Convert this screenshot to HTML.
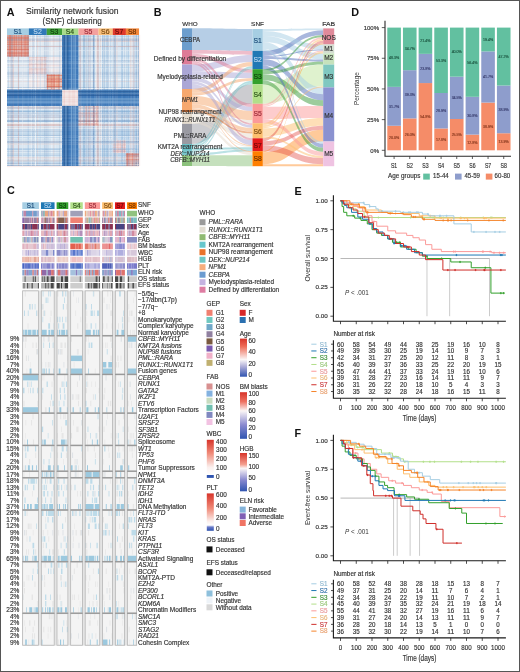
<!DOCTYPE html>
<html><head><meta charset="utf-8"><title>Figure</title>
<style>
html,body{margin:0;padding:0;background:#fff;}
body{width:520px;height:672px;overflow:hidden;font-family:"Liberation Sans", sans-serif;}
svg{display:block;will-change:transform;}
text{font-family:"Liberation Sans", sans-serif;}
</style></head><body>
<svg width="520" height="672" viewBox="0 0 520 672">
<rect x="0" y="0" width="520" height="672" fill="#fff"/>
<text x="6.80" y="15.80" font-size="10.8" fill="#111" font-weight="bold">A</text>
<text x="72.30" y="14.10" font-size="8.8" fill="#333" stroke="#333" stroke-width="0.16" text-anchor="middle" textLength="92.6" lengthAdjust="spacingAndGlyphs">Similarity network fusion</text>
<text x="72.20" y="23.50" font-size="8.8" fill="#333" stroke="#333" stroke-width="0.16" text-anchor="middle" textLength="59.2" lengthAdjust="spacingAndGlyphs">(SNF) clustering</text>
<rect x="7.00" y="28.4" width="21.93" height="6.6" fill="#a6cee3"/>
<text x="17.64" y="34.10" font-size="6.9" fill="#1a4a78" stroke="#1a4a78" stroke-width="0.16" text-anchor="middle">S1</text>
<rect x="28.88" y="28.4" width="17.92" height="6.6" fill="#2f78b8"/>
<text x="37.51" y="34.10" font-size="6.9" fill="#bcd8f0" stroke="#bcd8f0" stroke-width="0.16" text-anchor="middle">S2</text>
<rect x="46.75" y="28.4" width="15.36" height="6.6" fill="#3f9e3a"/>
<text x="54.10" y="34.10" font-size="6.9" fill="#0d3d0a" stroke="#0d3d0a" stroke-width="0.16" text-anchor="middle">S3</text>
<rect x="62.06" y="28.4" width="16.46" height="6.6" fill="#a9db8c"/>
<text x="69.97" y="34.10" font-size="6.9" fill="#2a5018" stroke="#2a5018" stroke-width="0.16" text-anchor="middle">S4</text>
<rect x="78.47" y="28.4" width="20.11" height="6.6" fill="#f4a09e"/>
<text x="88.20" y="34.10" font-size="6.9" fill="#9a2a38" stroke="#9a2a38" stroke-width="0.16" text-anchor="middle">S5</text>
<rect x="98.52" y="28.4" width="14.27" height="6.6" fill="#f8c07c"/>
<text x="105.34" y="34.10" font-size="6.9" fill="#7a4a12" stroke="#7a4a12" stroke-width="0.16" text-anchor="middle">S6</text>
<rect x="112.75" y="28.4" width="13.18" height="6.6" fill="#df3a2c"/>
<text x="119.01" y="34.10" font-size="6.9" fill="#6a0808" stroke="#6a0808" stroke-width="0.16" text-anchor="middle">S7</text>
<rect x="125.87" y="28.4" width="13.18" height="6.6" fill="#f3873a"/>
<text x="132.14" y="34.10" font-size="6.9" fill="#6b3000" stroke="#6b3000" stroke-width="0.16" text-anchor="middle">S8</text>
<rect x="7.00" y="35.00" width="21.93" height="21.76" fill="#e6a898"/>
<rect x="28.88" y="35.00" width="17.92" height="21.76" fill="#e1e9f1"/>
<rect x="46.75" y="35.00" width="15.36" height="21.76" fill="#e1e9f1"/>
<rect x="62.06" y="35.00" width="16.46" height="21.76" fill="#3f79b9"/>
<rect x="78.47" y="35.00" width="20.11" height="21.76" fill="#dae7f2"/>
<rect x="98.52" y="35.00" width="14.27" height="21.76" fill="#dae7f2"/>
<rect x="112.75" y="35.00" width="13.18" height="21.76" fill="#dae7f2"/>
<rect x="125.87" y="35.00" width="13.18" height="21.76" fill="#dae7f2"/>
<rect x="7.00" y="56.71" width="21.93" height="17.78" fill="#e1e9f1"/>
<rect x="28.88" y="56.71" width="17.92" height="17.78" fill="#efe2e4"/>
<rect x="46.75" y="56.71" width="15.36" height="17.78" fill="#ebe6ea"/>
<rect x="62.06" y="56.71" width="16.46" height="17.78" fill="#3f79b9"/>
<rect x="78.47" y="56.71" width="20.11" height="17.78" fill="#dae7f2"/>
<rect x="98.52" y="56.71" width="14.27" height="17.78" fill="#dae7f2"/>
<rect x="112.75" y="56.71" width="13.18" height="17.78" fill="#dae7f2"/>
<rect x="125.87" y="56.71" width="13.18" height="17.78" fill="#dae7f2"/>
<rect x="7.00" y="74.44" width="21.93" height="15.25" fill="#e1e9f1"/>
<rect x="28.88" y="74.44" width="17.92" height="15.25" fill="#ebe6ea"/>
<rect x="46.75" y="74.44" width="15.36" height="15.25" fill="#e9a890"/>
<rect x="62.06" y="74.44" width="16.46" height="15.25" fill="#3f79b9"/>
<rect x="78.47" y="74.44" width="20.11" height="15.25" fill="#dae7f2"/>
<rect x="98.52" y="74.44" width="14.27" height="15.25" fill="#dae7f2"/>
<rect x="112.75" y="74.44" width="13.18" height="15.25" fill="#dae7f2"/>
<rect x="125.87" y="74.44" width="13.18" height="15.25" fill="#dae7f2"/>
<rect x="7.00" y="89.64" width="21.93" height="16.33" fill="#3f79b9"/>
<rect x="28.88" y="89.64" width="17.92" height="16.33" fill="#3f79b9"/>
<rect x="46.75" y="89.64" width="15.36" height="16.33" fill="#3f79b9"/>
<rect x="62.06" y="89.64" width="16.46" height="16.33" fill="#f3e8e8"/>
<rect x="78.47" y="89.64" width="20.11" height="16.33" fill="#3f79b9"/>
<rect x="98.52" y="89.64" width="14.27" height="16.33" fill="#3f79b9"/>
<rect x="112.75" y="89.64" width="13.18" height="16.33" fill="#3f79b9"/>
<rect x="125.87" y="89.64" width="13.18" height="16.33" fill="#3f79b9"/>
<rect x="7.00" y="105.93" width="21.93" height="19.95" fill="#dae7f2"/>
<rect x="28.88" y="105.93" width="17.92" height="19.95" fill="#dae7f2"/>
<rect x="46.75" y="105.93" width="15.36" height="19.95" fill="#dae7f2"/>
<rect x="62.06" y="105.93" width="16.46" height="19.95" fill="#3f79b9"/>
<rect x="78.47" y="105.93" width="20.11" height="19.95" fill="#f1dddd"/>
<rect x="98.52" y="105.93" width="14.27" height="19.95" fill="#cddff0"/>
<rect x="112.75" y="105.93" width="13.18" height="19.95" fill="#cddff0"/>
<rect x="125.87" y="105.93" width="13.18" height="19.95" fill="#cddff0"/>
<rect x="7.00" y="125.83" width="21.93" height="14.16" fill="#dae7f2"/>
<rect x="28.88" y="125.83" width="17.92" height="14.16" fill="#dae7f2"/>
<rect x="46.75" y="125.83" width="15.36" height="14.16" fill="#dae7f2"/>
<rect x="62.06" y="125.83" width="16.46" height="14.16" fill="#3f79b9"/>
<rect x="78.47" y="125.83" width="20.11" height="14.16" fill="#cddff0"/>
<rect x="98.52" y="125.83" width="14.27" height="14.16" fill="#e2e8f0"/>
<rect x="112.75" y="125.83" width="13.18" height="14.16" fill="#cddff0"/>
<rect x="125.87" y="125.83" width="13.18" height="14.16" fill="#cddff0"/>
<rect x="7.00" y="139.94" width="21.93" height="13.08" fill="#dae7f2"/>
<rect x="28.88" y="139.94" width="17.92" height="13.08" fill="#dae7f2"/>
<rect x="46.75" y="139.94" width="15.36" height="13.08" fill="#dae7f2"/>
<rect x="62.06" y="139.94" width="16.46" height="13.08" fill="#3f79b9"/>
<rect x="78.47" y="139.94" width="20.11" height="13.08" fill="#cddff0"/>
<rect x="98.52" y="139.94" width="14.27" height="13.08" fill="#cddff0"/>
<rect x="112.75" y="139.94" width="13.18" height="13.08" fill="#f0e0e2"/>
<rect x="125.87" y="139.94" width="13.18" height="13.08" fill="#cddff0"/>
<rect x="7.00" y="152.97" width="21.93" height="13.08" fill="#dae7f2"/>
<rect x="28.88" y="152.97" width="17.92" height="13.08" fill="#dae7f2"/>
<rect x="46.75" y="152.97" width="15.36" height="13.08" fill="#dae7f2"/>
<rect x="62.06" y="152.97" width="16.46" height="13.08" fill="#3f79b9"/>
<rect x="78.47" y="152.97" width="20.11" height="13.08" fill="#cddff0"/>
<rect x="98.52" y="152.97" width="14.27" height="13.08" fill="#cddff0"/>
<rect x="112.75" y="152.97" width="13.18" height="13.08" fill="#cddff0"/>
<rect x="125.87" y="152.97" width="13.18" height="13.08" fill="#e9b6ac"/>
<g><rect x="112.35" y="35.0" width="1.1" height="131.0" fill="#8fb8dc" opacity="0.56"/><rect x="7.0" y="139.55" width="132.0" height="1.1" fill="#8fb8dc" opacity="0.56"/><rect x="51.26" y="35.0" width="1.1" height="131.0" fill="#ffffff" opacity="0.54"/><rect x="7.0" y="78.93" width="132.0" height="1.1" fill="#ffffff" opacity="0.54"/><rect x="23.71" y="35.0" width="0.5" height="131.0" fill="#ffffff" opacity="0.57"/><rect x="7.0" y="51.58" width="132.0" height="0.5" fill="#ffffff" opacity="0.57"/><rect x="114.51" y="35.0" width="1.1" height="131.0" fill="#ec9a88" opacity="0.28"/><rect x="7.0" y="141.70" width="132.0" height="1.1" fill="#ec9a88" opacity="0.28"/><rect x="88.00" y="35.0" width="0.5" height="131.0" fill="#ec9a88" opacity="0.16"/><rect x="7.0" y="115.39" width="132.0" height="0.5" fill="#ec9a88" opacity="0.16"/><rect x="55.43" y="35.0" width="0.5" height="131.0" fill="#ffffff" opacity="0.40"/><rect x="7.0" y="83.06" width="132.0" height="0.5" fill="#ffffff" opacity="0.40"/><rect x="90.29" y="35.0" width="0.7" height="131.0" fill="#ffffff" opacity="0.45"/><rect x="7.0" y="117.66" width="132.0" height="0.7" fill="#ffffff" opacity="0.45"/><rect x="106.15" y="35.0" width="0.9" height="131.0" fill="#8fb8dc" opacity="0.47"/><rect x="7.0" y="133.40" width="132.0" height="0.9" fill="#8fb8dc" opacity="0.47"/><rect x="83.51" y="35.0" width="0.9" height="131.0" fill="#8fb8dc" opacity="0.37"/><rect x="7.0" y="110.93" width="132.0" height="0.9" fill="#8fb8dc" opacity="0.37"/><rect x="10.87" y="35.0" width="0.5" height="131.0" fill="#8fb8dc" opacity="0.55"/><rect x="7.0" y="38.84" width="132.0" height="0.5" fill="#8fb8dc" opacity="0.55"/><rect x="136.46" y="35.0" width="0.5" height="131.0" fill="#2a5f9e" opacity="0.29"/><rect x="7.0" y="163.48" width="132.0" height="0.5" fill="#2a5f9e" opacity="0.29"/><rect x="27.67" y="35.0" width="1.1" height="131.0" fill="#8fb8dc" opacity="0.47"/><rect x="7.0" y="55.52" width="132.0" height="1.1" fill="#8fb8dc" opacity="0.47"/><rect x="44.16" y="35.0" width="0.9" height="131.0" fill="#2a5f9e" opacity="0.17"/><rect x="7.0" y="71.88" width="132.0" height="0.9" fill="#2a5f9e" opacity="0.17"/><rect x="124.35" y="35.0" width="0.5" height="131.0" fill="#2a5f9e" opacity="0.24"/><rect x="7.0" y="151.47" width="132.0" height="0.5" fill="#2a5f9e" opacity="0.24"/><rect x="32.60" y="35.0" width="1.1" height="131.0" fill="#2a5f9e" opacity="0.21"/><rect x="7.0" y="60.41" width="132.0" height="1.1" fill="#2a5f9e" opacity="0.21"/><rect x="90.01" y="35.0" width="0.7" height="131.0" fill="#8fb8dc" opacity="0.42"/><rect x="7.0" y="117.38" width="132.0" height="0.7" fill="#8fb8dc" opacity="0.42"/><rect x="138.40" y="35.0" width="0.5" height="131.0" fill="#2a5f9e" opacity="0.29"/><rect x="7.0" y="165.40" width="132.0" height="0.5" fill="#2a5f9e" opacity="0.29"/><rect x="96.88" y="35.0" width="0.5" height="131.0" fill="#2a5f9e" opacity="0.18"/><rect x="7.0" y="124.20" width="132.0" height="0.5" fill="#2a5f9e" opacity="0.18"/><rect x="117.32" y="35.0" width="0.5" height="131.0" fill="#2a5f9e" opacity="0.13"/><rect x="7.0" y="144.48" width="132.0" height="0.5" fill="#2a5f9e" opacity="0.13"/><rect x="79.05" y="35.0" width="0.9" height="131.0" fill="#ec9a88" opacity="0.23"/><rect x="7.0" y="106.50" width="132.0" height="0.9" fill="#ec9a88" opacity="0.23"/><rect x="18.49" y="35.0" width="0.7" height="131.0" fill="#2a5f9e" opacity="0.17"/><rect x="7.0" y="46.41" width="132.0" height="0.7" fill="#2a5f9e" opacity="0.17"/><rect x="86.17" y="35.0" width="1.1" height="131.0" fill="#ec9a88" opacity="0.18"/><rect x="7.0" y="113.57" width="132.0" height="1.1" fill="#ec9a88" opacity="0.18"/><rect x="116.44" y="35.0" width="0.9" height="131.0" fill="#ec9a88" opacity="0.31"/><rect x="7.0" y="143.61" width="132.0" height="0.9" fill="#ec9a88" opacity="0.31"/><rect x="17.45" y="35.0" width="0.7" height="131.0" fill="#ffffff" opacity="0.42"/><rect x="7.0" y="45.37" width="132.0" height="0.7" fill="#ffffff" opacity="0.42"/><rect x="83.22" y="35.0" width="0.5" height="131.0" fill="#2a5f9e" opacity="0.11"/><rect x="7.0" y="110.64" width="132.0" height="0.5" fill="#2a5f9e" opacity="0.11"/><rect x="92.90" y="35.0" width="1.1" height="131.0" fill="#2a5f9e" opacity="0.26"/><rect x="7.0" y="120.25" width="132.0" height="1.1" fill="#2a5f9e" opacity="0.26"/><rect x="96.23" y="35.0" width="0.7" height="131.0" fill="#ec9a88" opacity="0.35"/><rect x="7.0" y="123.56" width="132.0" height="0.7" fill="#ec9a88" opacity="0.35"/><rect x="33.39" y="35.0" width="0.5" height="131.0" fill="#2a5f9e" opacity="0.28"/><rect x="7.0" y="61.19" width="132.0" height="0.5" fill="#2a5f9e" opacity="0.28"/><rect x="7.91" y="35.0" width="0.9" height="131.0" fill="#8fb8dc" opacity="0.37"/><rect x="7.0" y="35.91" width="132.0" height="0.9" fill="#8fb8dc" opacity="0.37"/><rect x="22.53" y="35.0" width="0.7" height="131.0" fill="#2a5f9e" opacity="0.13"/><rect x="7.0" y="50.41" width="132.0" height="0.7" fill="#2a5f9e" opacity="0.13"/><rect x="98.50" y="35.0" width="0.7" height="131.0" fill="#ffffff" opacity="0.58"/><rect x="7.0" y="125.81" width="132.0" height="0.7" fill="#ffffff" opacity="0.58"/><rect x="100.11" y="35.0" width="0.9" height="131.0" fill="#ec9a88" opacity="0.15"/><rect x="7.0" y="127.40" width="132.0" height="0.9" fill="#ec9a88" opacity="0.15"/><rect x="107.66" y="35.0" width="0.9" height="131.0" fill="#8fb8dc" opacity="0.60"/><rect x="7.0" y="134.90" width="132.0" height="0.9" fill="#8fb8dc" opacity="0.60"/><rect x="37.07" y="35.0" width="0.5" height="131.0" fill="#ec9a88" opacity="0.30"/><rect x="7.0" y="64.84" width="132.0" height="0.5" fill="#ec9a88" opacity="0.30"/><rect x="126.49" y="35.0" width="0.9" height="131.0" fill="#8fb8dc" opacity="0.51"/><rect x="7.0" y="153.58" width="132.0" height="0.9" fill="#8fb8dc" opacity="0.51"/><rect x="131.20" y="35.0" width="1.1" height="131.0" fill="#ec9a88" opacity="0.16"/><rect x="7.0" y="158.26" width="132.0" height="1.1" fill="#ec9a88" opacity="0.16"/><rect x="79.35" y="35.0" width="1.1" height="131.0" fill="#8fb8dc" opacity="0.30"/><rect x="7.0" y="106.80" width="132.0" height="1.1" fill="#8fb8dc" opacity="0.30"/><rect x="11.99" y="35.0" width="0.5" height="131.0" fill="#ec9a88" opacity="0.33"/><rect x="7.0" y="39.95" width="132.0" height="0.5" fill="#ec9a88" opacity="0.33"/><rect x="101.98" y="35.0" width="1.1" height="131.0" fill="#8fb8dc" opacity="0.55"/><rect x="7.0" y="129.26" width="132.0" height="1.1" fill="#8fb8dc" opacity="0.55"/><rect x="48.31" y="35.0" width="0.5" height="131.0" fill="#8fb8dc" opacity="0.33"/><rect x="7.0" y="75.99" width="132.0" height="0.5" fill="#8fb8dc" opacity="0.33"/><rect x="59.71" y="35.0" width="0.5" height="131.0" fill="#8fb8dc" opacity="0.48"/><rect x="7.0" y="87.32" width="132.0" height="0.5" fill="#8fb8dc" opacity="0.48"/><rect x="93.96" y="35.0" width="0.5" height="131.0" fill="#8fb8dc" opacity="0.34"/><rect x="7.0" y="121.30" width="132.0" height="0.5" fill="#8fb8dc" opacity="0.34"/><rect x="109.85" y="35.0" width="0.9" height="131.0" fill="#ffffff" opacity="0.43"/><rect x="7.0" y="137.07" width="132.0" height="0.9" fill="#ffffff" opacity="0.43"/><rect x="98.26" y="35.0" width="0.9" height="131.0" fill="#2a5f9e" opacity="0.19"/><rect x="7.0" y="125.57" width="132.0" height="0.9" fill="#2a5f9e" opacity="0.19"/><rect x="133.81" y="35.0" width="0.7" height="131.0" fill="#8fb8dc" opacity="0.47"/><rect x="7.0" y="160.85" width="132.0" height="0.7" fill="#8fb8dc" opacity="0.47"/><rect x="86.71" y="35.0" width="1.1" height="131.0" fill="#8fb8dc" opacity="0.57"/><rect x="7.0" y="114.11" width="132.0" height="1.1" fill="#8fb8dc" opacity="0.57"/><rect x="10.53" y="35.0" width="0.9" height="131.0" fill="#ec9a88" opacity="0.17"/><rect x="7.0" y="38.50" width="132.0" height="0.9" fill="#ec9a88" opacity="0.17"/><rect x="134.50" y="35.0" width="1.1" height="131.0" fill="#8fb8dc" opacity="0.46"/><rect x="7.0" y="161.54" width="132.0" height="1.1" fill="#8fb8dc" opacity="0.46"/><rect x="121.83" y="35.0" width="1.1" height="131.0" fill="#8fb8dc" opacity="0.55"/><rect x="7.0" y="148.96" width="132.0" height="1.1" fill="#8fb8dc" opacity="0.55"/><rect x="40.45" y="35.0" width="0.9" height="131.0" fill="#ffffff" opacity="0.39"/><rect x="7.0" y="68.20" width="132.0" height="0.9" fill="#ffffff" opacity="0.39"/><rect x="79.63" y="35.0" width="0.7" height="131.0" fill="#8fb8dc" opacity="0.36"/><rect x="7.0" y="107.08" width="132.0" height="0.7" fill="#8fb8dc" opacity="0.36"/><rect x="94.60" y="35.0" width="0.7" height="131.0" fill="#ffffff" opacity="0.60"/><rect x="7.0" y="121.93" width="132.0" height="0.7" fill="#ffffff" opacity="0.60"/><rect x="13.00" y="35.0" width="0.9" height="131.0" fill="#ec9a88" opacity="0.29"/><rect x="7.0" y="40.96" width="132.0" height="0.9" fill="#ec9a88" opacity="0.29"/><rect x="33.16" y="35.0" width="0.7" height="131.0" fill="#ffffff" opacity="0.53"/><rect x="7.0" y="60.96" width="132.0" height="0.7" fill="#ffffff" opacity="0.53"/><rect x="80.66" y="35.0" width="0.7" height="131.0" fill="#2a5f9e" opacity="0.17"/><rect x="7.0" y="108.10" width="132.0" height="0.7" fill="#2a5f9e" opacity="0.17"/><rect x="109.97" y="35.0" width="0.7" height="131.0" fill="#8fb8dc" opacity="0.54"/><rect x="7.0" y="137.19" width="132.0" height="0.7" fill="#8fb8dc" opacity="0.54"/><rect x="83.75" y="35.0" width="1.1" height="131.0" fill="#2a5f9e" opacity="0.19"/><rect x="7.0" y="111.17" width="132.0" height="1.1" fill="#2a5f9e" opacity="0.19"/><rect x="133.55" y="35.0" width="1.1" height="131.0" fill="#ffffff" opacity="0.50"/><rect x="7.0" y="160.59" width="132.0" height="1.1" fill="#ffffff" opacity="0.50"/><rect x="128.07" y="35.0" width="0.9" height="131.0" fill="#8fb8dc" opacity="0.50"/><rect x="7.0" y="155.15" width="132.0" height="0.9" fill="#8fb8dc" opacity="0.50"/><rect x="46.75" y="35.0" width="0.5" height="131.0" fill="#2a5f9e" opacity="0.28"/><rect x="7.0" y="74.45" width="132.0" height="0.5" fill="#2a5f9e" opacity="0.28"/><rect x="137.63" y="35.0" width="0.9" height="131.0" fill="#2a5f9e" opacity="0.24"/><rect x="7.0" y="164.64" width="132.0" height="0.9" fill="#2a5f9e" opacity="0.24"/><rect x="34.79" y="35.0" width="0.5" height="131.0" fill="#8fb8dc" opacity="0.47"/><rect x="7.0" y="62.58" width="132.0" height="0.5" fill="#8fb8dc" opacity="0.47"/><rect x="107.97" y="35.0" width="0.5" height="131.0" fill="#2a5f9e" opacity="0.27"/><rect x="7.0" y="135.21" width="132.0" height="0.5" fill="#2a5f9e" opacity="0.27"/><rect x="80.59" y="35.0" width="0.9" height="131.0" fill="#ffffff" opacity="0.57"/><rect x="7.0" y="108.04" width="132.0" height="0.9" fill="#ffffff" opacity="0.57"/><rect x="138.99" y="35.0" width="1.1" height="131.0" fill="#ec9a88" opacity="0.25"/><rect x="7.0" y="165.99" width="132.0" height="1.1" fill="#ec9a88" opacity="0.25"/><rect x="83.68" y="35.0" width="0.7" height="131.0" fill="#8fb8dc" opacity="0.47"/><rect x="7.0" y="111.10" width="132.0" height="0.7" fill="#8fb8dc" opacity="0.47"/><rect x="112.46" y="35.0" width="0.7" height="131.0" fill="#ffffff" opacity="0.55"/><rect x="7.0" y="139.66" width="132.0" height="0.7" fill="#ffffff" opacity="0.55"/><rect x="97.34" y="35.0" width="1.1" height="131.0" fill="#ec9a88" opacity="0.32"/><rect x="7.0" y="124.65" width="132.0" height="1.1" fill="#ec9a88" opacity="0.32"/><rect x="96.90" y="35.0" width="0.7" height="131.0" fill="#ec9a88" opacity="0.25"/><rect x="7.0" y="124.22" width="132.0" height="0.7" fill="#ec9a88" opacity="0.25"/><rect x="90.63" y="35.0" width="0.5" height="131.0" fill="#ffffff" opacity="0.48"/><rect x="7.0" y="118.00" width="132.0" height="0.5" fill="#ffffff" opacity="0.48"/><rect x="60.38" y="35.0" width="1.1" height="131.0" fill="#ffffff" opacity="0.60"/><rect x="7.0" y="87.97" width="132.0" height="1.1" fill="#ffffff" opacity="0.60"/><rect x="12.13" y="35.0" width="0.7" height="131.0" fill="#2a5f9e" opacity="0.21"/><rect x="7.0" y="40.09" width="132.0" height="0.7" fill="#2a5f9e" opacity="0.21"/><rect x="136.39" y="35.0" width="1.1" height="131.0" fill="#2a5f9e" opacity="0.19"/><rect x="7.0" y="163.41" width="132.0" height="1.1" fill="#2a5f9e" opacity="0.19"/><rect x="30.88" y="35.0" width="1.1" height="131.0" fill="#ffffff" opacity="0.33"/><rect x="7.0" y="58.70" width="132.0" height="1.1" fill="#ffffff" opacity="0.33"/><rect x="80.25" y="35.0" width="0.9" height="131.0" fill="#2a5f9e" opacity="0.26"/><rect x="7.0" y="107.70" width="132.0" height="0.9" fill="#2a5f9e" opacity="0.26"/><rect x="17.69" y="35.0" width="0.7" height="131.0" fill="#2a5f9e" opacity="0.16"/><rect x="7.0" y="45.61" width="132.0" height="0.7" fill="#2a5f9e" opacity="0.16"/><rect x="93.27" y="35.0" width="1.1" height="131.0" fill="#2a5f9e" opacity="0.25"/><rect x="7.0" y="120.61" width="132.0" height="1.1" fill="#2a5f9e" opacity="0.25"/><rect x="35.11" y="35.0" width="0.9" height="131.0" fill="#ffffff" opacity="0.51"/><rect x="7.0" y="62.89" width="132.0" height="0.9" fill="#ffffff" opacity="0.51"/><rect x="79.88" y="35.0" width="1.1" height="131.0" fill="#ec9a88" opacity="0.27"/><rect x="7.0" y="107.32" width="132.0" height="1.1" fill="#ec9a88" opacity="0.27"/><rect x="130.76" y="35.0" width="0.7" height="131.0" fill="#ffffff" opacity="0.56"/><rect x="7.0" y="157.82" width="132.0" height="0.7" fill="#ffffff" opacity="0.56"/><rect x="130.33" y="35.0" width="0.7" height="131.0" fill="#ec9a88" opacity="0.28"/><rect x="7.0" y="157.40" width="132.0" height="0.7" fill="#ec9a88" opacity="0.28"/><rect x="89.43" y="35.0" width="0.9" height="131.0" fill="#ec9a88" opacity="0.19"/><rect x="7.0" y="116.81" width="132.0" height="0.9" fill="#ec9a88" opacity="0.19"/><rect x="90.25" y="35.0" width="0.5" height="131.0" fill="#2a5f9e" opacity="0.15"/><rect x="7.0" y="117.61" width="132.0" height="0.5" fill="#2a5f9e" opacity="0.15"/><rect x="94.18" y="35.0" width="0.5" height="131.0" fill="#8fb8dc" opacity="0.58"/><rect x="7.0" y="121.52" width="132.0" height="0.5" fill="#8fb8dc" opacity="0.58"/><rect x="121.13" y="35.0" width="0.7" height="131.0" fill="#8fb8dc" opacity="0.51"/><rect x="7.0" y="148.27" width="132.0" height="0.7" fill="#8fb8dc" opacity="0.51"/><rect x="18.06" y="35.0" width="0.9" height="131.0" fill="#ec9a88" opacity="0.34"/><rect x="7.0" y="45.98" width="132.0" height="0.9" fill="#ec9a88" opacity="0.34"/><rect x="34.84" y="35.0" width="0.9" height="131.0" fill="#ffffff" opacity="0.51"/><rect x="7.0" y="62.63" width="132.0" height="0.9" fill="#ffffff" opacity="0.51"/><rect x="10.88" y="35.0" width="0.5" height="131.0" fill="#2a5f9e" opacity="0.25"/><rect x="7.0" y="38.86" width="132.0" height="0.5" fill="#2a5f9e" opacity="0.25"/><rect x="133.26" y="35.0" width="1.1" height="131.0" fill="#2a5f9e" opacity="0.14"/><rect x="7.0" y="160.30" width="132.0" height="1.1" fill="#2a5f9e" opacity="0.14"/><rect x="53.26" y="35.0" width="0.9" height="131.0" fill="#ec9a88" opacity="0.17"/><rect x="7.0" y="80.91" width="132.0" height="0.9" fill="#ec9a88" opacity="0.17"/><rect x="59.39" y="35.0" width="1.1" height="131.0" fill="#2a5f9e" opacity="0.12"/><rect x="7.0" y="86.99" width="132.0" height="1.1" fill="#2a5f9e" opacity="0.12"/><rect x="104.28" y="35.0" width="0.9" height="131.0" fill="#8fb8dc" opacity="0.48"/><rect x="7.0" y="131.55" width="132.0" height="0.9" fill="#8fb8dc" opacity="0.48"/><rect x="45.60" y="35.0" width="0.7" height="131.0" fill="#2a5f9e" opacity="0.19"/><rect x="7.0" y="73.31" width="132.0" height="0.7" fill="#2a5f9e" opacity="0.19"/><rect x="103.00" y="35.0" width="0.7" height="131.0" fill="#ffffff" opacity="0.33"/><rect x="7.0" y="130.28" width="132.0" height="0.7" fill="#ffffff" opacity="0.33"/><rect x="98.06" y="35.0" width="0.5" height="131.0" fill="#ec9a88" opacity="0.29"/><rect x="7.0" y="125.37" width="132.0" height="0.5" fill="#ec9a88" opacity="0.29"/><rect x="116.57" y="35.0" width="1.1" height="131.0" fill="#ffffff" opacity="0.36"/><rect x="7.0" y="143.74" width="132.0" height="1.1" fill="#ffffff" opacity="0.36"/><rect x="99.11" y="35.0" width="0.9" height="131.0" fill="#2a5f9e" opacity="0.12"/><rect x="7.0" y="126.41" width="132.0" height="0.9" fill="#2a5f9e" opacity="0.12"/><rect x="88.16" y="35.0" width="1.1" height="131.0" fill="#2a5f9e" opacity="0.17"/><rect x="7.0" y="115.54" width="132.0" height="1.1" fill="#2a5f9e" opacity="0.17"/><rect x="100.86" y="35.0" width="1.1" height="131.0" fill="#ffffff" opacity="0.42"/><rect x="7.0" y="128.15" width="132.0" height="1.1" fill="#ffffff" opacity="0.42"/><rect x="82.74" y="35.0" width="0.9" height="131.0" fill="#8fb8dc" opacity="0.33"/><rect x="7.0" y="110.17" width="132.0" height="0.9" fill="#8fb8dc" opacity="0.33"/><rect x="138.43" y="35.0" width="0.5" height="131.0" fill="#2a5f9e" opacity="0.29"/><rect x="7.0" y="165.43" width="132.0" height="0.5" fill="#2a5f9e" opacity="0.29"/><rect x="98.92" y="35.0" width="1.1" height="131.0" fill="#ffffff" opacity="0.46"/><rect x="7.0" y="126.22" width="132.0" height="1.1" fill="#ffffff" opacity="0.46"/><rect x="138.99" y="35.0" width="0.7" height="131.0" fill="#ffffff" opacity="0.53"/><rect x="7.0" y="165.99" width="132.0" height="0.7" fill="#ffffff" opacity="0.53"/><rect x="79.85" y="35.0" width="0.5" height="131.0" fill="#ffffff" opacity="0.38"/><rect x="7.0" y="107.30" width="132.0" height="0.5" fill="#ffffff" opacity="0.38"/><rect x="81.52" y="35.0" width="0.7" height="131.0" fill="#ffffff" opacity="0.30"/><rect x="7.0" y="108.96" width="132.0" height="0.7" fill="#ffffff" opacity="0.30"/><rect x="22.18" y="35.0" width="0.9" height="131.0" fill="#ffffff" opacity="0.45"/><rect x="7.0" y="50.06" width="132.0" height="0.9" fill="#ffffff" opacity="0.45"/><rect x="112.85" y="35.0" width="0.5" height="131.0" fill="#ffffff" opacity="0.54"/><rect x="7.0" y="140.05" width="132.0" height="0.5" fill="#ffffff" opacity="0.54"/><rect x="39.90" y="35.0" width="0.5" height="131.0" fill="#8fb8dc" opacity="0.58"/><rect x="7.0" y="67.65" width="132.0" height="0.5" fill="#8fb8dc" opacity="0.58"/><rect x="137.19" y="35.0" width="1.1" height="131.0" fill="#ffffff" opacity="0.48"/><rect x="7.0" y="164.20" width="132.0" height="1.1" fill="#ffffff" opacity="0.48"/><rect x="108.40" y="35.0" width="0.9" height="131.0" fill="#ffffff" opacity="0.48"/><rect x="7.0" y="135.64" width="132.0" height="0.9" fill="#ffffff" opacity="0.48"/><rect x="95.77" y="35.0" width="0.9" height="131.0" fill="#ffffff" opacity="0.39"/><rect x="7.0" y="123.09" width="132.0" height="0.9" fill="#ffffff" opacity="0.39"/><rect x="96.39" y="35.0" width="0.5" height="131.0" fill="#ffffff" opacity="0.48"/><rect x="7.0" y="123.71" width="132.0" height="0.5" fill="#ffffff" opacity="0.48"/><rect x="103.21" y="35.0" width="1.1" height="131.0" fill="#2a5f9e" opacity="0.16"/><rect x="7.0" y="130.49" width="132.0" height="1.1" fill="#2a5f9e" opacity="0.16"/><rect x="113.68" y="35.0" width="0.9" height="131.0" fill="#2a5f9e" opacity="0.28"/><rect x="7.0" y="140.87" width="132.0" height="0.9" fill="#2a5f9e" opacity="0.28"/><rect x="107.38" y="35.0" width="0.7" height="131.0" fill="#2a5f9e" opacity="0.12"/><rect x="7.0" y="134.62" width="132.0" height="0.7" fill="#2a5f9e" opacity="0.12"/><rect x="133.52" y="35.0" width="0.7" height="131.0" fill="#ec9a88" opacity="0.31"/><rect x="7.0" y="160.56" width="132.0" height="0.7" fill="#ec9a88" opacity="0.31"/><rect x="85.44" y="35.0" width="1.1" height="131.0" fill="#8fb8dc" opacity="0.36"/><rect x="7.0" y="112.84" width="132.0" height="1.1" fill="#8fb8dc" opacity="0.36"/><rect x="36.08" y="35.0" width="0.5" height="131.0" fill="#8fb8dc" opacity="0.34"/><rect x="7.0" y="63.86" width="132.0" height="0.5" fill="#8fb8dc" opacity="0.34"/><rect x="114.85" y="35.0" width="1.1" height="131.0" fill="#8fb8dc" opacity="0.52"/><rect x="7.0" y="142.03" width="132.0" height="1.1" fill="#8fb8dc" opacity="0.52"/><rect x="86.76" y="35.0" width="0.9" height="131.0" fill="#ffffff" opacity="0.37"/><rect x="7.0" y="114.16" width="132.0" height="0.9" fill="#ffffff" opacity="0.37"/></g>
<rect x="62.06" y="35.0" width="16.41" height="54.64" fill="#3f79b9" opacity="0.7"/><rect x="62.06" y="105.93" width="16.41" height="60.07" fill="#3f79b9" opacity="0.7"/><rect x="7.0" y="89.64" width="55.06" height="16.28" fill="#3f79b9" opacity="0.7"/><rect x="78.47" y="89.64" width="60.53" height="16.28" fill="#3f79b9" opacity="0.7"/>
<g><rect x="63.82" y="35.0" width="0.9" height="54.64" fill="#1d4f8c" opacity="0.49"/><rect x="63.82" y="105.93" width="0.9" height="60.07" fill="#1d4f8c" opacity="0.49"/><rect x="7.0" y="91.38" width="55.06" height="0.9" fill="#1d4f8c" opacity="0.49"/><rect x="78.47" y="91.38" width="60.53" height="0.9" fill="#1d4f8c" opacity="0.49"/><rect x="67.60" y="35.0" width="0.9" height="54.64" fill="#1d4f8c" opacity="0.51"/><rect x="67.60" y="105.93" width="0.9" height="60.07" fill="#1d4f8c" opacity="0.51"/><rect x="7.0" y="95.14" width="55.06" height="0.9" fill="#1d4f8c" opacity="0.51"/><rect x="78.47" y="95.14" width="60.53" height="0.9" fill="#1d4f8c" opacity="0.51"/><rect x="70.77" y="35.0" width="1.2" height="54.64" fill="#8db6de" opacity="0.49"/><rect x="70.77" y="105.93" width="1.2" height="60.07" fill="#8db6de" opacity="0.49"/><rect x="7.0" y="98.28" width="55.06" height="1.2" fill="#8db6de" opacity="0.49"/><rect x="78.47" y="98.28" width="60.53" height="1.2" fill="#8db6de" opacity="0.49"/><rect x="73.67" y="35.0" width="0.6" height="54.64" fill="#8db6de" opacity="0.45"/><rect x="73.67" y="105.93" width="0.6" height="60.07" fill="#8db6de" opacity="0.45"/><rect x="7.0" y="101.16" width="55.06" height="0.6" fill="#8db6de" opacity="0.45"/><rect x="78.47" y="101.16" width="60.53" height="0.6" fill="#8db6de" opacity="0.45"/><rect x="72.12" y="35.0" width="0.6" height="54.64" fill="#1d4f8c" opacity="0.31"/><rect x="72.12" y="105.93" width="0.6" height="60.07" fill="#1d4f8c" opacity="0.31"/><rect x="7.0" y="99.63" width="55.06" height="0.6" fill="#1d4f8c" opacity="0.31"/><rect x="78.47" y="99.63" width="60.53" height="0.6" fill="#1d4f8c" opacity="0.31"/><rect x="63.00" y="35.0" width="0.9" height="54.64" fill="#8db6de" opacity="0.43"/><rect x="63.00" y="105.93" width="0.9" height="60.07" fill="#8db6de" opacity="0.43"/><rect x="7.0" y="90.57" width="55.06" height="0.9" fill="#8db6de" opacity="0.43"/><rect x="78.47" y="90.57" width="60.53" height="0.9" fill="#8db6de" opacity="0.43"/><rect x="71.67" y="35.0" width="0.6" height="54.64" fill="#8db6de" opacity="0.46"/><rect x="71.67" y="105.93" width="0.6" height="60.07" fill="#8db6de" opacity="0.46"/><rect x="7.0" y="99.18" width="55.06" height="0.6" fill="#8db6de" opacity="0.46"/><rect x="78.47" y="99.18" width="60.53" height="0.6" fill="#8db6de" opacity="0.46"/><rect x="63.18" y="35.0" width="0.6" height="54.64" fill="#1d4f8c" opacity="0.35"/><rect x="63.18" y="105.93" width="0.6" height="60.07" fill="#1d4f8c" opacity="0.35"/><rect x="7.0" y="90.75" width="55.06" height="0.6" fill="#1d4f8c" opacity="0.35"/><rect x="78.47" y="90.75" width="60.53" height="0.6" fill="#1d4f8c" opacity="0.35"/><rect x="65.68" y="35.0" width="0.9" height="54.64" fill="#8db6de" opacity="0.44"/><rect x="65.68" y="105.93" width="0.9" height="60.07" fill="#8db6de" opacity="0.44"/><rect x="7.0" y="93.23" width="55.06" height="0.9" fill="#8db6de" opacity="0.44"/><rect x="78.47" y="93.23" width="60.53" height="0.9" fill="#8db6de" opacity="0.44"/><rect x="65.31" y="35.0" width="0.9" height="54.64" fill="#8db6de" opacity="0.52"/><rect x="65.31" y="105.93" width="0.9" height="60.07" fill="#8db6de" opacity="0.52"/><rect x="7.0" y="92.86" width="55.06" height="0.9" fill="#8db6de" opacity="0.52"/><rect x="78.47" y="92.86" width="60.53" height="0.9" fill="#8db6de" opacity="0.52"/><rect x="74.98" y="35.0" width="0.6" height="54.64" fill="#8db6de" opacity="0.43"/><rect x="74.98" y="105.93" width="0.6" height="60.07" fill="#8db6de" opacity="0.43"/><rect x="7.0" y="102.47" width="55.06" height="0.6" fill="#8db6de" opacity="0.43"/><rect x="78.47" y="102.47" width="60.53" height="0.6" fill="#8db6de" opacity="0.43"/><rect x="74.73" y="35.0" width="0.6" height="54.64" fill="#8db6de" opacity="0.43"/><rect x="74.73" y="105.93" width="0.6" height="60.07" fill="#8db6de" opacity="0.43"/><rect x="7.0" y="102.21" width="55.06" height="0.6" fill="#8db6de" opacity="0.43"/><rect x="78.47" y="102.21" width="60.53" height="0.6" fill="#8db6de" opacity="0.43"/><rect x="66.04" y="35.0" width="0.6" height="54.64" fill="#8db6de" opacity="0.35"/><rect x="66.04" y="105.93" width="0.6" height="60.07" fill="#8db6de" opacity="0.35"/><rect x="7.0" y="93.59" width="55.06" height="0.6" fill="#8db6de" opacity="0.35"/><rect x="78.47" y="93.59" width="60.53" height="0.6" fill="#8db6de" opacity="0.35"/><rect x="74.95" y="35.0" width="1.2" height="54.64" fill="#8db6de" opacity="0.39"/><rect x="74.95" y="105.93" width="1.2" height="60.07" fill="#8db6de" opacity="0.39"/><rect x="7.0" y="102.43" width="55.06" height="1.2" fill="#8db6de" opacity="0.39"/><rect x="78.47" y="102.43" width="60.53" height="1.2" fill="#8db6de" opacity="0.39"/><rect x="73.76" y="35.0" width="0.6" height="54.64" fill="#8db6de" opacity="0.50"/><rect x="73.76" y="105.93" width="0.6" height="60.07" fill="#8db6de" opacity="0.50"/><rect x="7.0" y="101.25" width="55.06" height="0.6" fill="#8db6de" opacity="0.50"/><rect x="78.47" y="101.25" width="60.53" height="0.6" fill="#8db6de" opacity="0.50"/><rect x="71.01" y="35.0" width="0.9" height="54.64" fill="#8db6de" opacity="0.32"/><rect x="71.01" y="105.93" width="0.9" height="60.07" fill="#8db6de" opacity="0.32"/><rect x="7.0" y="98.52" width="55.06" height="0.9" fill="#8db6de" opacity="0.32"/><rect x="78.47" y="98.52" width="60.53" height="0.9" fill="#8db6de" opacity="0.32"/><rect x="63.34" y="35.0" width="1.2" height="54.64" fill="#1d4f8c" opacity="0.45"/><rect x="63.34" y="105.93" width="1.2" height="60.07" fill="#1d4f8c" opacity="0.45"/><rect x="7.0" y="90.91" width="55.06" height="1.2" fill="#1d4f8c" opacity="0.45"/><rect x="78.47" y="90.91" width="60.53" height="1.2" fill="#1d4f8c" opacity="0.45"/><rect x="72.62" y="35.0" width="0.9" height="54.64" fill="#8db6de" opacity="0.32"/><rect x="72.62" y="105.93" width="0.9" height="60.07" fill="#8db6de" opacity="0.32"/><rect x="7.0" y="100.12" width="55.06" height="0.9" fill="#8db6de" opacity="0.32"/><rect x="78.47" y="100.12" width="60.53" height="0.9" fill="#8db6de" opacity="0.32"/><rect x="65.35" y="35.0" width="1.2" height="54.64" fill="#1d4f8c" opacity="0.32"/><rect x="65.35" y="105.93" width="1.2" height="60.07" fill="#1d4f8c" opacity="0.32"/><rect x="7.0" y="92.90" width="55.06" height="1.2" fill="#1d4f8c" opacity="0.32"/><rect x="78.47" y="92.90" width="60.53" height="1.2" fill="#1d4f8c" opacity="0.32"/><rect x="66.74" y="35.0" width="1.2" height="54.64" fill="#1d4f8c" opacity="0.40"/><rect x="66.74" y="105.93" width="1.2" height="60.07" fill="#1d4f8c" opacity="0.40"/><rect x="7.0" y="94.29" width="55.06" height="1.2" fill="#1d4f8c" opacity="0.40"/><rect x="78.47" y="94.29" width="60.53" height="1.2" fill="#1d4f8c" opacity="0.40"/></g>
<g><rect x="25.59" y="35.00" width="0.8" height="21.71" fill="#d45646" opacity="0.24"/><rect x="7.00" y="53.44" width="21.88" height="0.8" fill="#d45646" opacity="0.33"/><rect x="13.89" y="35.00" width="0.8" height="21.71" fill="#d45646" opacity="0.38"/><rect x="7.00" y="41.84" width="21.88" height="0.8" fill="#d45646" opacity="0.26"/><rect x="16.30" y="35.00" width="0.8" height="21.71" fill="#d45646" opacity="0.32"/><rect x="7.00" y="44.22" width="21.88" height="0.8" fill="#d45646" opacity="0.38"/><rect x="21.48" y="35.00" width="0.8" height="21.71" fill="#d45646" opacity="0.26"/><rect x="7.00" y="49.37" width="21.88" height="0.8" fill="#d45646" opacity="0.31"/><rect x="27.92" y="35.00" width="0.8" height="21.71" fill="#d45646" opacity="0.29"/><rect x="7.00" y="55.76" width="21.88" height="0.8" fill="#d45646" opacity="0.24"/><rect x="27.40" y="35.00" width="0.8" height="21.71" fill="#d45646" opacity="0.35"/><rect x="7.00" y="55.24" width="21.88" height="0.8" fill="#d45646" opacity="0.30"/><rect x="8.78" y="35.00" width="0.8" height="21.71" fill="#d45646" opacity="0.37"/><rect x="7.00" y="36.76" width="21.88" height="0.8" fill="#d45646" opacity="0.20"/><rect x="21.27" y="35.00" width="0.8" height="21.71" fill="#d45646" opacity="0.32"/><rect x="7.00" y="49.16" width="21.88" height="0.8" fill="#d45646" opacity="0.36"/><rect x="22.57" y="35.00" width="0.8" height="21.71" fill="#d45646" opacity="0.27"/><rect x="7.00" y="50.46" width="21.88" height="0.8" fill="#d45646" opacity="0.28"/><rect x="10.26" y="35.00" width="0.8" height="21.71" fill="#d45646" opacity="0.32"/><rect x="7.00" y="38.24" width="21.88" height="0.8" fill="#d45646" opacity="0.24"/><rect x="8.89" y="35.00" width="0.8" height="21.71" fill="#d45646" opacity="0.29"/><rect x="7.00" y="36.88" width="21.88" height="0.8" fill="#d45646" opacity="0.37"/><rect x="24.11" y="35.00" width="0.8" height="21.71" fill="#d45646" opacity="0.24"/><rect x="7.00" y="51.98" width="21.88" height="0.8" fill="#d45646" opacity="0.21"/><rect x="10.34" y="35.00" width="0.8" height="21.71" fill="#d45646" opacity="0.26"/><rect x="7.00" y="38.32" width="21.88" height="0.8" fill="#d45646" opacity="0.20"/><rect x="24.74" y="35.00" width="0.8" height="21.71" fill="#d45646" opacity="0.28"/><rect x="7.00" y="52.61" width="21.88" height="0.8" fill="#d45646" opacity="0.32"/></g>
<g><rect x="51.18" y="74.44" width="0.8" height="15.20" fill="#d45646" opacity="0.31"/><rect x="46.75" y="78.85" width="15.31" height="0.8" fill="#d45646" opacity="0.27"/><rect x="50.72" y="74.44" width="0.8" height="15.20" fill="#d45646" opacity="0.22"/><rect x="46.75" y="78.39" width="15.31" height="0.8" fill="#d45646" opacity="0.26"/><rect x="47.12" y="74.44" width="0.8" height="15.20" fill="#d45646" opacity="0.33"/><rect x="46.75" y="74.82" width="15.31" height="0.8" fill="#d45646" opacity="0.22"/><rect x="58.59" y="74.44" width="0.8" height="15.20" fill="#d45646" opacity="0.28"/><rect x="46.75" y="86.20" width="15.31" height="0.8" fill="#d45646" opacity="0.34"/><rect x="53.84" y="74.44" width="0.8" height="15.20" fill="#d45646" opacity="0.38"/><rect x="46.75" y="81.49" width="15.31" height="0.8" fill="#d45646" opacity="0.27"/><rect x="53.41" y="74.44" width="0.8" height="15.20" fill="#d45646" opacity="0.27"/><rect x="46.75" y="81.06" width="15.31" height="0.8" fill="#d45646" opacity="0.36"/><rect x="51.58" y="74.44" width="0.8" height="15.20" fill="#d45646" opacity="0.23"/><rect x="46.75" y="79.24" width="15.31" height="0.8" fill="#d45646" opacity="0.30"/><rect x="58.43" y="74.44" width="0.8" height="15.20" fill="#d45646" opacity="0.21"/><rect x="46.75" y="86.04" width="15.31" height="0.8" fill="#d45646" opacity="0.32"/><rect x="47.42" y="74.44" width="0.8" height="15.20" fill="#d45646" opacity="0.35"/><rect x="46.75" y="75.11" width="15.31" height="0.8" fill="#d45646" opacity="0.40"/><rect x="51.81" y="74.44" width="0.8" height="15.20" fill="#d45646" opacity="0.20"/><rect x="46.75" y="79.47" width="15.31" height="0.8" fill="#d45646" opacity="0.28"/></g>
<g><rect x="126.97" y="152.97" width="0.8" height="13.03" fill="#d45646" opacity="0.22"/><rect x="125.87" y="154.06" width="13.13" height="0.8" fill="#d45646" opacity="0.23"/><rect x="126.17" y="152.97" width="0.8" height="13.03" fill="#d45646" opacity="0.20"/><rect x="125.87" y="153.27" width="13.13" height="0.8" fill="#d45646" opacity="0.15"/><rect x="127.23" y="152.97" width="0.8" height="13.03" fill="#d45646" opacity="0.29"/><rect x="125.87" y="154.32" width="13.13" height="0.8" fill="#d45646" opacity="0.29"/><rect x="128.90" y="152.97" width="0.8" height="13.03" fill="#d45646" opacity="0.17"/><rect x="125.87" y="155.98" width="13.13" height="0.8" fill="#d45646" opacity="0.25"/><rect x="134.31" y="152.97" width="0.8" height="13.03" fill="#d45646" opacity="0.20"/><rect x="125.87" y="161.34" width="13.13" height="0.8" fill="#d45646" opacity="0.21"/><rect x="132.39" y="152.97" width="0.8" height="13.03" fill="#d45646" opacity="0.19"/><rect x="125.87" y="159.44" width="13.13" height="0.8" fill="#d45646" opacity="0.28"/><rect x="131.68" y="152.97" width="0.8" height="13.03" fill="#d45646" opacity="0.26"/><rect x="125.87" y="158.74" width="13.13" height="0.8" fill="#d45646" opacity="0.20"/><rect x="127.79" y="152.97" width="0.8" height="13.03" fill="#d45646" opacity="0.29"/><rect x="125.87" y="154.87" width="13.13" height="0.8" fill="#d45646" opacity="0.29"/></g>
<g><rect x="92.97" y="105.93" width="0.8" height="19.90" fill="#d45646" opacity="0.07"/><rect x="78.47" y="120.32" width="20.06" height="0.8" fill="#d45646" opacity="0.10"/><rect x="93.88" y="105.93" width="0.8" height="19.90" fill="#d45646" opacity="0.09"/><rect x="78.47" y="121.22" width="20.06" height="0.8" fill="#d45646" opacity="0.08"/><rect x="85.39" y="105.93" width="0.8" height="19.90" fill="#d45646" opacity="0.11"/><rect x="78.47" y="112.79" width="20.06" height="0.8" fill="#d45646" opacity="0.11"/><rect x="87.56" y="105.93" width="0.8" height="19.90" fill="#d45646" opacity="0.11"/><rect x="78.47" y="114.95" width="20.06" height="0.8" fill="#d45646" opacity="0.10"/><rect x="95.69" y="105.93" width="0.8" height="19.90" fill="#d45646" opacity="0.10"/><rect x="78.47" y="123.02" width="20.06" height="0.8" fill="#d45646" opacity="0.13"/><rect x="96.52" y="105.93" width="0.8" height="19.90" fill="#d45646" opacity="0.11"/><rect x="78.47" y="123.84" width="20.06" height="0.8" fill="#d45646" opacity="0.14"/><rect x="89.07" y="105.93" width="0.8" height="19.90" fill="#d45646" opacity="0.13"/><rect x="78.47" y="116.45" width="20.06" height="0.8" fill="#d45646" opacity="0.10"/><rect x="86.22" y="105.93" width="0.8" height="19.90" fill="#d45646" opacity="0.14"/><rect x="78.47" y="113.62" width="20.06" height="0.8" fill="#d45646" opacity="0.12"/><rect x="93.33" y="105.93" width="0.8" height="19.90" fill="#d45646" opacity="0.08"/><rect x="78.47" y="120.67" width="20.06" height="0.8" fill="#d45646" opacity="0.13"/><rect x="86.16" y="105.93" width="0.8" height="19.90" fill="#d45646" opacity="0.09"/><rect x="78.47" y="113.56" width="20.06" height="0.8" fill="#d45646" opacity="0.08"/><rect x="93.84" y="105.93" width="0.8" height="19.90" fill="#d45646" opacity="0.14"/><rect x="78.47" y="121.18" width="20.06" height="0.8" fill="#d45646" opacity="0.13"/><rect x="93.38" y="105.93" width="0.8" height="19.90" fill="#d45646" opacity="0.13"/><rect x="78.47" y="120.72" width="20.06" height="0.8" fill="#d45646" opacity="0.07"/><rect x="96.27" y="105.93" width="0.8" height="19.90" fill="#d45646" opacity="0.13"/><rect x="78.47" y="123.59" width="20.06" height="0.8" fill="#d45646" opacity="0.13"/></g>
<g><rect x="123.90" y="139.94" width="0.8" height="13.03" fill="#d45646" opacity="0.09"/><rect x="112.75" y="151.02" width="13.13" height="0.8" fill="#d45646" opacity="0.07"/><rect x="117.94" y="139.94" width="0.8" height="13.03" fill="#d45646" opacity="0.11"/><rect x="112.75" y="145.10" width="13.13" height="0.8" fill="#d45646" opacity="0.08"/><rect x="122.26" y="139.94" width="0.8" height="13.03" fill="#d45646" opacity="0.07"/><rect x="112.75" y="149.39" width="13.13" height="0.8" fill="#d45646" opacity="0.11"/><rect x="122.73" y="139.94" width="0.8" height="13.03" fill="#d45646" opacity="0.07"/><rect x="112.75" y="149.85" width="13.13" height="0.8" fill="#d45646" opacity="0.10"/><rect x="120.38" y="139.94" width="0.8" height="13.03" fill="#d45646" opacity="0.09"/><rect x="112.75" y="147.52" width="13.13" height="0.8" fill="#d45646" opacity="0.06"/><rect x="119.80" y="139.94" width="0.8" height="13.03" fill="#d45646" opacity="0.07"/><rect x="112.75" y="146.94" width="13.13" height="0.8" fill="#d45646" opacity="0.07"/><rect x="124.04" y="139.94" width="0.8" height="13.03" fill="#d45646" opacity="0.07"/><rect x="112.75" y="151.15" width="13.13" height="0.8" fill="#d45646" opacity="0.07"/><rect x="117.08" y="139.94" width="0.8" height="13.03" fill="#d45646" opacity="0.10"/><rect x="112.75" y="144.25" width="13.13" height="0.8" fill="#d45646" opacity="0.09"/></g>
<g><rect x="44.06" y="56.71" width="0.8" height="17.73" fill="#d45646" opacity="0.08"/><rect x="28.88" y="71.78" width="17.87" height="0.8" fill="#d45646" opacity="0.05"/><rect x="41.66" y="56.71" width="0.8" height="17.73" fill="#d45646" opacity="0.08"/><rect x="28.88" y="69.39" width="17.87" height="0.8" fill="#d45646" opacity="0.08"/><rect x="29.20" y="56.71" width="0.8" height="17.73" fill="#d45646" opacity="0.06"/><rect x="28.88" y="57.04" width="17.87" height="0.8" fill="#d45646" opacity="0.06"/><rect x="40.52" y="56.71" width="0.8" height="17.73" fill="#d45646" opacity="0.09"/><rect x="28.88" y="68.27" width="17.87" height="0.8" fill="#d45646" opacity="0.07"/><rect x="29.51" y="56.71" width="0.8" height="17.73" fill="#d45646" opacity="0.07"/><rect x="28.88" y="57.34" width="17.87" height="0.8" fill="#d45646" opacity="0.07"/><rect x="45.03" y="56.71" width="0.8" height="17.73" fill="#d45646" opacity="0.10"/><rect x="28.88" y="72.75" width="17.87" height="0.8" fill="#d45646" opacity="0.07"/><rect x="35.80" y="56.71" width="0.8" height="17.73" fill="#d45646" opacity="0.08"/><rect x="28.88" y="63.58" width="17.87" height="0.8" fill="#d45646" opacity="0.10"/><rect x="40.26" y="56.71" width="0.8" height="17.73" fill="#d45646" opacity="0.05"/><rect x="28.88" y="68.01" width="17.87" height="0.8" fill="#d45646" opacity="0.05"/><rect x="31.28" y="56.71" width="0.8" height="17.73" fill="#d45646" opacity="0.08"/><rect x="28.88" y="59.09" width="17.87" height="0.8" fill="#d45646" opacity="0.08"/><rect x="41.62" y="56.71" width="0.8" height="17.73" fill="#d45646" opacity="0.09"/><rect x="28.88" y="69.36" width="17.87" height="0.8" fill="#d45646" opacity="0.06"/><rect x="36.48" y="56.71" width="0.8" height="17.73" fill="#d45646" opacity="0.09"/><rect x="28.88" y="64.26" width="17.87" height="0.8" fill="#d45646" opacity="0.09"/></g>
<g><rect x="69.48" y="89.64" width="0.8" height="16.28" fill="#d45646" opacity="0.05"/><rect x="62.06" y="97.01" width="16.41" height="0.8" fill="#d45646" opacity="0.04"/><rect x="74.11" y="89.64" width="0.8" height="16.28" fill="#d45646" opacity="0.07"/><rect x="62.06" y="101.60" width="16.41" height="0.8" fill="#d45646" opacity="0.07"/><rect x="73.29" y="89.64" width="0.8" height="16.28" fill="#d45646" opacity="0.08"/><rect x="62.06" y="100.78" width="16.41" height="0.8" fill="#d45646" opacity="0.05"/><rect x="71.86" y="89.64" width="0.8" height="16.28" fill="#d45646" opacity="0.08"/><rect x="62.06" y="99.37" width="16.41" height="0.8" fill="#d45646" opacity="0.07"/><rect x="76.95" y="89.64" width="0.8" height="16.28" fill="#d45646" opacity="0.07"/><rect x="62.06" y="104.42" width="16.41" height="0.8" fill="#d45646" opacity="0.06"/><rect x="63.42" y="89.64" width="0.8" height="16.28" fill="#d45646" opacity="0.05"/><rect x="62.06" y="90.99" width="16.41" height="0.8" fill="#d45646" opacity="0.06"/><rect x="63.77" y="89.64" width="0.8" height="16.28" fill="#d45646" opacity="0.05"/><rect x="62.06" y="91.34" width="16.41" height="0.8" fill="#d45646" opacity="0.05"/><rect x="69.39" y="89.64" width="0.8" height="16.28" fill="#d45646" opacity="0.07"/><rect x="62.06" y="96.92" width="16.41" height="0.8" fill="#d45646" opacity="0.06"/><rect x="68.03" y="89.64" width="0.8" height="16.28" fill="#d45646" opacity="0.04"/><rect x="62.06" y="95.57" width="16.41" height="0.8" fill="#d45646" opacity="0.06"/><rect x="64.11" y="89.64" width="0.8" height="16.28" fill="#d45646" opacity="0.07"/><rect x="62.06" y="91.68" width="16.41" height="0.8" fill="#d45646" opacity="0.05"/></g>
<text x="153.80" y="15.90" font-size="10.8" fill="#111" font-weight="bold">B</text>
<text x="190.00" y="25.60" font-size="6.2" fill="#333" stroke="#333" stroke-width="0.16" text-anchor="middle" textLength="15.4" lengthAdjust="spacingAndGlyphs">WHO</text>
<text x="257.60" y="25.60" font-size="6.2" fill="#333" stroke="#333" stroke-width="0.16" text-anchor="middle" textLength="13" lengthAdjust="spacingAndGlyphs">SNF</text>
<text x="328.70" y="25.60" font-size="6.2" fill="#333" stroke="#333" stroke-width="0.16" text-anchor="middle" textLength="13" lengthAdjust="spacingAndGlyphs">FAB</text>
<g><path d="M192.00 28.30C222.25 28.30 222.25 29.00 252.50 29.00L252.50 50.90C222.25 50.90 222.25 50.00 192.00 50.00Z" fill="#6d9ecd" opacity="0.5"/><path d="M192.00 123.80C222.25 123.80 222.25 84.30 252.50 84.30L252.50 103.80C222.25 103.80 222.25 144.00 192.00 144.00Z" fill="#9a9aa2" opacity="0.5"/><path d="M192.00 155.30C222.25 155.30 222.25 155.20 252.50 155.20L252.50 166.20C222.25 166.20 222.25 166.00 192.00 166.00Z" fill="#8cc27c" opacity="0.5"/><path d="M192.00 95.68C222.25 95.68 222.25 110.95 252.50 110.95L252.50 120.14C222.25 120.14 222.25 104.27 192.00 104.27Z" fill="#f6a86e" opacity="0.5"/><path d="M192.00 64.50C222.25 64.50 222.25 54.97 252.50 54.97L252.50 62.08C222.25 62.08 222.25 71.36 192.00 71.36Z" fill="#aaa6d6" opacity="0.5"/><path d="M192.00 71.36C222.25 71.36 222.25 72.75 252.50 72.75L252.50 78.08C222.25 78.08 222.25 77.24 192.00 77.24Z" fill="#aaa6d6" opacity="0.5"/><path d="M192.00 114.95C222.25 114.95 222.25 133.58 252.50 133.58L252.50 138.30C222.25 138.30 222.25 119.87 192.00 119.87Z" fill="#e6dccd" opacity="0.5"/><path d="M192.00 84.10C222.25 84.10 222.25 140.28 252.50 140.28L252.50 145.25C222.25 145.25 222.25 89.00 192.00 89.00Z" fill="#aaa6d6" opacity="0.5"/><path d="M192.00 77.24C222.25 77.24 222.25 106.86 252.50 106.86L252.50 110.95C222.25 110.95 222.25 81.16 192.00 81.16Z" fill="#aaa6d6" opacity="0.5"/><path d="M192.00 50.00C222.25 50.00 222.25 50.90 252.50 50.90L252.50 54.97C222.25 54.97 222.25 53.87 192.00 53.87Z" fill="#de7b97" opacity="0.5"/><path d="M192.00 53.87C222.25 53.87 222.25 69.20 252.50 69.20L252.50 72.75C222.25 72.75 222.25 57.73 192.00 57.73Z" fill="#de7b97" opacity="0.5"/><path d="M192.00 89.00C222.25 89.00 222.25 62.08 252.50 62.08L252.50 66.15C222.25 66.15 222.25 92.82 192.00 92.82Z" fill="#f6a86e" opacity="0.5"/><path d="M192.00 104.27C222.25 104.27 222.25 127.92 252.50 127.92L252.50 131.69C222.25 131.69 222.25 108.09 192.00 108.09Z" fill="#f6a86e" opacity="0.5"/><path d="M192.00 112.00C222.25 112.00 222.25 120.14 252.50 120.14L252.50 123.20C222.25 123.20 222.25 114.95 192.00 114.95Z" fill="#e6dccd" opacity="0.5"/><path d="M192.00 120.85C222.25 120.85 222.25 152.20 252.50 152.20L252.50 155.20C222.25 155.20 222.25 123.80 192.00 123.80Z" fill="#e6dccd" opacity="0.5"/><path d="M192.00 81.16C222.25 81.16 222.25 125.09 252.50 125.09L252.50 127.92C222.25 127.92 222.25 84.10 192.00 84.10Z" fill="#aaa6d6" opacity="0.5"/><path d="M192.00 57.73C222.25 57.73 222.25 103.80 252.50 103.80L252.50 106.86C222.25 106.86 222.25 60.63 192.00 60.63Z" fill="#de7b97" opacity="0.5"/><path d="M192.00 92.82C222.25 92.82 222.25 78.08 252.50 78.08L252.50 80.75C222.25 80.75 222.25 95.68 192.00 95.68Z" fill="#f6a86e" opacity="0.5"/><path d="M192.00 151.06C222.25 151.06 222.25 82.52 252.50 82.52L252.50 84.30C222.25 84.30 222.25 153.18 192.00 153.18Z" fill="#78c6cc" opacity="0.5"/><path d="M192.00 153.18C222.25 153.18 222.25 149.22 252.50 149.22L252.50 151.20C222.25 151.20 222.25 155.30 192.00 155.30Z" fill="#78c6cc" opacity="0.5"/><path d="M192.00 110.00C222.25 110.00 222.25 131.69 252.50 131.69L252.50 133.58C222.25 133.58 222.25 112.00 192.00 112.00Z" fill="#e0702a" opacity="0.5"/><path d="M192.00 144.00C222.25 144.00 222.25 66.15 252.50 66.15L252.50 68.18C222.25 68.18 222.25 146.00 192.00 146.00Z" fill="#6cc2c8" opacity="0.5"/><path d="M192.00 146.00C222.25 146.00 222.25 80.75 252.50 80.75L252.50 82.52C222.25 82.52 222.25 148.00 192.00 148.00Z" fill="#6cc2c8" opacity="0.5"/><path d="M192.00 148.00C222.25 148.00 222.25 147.23 252.50 147.23L252.50 149.22C222.25 149.22 222.25 150.00 192.00 150.00Z" fill="#6cc2c8" opacity="0.5"/><path d="M192.00 62.57C222.25 62.57 222.25 138.30 252.50 138.30L252.50 140.28C222.25 140.28 222.25 64.50 192.00 64.50Z" fill="#de7b97" opacity="0.5"/><path d="M192.00 60.63C222.25 60.63 222.25 123.20 252.50 123.20L252.50 125.09C222.25 125.09 222.25 62.57 192.00 62.57Z" fill="#de7b97" opacity="0.5"/><path d="M192.00 150.00C222.25 150.00 222.25 68.18 252.50 68.18L252.50 69.20C222.25 69.20 222.25 151.06 192.00 151.06Z" fill="#78c6cc" opacity="0.5"/><path d="M192.00 119.87C222.25 119.87 222.25 146.24 252.50 146.24L252.50 147.23C222.25 147.23 222.25 120.85 192.00 120.85Z" fill="#e6dccd" opacity="0.5"/><path d="M192.00 108.09C222.25 108.09 222.25 145.25 252.50 145.25L252.50 146.24C222.25 146.24 222.25 109.05 192.00 109.05Z" fill="#f6a86e" opacity="0.5"/><path d="M192.00 109.05C222.25 109.05 222.25 151.20 252.50 151.20L252.50 152.20C222.25 152.20 222.25 110.00 192.00 110.00Z" fill="#f6a86e" opacity="0.5"/><path d="M262.80 84.30C293.00 84.30 293.00 64.60 323.20 64.60L323.20 86.31C293.00 86.31 293.00 103.80 262.80 103.80Z" fill="#b2df8a" opacity="0.42"/><path d="M262.80 106.86C293.00 106.86 293.00 106.09 323.20 106.09L323.20 117.89C293.00 117.89 293.00 119.12 262.80 119.12Z" fill="#fb9a99" opacity="0.5"/><path d="M262.80 152.20C293.00 152.20 293.00 129.70 323.20 129.70L323.20 141.50C293.00 141.50 293.00 164.20 262.80 164.20Z" fill="#ff8a20" opacity="0.45"/><path d="M262.80 128.23C293.00 128.23 293.00 117.89 323.20 117.89L323.20 125.76C293.00 125.76 293.00 136.29 262.80 136.29Z" fill="#fdbf6f" opacity="0.5"/><path d="M262.80 41.94C293.00 41.94 293.00 87.40 323.20 87.40L323.20 94.29C293.00 94.29 293.00 48.91 262.80 48.91Z" fill="#a6cee3" opacity="0.5"/><path d="M262.80 59.03C293.00 59.03 293.00 94.29 323.20 94.29L323.20 100.19C293.00 100.19 293.00 65.13 262.80 65.13Z" fill="#5470bc" opacity="0.5"/><path d="M262.80 74.23C293.00 74.23 293.00 100.19 323.20 100.19L323.20 106.09C293.00 106.09 293.00 80.27 262.80 80.27Z" fill="#3a9a3a" opacity="0.5"/><path d="M262.80 35.97C293.00 35.97 293.00 53.40 323.20 53.40L323.20 59.51C293.00 59.51 293.00 41.94 262.80 41.94Z" fill="#a6cee3" opacity="0.5"/><path d="M262.80 145.25C293.00 145.25 293.00 157.97 323.20 157.97L323.20 164.14C293.00 164.14 293.00 151.20 262.80 151.20Z" fill="#e0403a" opacity="0.4"/><path d="M262.80 50.90C293.00 50.90 293.00 30.29 323.20 30.29L323.20 35.03C293.00 35.03 293.00 55.98 262.80 55.98Z" fill="#5470bc" opacity="0.5"/><path d="M262.80 30.99C293.00 30.99 293.00 44.50 323.20 44.50L323.20 49.44C293.00 49.44 293.00 35.97 262.80 35.97Z" fill="#a6cee3" opacity="0.5"/><path d="M262.80 119.12C293.00 119.12 293.00 151.79 323.20 151.79L323.20 155.91C293.00 155.91 293.00 123.20 262.80 123.20Z" fill="#fb9a99" opacity="0.5"/><path d="M262.80 65.13C293.00 65.13 293.00 143.56 323.20 143.56L323.20 147.68C293.00 147.68 293.00 69.20 262.80 69.20Z" fill="#5470bc" opacity="0.5"/><path d="M262.80 80.27C293.00 80.27 293.00 147.68 323.20 147.68L323.20 151.79C293.00 151.79 293.00 84.30 262.80 84.30Z" fill="#3a9a3a" opacity="0.5"/><path d="M262.80 141.28C293.00 141.28 293.00 125.76 323.20 125.76L323.20 129.70C293.00 129.70 293.00 145.25 262.80 145.25Z" fill="#e0403a" opacity="0.4"/><path d="M262.80 71.21C293.00 71.21 293.00 61.55 323.20 61.55L323.20 64.60C293.00 64.60 293.00 74.23 262.80 74.23Z" fill="#3a9a3a" opacity="0.5"/><path d="M262.80 138.30C293.00 138.30 293.00 40.71 323.20 40.71L323.20 43.55C293.00 43.55 293.00 141.28 262.80 141.28Z" fill="#e0403a" opacity="0.4"/><path d="M262.80 103.80C293.00 103.80 293.00 36.92 323.20 36.92L323.20 38.82C293.00 38.82 293.00 105.84 262.80 105.84Z" fill="#fb9a99" opacity="0.5"/><path d="M262.80 57.00C293.00 57.00 293.00 59.51 323.20 59.51L323.20 61.55C293.00 61.55 293.00 59.03 262.80 59.03Z" fill="#5470bc" opacity="0.5"/><path d="M262.80 69.20C293.00 69.20 293.00 35.03 323.20 35.03L323.20 36.92C293.00 36.92 293.00 71.21 262.80 71.21Z" fill="#3a9a3a" opacity="0.5"/><path d="M262.80 123.20C293.00 123.20 293.00 38.82 323.20 38.82L323.20 40.71C293.00 40.71 293.00 125.21 262.80 125.21Z" fill="#fdbf6f" opacity="0.5"/><path d="M262.80 125.21C293.00 125.21 293.00 51.42 323.20 51.42L323.20 53.40C293.00 53.40 293.00 127.23 262.80 127.23Z" fill="#fdbf6f" opacity="0.5"/><path d="M262.80 136.29C293.00 136.29 293.00 155.91 323.20 155.91L323.20 157.97C293.00 157.97 293.00 138.30 262.80 138.30Z" fill="#fdbf6f" opacity="0.5"/><path d="M262.80 164.20C293.00 164.20 293.00 164.14 323.20 164.14L323.20 166.20C293.00 166.20 293.00 166.20 262.80 166.20Z" fill="#ff8a20" opacity="0.45"/><path d="M262.80 29.00C293.00 29.00 293.00 28.40 323.20 28.40L323.20 30.29C293.00 30.29 293.00 30.99 262.80 30.99Z" fill="#a6cee3" opacity="0.5"/><path d="M262.80 48.91C293.00 48.91 293.00 141.50 323.20 141.50L323.20 143.56C293.00 143.56 293.00 50.90 262.80 50.90Z" fill="#a6cee3" opacity="0.5"/><path d="M262.80 105.84C293.00 105.84 293.00 50.43 323.20 50.43L323.20 51.42C293.00 51.42 293.00 106.86 262.80 106.86Z" fill="#fb9a99" opacity="0.5"/><path d="M262.80 55.98C293.00 55.98 293.00 49.44 323.20 49.44L323.20 50.43C293.00 50.43 293.00 57.00 262.80 57.00Z" fill="#5470bc" opacity="0.5"/><path d="M262.80 127.23C293.00 127.23 293.00 86.31 323.20 86.31L323.20 87.40C293.00 87.40 293.00 128.23 262.80 128.23Z" fill="#fdbf6f" opacity="0.5"/><path d="M262.80 151.20C293.00 151.20 293.00 43.55 323.20 43.55L323.20 44.50C293.00 44.50 293.00 152.20 262.80 152.20Z" fill="#ff8a20" opacity="0.45"/></g>
<rect x="182.0" y="28.3" width="10.0" height="21.70" fill="#6d9ecd"/>
<rect x="182.0" y="50.0" width="10.0" height="14.50" fill="#de7b97"/>
<rect x="182.0" y="64.5" width="10.0" height="24.50" fill="#aaa6d6"/>
<rect x="182.0" y="89.0" width="10.0" height="21.00" fill="#f6a86e"/>
<rect x="182.0" y="110.0" width="10.0" height="2.00" fill="#e0702a"/>
<rect x="182.0" y="112.0" width="10.0" height="11.80" fill="#e6dccd"/>
<rect x="182.0" y="123.8" width="10.0" height="20.20" fill="#9a9aa2"/>
<rect x="182.0" y="144.0" width="10.0" height="6.00" fill="#6cc2c8"/>
<rect x="182.0" y="150.0" width="10.0" height="5.30" fill="#78c6cc"/>
<rect x="182.0" y="155.3" width="10.0" height="10.70" fill="#8cc27c"/>
<rect x="252.5" y="29.0" width="10.30" height="21.90" fill="#a6cee3"/>
<rect x="252.5" y="50.9" width="10.30" height="18.30" fill="#1f78b4"/>
<rect x="252.5" y="69.2" width="10.30" height="15.10" fill="#33a02c"/>
<rect x="252.5" y="84.3" width="10.30" height="19.50" fill="#b2df8a"/>
<rect x="252.5" y="103.8" width="10.30" height="19.40" fill="#fb9a99"/>
<rect x="252.5" y="123.2" width="10.30" height="15.10" fill="#fdbf6f"/>
<rect x="252.5" y="138.3" width="10.30" height="12.90" fill="#e31a1c"/>
<rect x="252.5" y="151.2" width="10.30" height="15.00" fill="#ff7f00"/>
<rect x="323.2" y="28.4" width="11.00" height="16.10" fill="#e08a9a"/>
<rect x="323.2" y="44.5" width="11.00" height="8.90" fill="#d3ddd0"/>
<rect x="323.2" y="53.4" width="11.00" height="11.20" fill="#c6e2bc"/>
<rect x="323.2" y="64.6" width="11.00" height="22.80" fill="#80c8c0"/>
<rect x="323.2" y="87.4" width="11.00" height="54.10" fill="#8b92d0"/>
<rect x="323.2" y="141.5" width="11.00" height="24.70" fill="#efc3e2"/>
<text x="190.00" y="41.90" font-size="6.4" fill="#333" stroke="#333" stroke-width="0.16" text-anchor="middle" textLength="20" lengthAdjust="spacingAndGlyphs">CEBPA</text>
<text x="190.00" y="61.30" font-size="6.4" fill="#333" stroke="#333" stroke-width="0.16" text-anchor="middle" textLength="72.5" lengthAdjust="spacingAndGlyphs">Defined by differentiation</text>
<text x="190.00" y="79.30" font-size="6.4" fill="#333" stroke="#333" stroke-width="0.16" text-anchor="middle" textLength="65.4" lengthAdjust="spacingAndGlyphs">Myelodysplasia-related</text>
<text x="190.00" y="101.50" font-size="6.4" fill="#333" stroke="#333" stroke-width="0.16" text-anchor="middle" font-style="italic" textLength="16.3" lengthAdjust="spacingAndGlyphs">NPM1</text>
<text x="190.00" y="114.20" font-size="6.4" fill="#333" stroke="#333" stroke-width="0.16" text-anchor="middle" textLength="63" lengthAdjust="spacingAndGlyphs">NUP98 rearrangement</text>
<text x="190.00" y="121.60" font-size="6.4" fill="#333" stroke="#333" stroke-width="0.16" text-anchor="middle" font-style="italic" textLength="50.8" lengthAdjust="spacingAndGlyphs">RUNX1::RUNX1T1</text>
<text x="190.00" y="138.00" font-size="6.4" fill="#333" stroke="#333" stroke-width="0.16" text-anchor="middle" textLength="32.8" lengthAdjust="spacingAndGlyphs">PML::RARA</text>
<text x="190.00" y="148.50" font-size="6.4" fill="#333" stroke="#333" stroke-width="0.16" text-anchor="middle" textLength="64.6" lengthAdjust="spacingAndGlyphs">KMT2A rearrangement</text>
<text x="190.00" y="155.80" font-size="6.4" fill="#333" stroke="#333" stroke-width="0.16" text-anchor="middle" font-style="italic" textLength="38.9" lengthAdjust="spacingAndGlyphs">DEK::NUP214</text>
<text x="190.00" y="161.90" font-size="6.4" fill="#333" stroke="#333" stroke-width="0.16" text-anchor="middle" font-style="italic" textLength="39.7" lengthAdjust="spacingAndGlyphs">CBFB::MYH11</text>
<text x="257.65" y="42.50" font-size="6.8" fill="#1a4a78" stroke="#1a4a78" stroke-width="0.16" text-anchor="middle">S1</text>
<text x="257.65" y="62.40" font-size="6.8" fill="#bcd8f0" stroke="#bcd8f0" stroke-width="0.16" text-anchor="middle">S2</text>
<text x="257.65" y="79.40" font-size="6.8" fill="#0d3d0a" stroke="#0d3d0a" stroke-width="0.16" text-anchor="middle">S3</text>
<text x="257.65" y="96.90" font-size="6.8" fill="#2a5018" stroke="#2a5018" stroke-width="0.16" text-anchor="middle">S4</text>
<text x="257.65" y="115.90" font-size="6.8" fill="#9a2a38" stroke="#9a2a38" stroke-width="0.16" text-anchor="middle">S5</text>
<text x="257.65" y="134.20" font-size="6.8" fill="#7a4a12" stroke="#7a4a12" stroke-width="0.16" text-anchor="middle">S6</text>
<text x="257.65" y="148.20" font-size="6.8" fill="#6a0808" stroke="#6a0808" stroke-width="0.16" text-anchor="middle">S7</text>
<text x="257.65" y="161.20" font-size="6.8" fill="#6b3000" stroke="#6b3000" stroke-width="0.16" text-anchor="middle">S8</text>
<text x="328.70" y="40.10" font-size="6.5" fill="#333" stroke="#333" stroke-width="0.16" text-anchor="middle">NOS</text>
<text x="328.70" y="50.70" font-size="6.5" fill="#333" stroke="#333" stroke-width="0.16" text-anchor="middle">M1</text>
<text x="328.70" y="60.20" font-size="6.5" fill="#333" stroke="#333" stroke-width="0.16" text-anchor="middle">M2</text>
<text x="328.70" y="79.20" font-size="6.5" fill="#333" stroke="#333" stroke-width="0.16" text-anchor="middle">M3</text>
<text x="328.70" y="117.90" font-size="6.5" fill="#333" stroke="#333" stroke-width="0.16" text-anchor="middle">M4</text>
<text x="328.70" y="156.30" font-size="6.5" fill="#333" stroke="#333" stroke-width="0.16" text-anchor="middle">M5</text>
<text x="351.30" y="15.90" font-size="10.8" fill="#111" font-weight="bold">D</text>
<rect x="387.30" y="125.76" width="13.6" height="24.54" fill="#f58c68"/>
<rect x="387.30" y="86.86" width="13.6" height="38.90" fill="#8e9dcc"/>
<rect x="387.30" y="27.60" width="13.6" height="59.26" fill="#62c0a0"/>
<text x="394.10" y="139.33" font-size="3.6" fill="#8a3a20" stroke="#8a3a20" stroke-width="0.16" text-anchor="middle">20.0%</text>
<text x="394.10" y="107.61" font-size="3.6" fill="#3a3f70" stroke="#3a3f70" stroke-width="0.16" text-anchor="middle">31.7%</text>
<text x="394.10" y="58.53" font-size="3.6" fill="#1f5a45" stroke="#1f5a45" stroke-width="0.16" text-anchor="middle">48.3%</text>
<rect x="402.96" y="118.40" width="13.6" height="31.90" fill="#f58c68"/>
<rect x="402.96" y="70.18" width="13.6" height="48.22" fill="#8e9dcc"/>
<rect x="402.96" y="27.60" width="13.6" height="42.58" fill="#62c0a0"/>
<text x="409.76" y="135.65" font-size="3.6" fill="#8a3a20" stroke="#8a3a20" stroke-width="0.16" text-anchor="middle">26.0%</text>
<text x="409.76" y="95.59" font-size="3.6" fill="#3a3f70" stroke="#3a3f70" stroke-width="0.16" text-anchor="middle">39.3%</text>
<text x="409.76" y="50.19" font-size="3.6" fill="#1f5a45" stroke="#1f5a45" stroke-width="0.16" text-anchor="middle">34.7%</text>
<rect x="418.62" y="83.06" width="13.6" height="67.24" fill="#f58c68"/>
<rect x="418.62" y="53.86" width="13.6" height="29.20" fill="#8e9dcc"/>
<rect x="418.62" y="27.60" width="13.6" height="26.26" fill="#62c0a0"/>
<text x="425.42" y="117.98" font-size="3.6" fill="#8a3a20" stroke="#8a3a20" stroke-width="0.16" text-anchor="middle">54.8%</text>
<text x="425.42" y="69.76" font-size="3.6" fill="#3a3f70" stroke="#3a3f70" stroke-width="0.16" text-anchor="middle">23.8%</text>
<text x="425.42" y="42.03" font-size="3.6" fill="#1f5a45" stroke="#1f5a45" stroke-width="0.16" text-anchor="middle">21.4%</text>
<rect x="434.28" y="128.46" width="13.6" height="21.84" fill="#f58c68"/>
<rect x="434.28" y="93.00" width="13.6" height="35.46" fill="#8e9dcc"/>
<rect x="434.28" y="27.60" width="13.6" height="65.40" fill="#62c0a0"/>
<text x="441.08" y="140.68" font-size="3.6" fill="#8a3a20" stroke="#8a3a20" stroke-width="0.16" text-anchor="middle">17.8%</text>
<text x="441.08" y="112.03" font-size="3.6" fill="#3a3f70" stroke="#3a3f70" stroke-width="0.16" text-anchor="middle">28.9%</text>
<text x="441.08" y="61.60" font-size="3.6" fill="#1f5a45" stroke="#1f5a45" stroke-width="0.16" text-anchor="middle">53.3%</text>
<rect x="449.94" y="119.01" width="13.6" height="31.29" fill="#f58c68"/>
<rect x="449.94" y="76.68" width="13.6" height="42.33" fill="#8e9dcc"/>
<rect x="449.94" y="27.60" width="13.6" height="49.08" fill="#62c0a0"/>
<text x="456.74" y="135.96" font-size="3.6" fill="#8a3a20" stroke="#8a3a20" stroke-width="0.16" text-anchor="middle">25.5%</text>
<text x="456.74" y="99.15" font-size="3.6" fill="#3a3f70" stroke="#3a3f70" stroke-width="0.16" text-anchor="middle">34.5%</text>
<text x="456.74" y="53.44" font-size="3.6" fill="#1f5a45" stroke="#1f5a45" stroke-width="0.16" text-anchor="middle">40.0%</text>
<rect x="465.60" y="134.59" width="13.6" height="15.71" fill="#f58c68"/>
<rect x="465.60" y="96.80" width="13.6" height="37.79" fill="#8e9dcc"/>
<rect x="465.60" y="27.60" width="13.6" height="69.20" fill="#62c0a0"/>
<text x="472.40" y="143.75" font-size="3.6" fill="#8a3a20" stroke="#8a3a20" stroke-width="0.16" text-anchor="middle">12.8%</text>
<text x="472.40" y="117.00" font-size="3.6" fill="#3a3f70" stroke="#3a3f70" stroke-width="0.16" text-anchor="middle">30.8%</text>
<text x="472.40" y="63.50" font-size="3.6" fill="#1f5a45" stroke="#1f5a45" stroke-width="0.16" text-anchor="middle">56.4%</text>
<rect x="481.26" y="102.57" width="13.6" height="47.73" fill="#f58c68"/>
<rect x="481.26" y="51.40" width="13.6" height="51.17" fill="#8e9dcc"/>
<rect x="481.26" y="27.60" width="13.6" height="23.80" fill="#62c0a0"/>
<text x="488.06" y="127.73" font-size="3.6" fill="#8a3a20" stroke="#8a3a20" stroke-width="0.16" text-anchor="middle">38.9%</text>
<text x="488.06" y="78.29" font-size="3.6" fill="#3a3f70" stroke="#3a3f70" stroke-width="0.16" text-anchor="middle">41.7%</text>
<text x="488.06" y="40.80" font-size="3.6" fill="#1f5a45" stroke="#1f5a45" stroke-width="0.16" text-anchor="middle">19.4%</text>
<rect x="496.92" y="133.24" width="13.6" height="17.06" fill="#f58c68"/>
<rect x="496.92" y="85.51" width="13.6" height="47.73" fill="#8e9dcc"/>
<rect x="496.92" y="27.60" width="13.6" height="57.91" fill="#62c0a0"/>
<text x="503.72" y="143.07" font-size="3.6" fill="#8a3a20" stroke="#8a3a20" stroke-width="0.16" text-anchor="middle">13.9%</text>
<text x="503.72" y="110.68" font-size="3.6" fill="#3a3f70" stroke="#3a3f70" stroke-width="0.16" text-anchor="middle">38.9%</text>
<text x="503.72" y="57.86" font-size="3.6" fill="#1f5a45" stroke="#1f5a45" stroke-width="0.16" text-anchor="middle">47.2%</text>
<path d="M385.0 20.8V156.2H511.0" fill="none" stroke="#2a2a2a" stroke-width="1.1"/>
<path d="M381.8 150.30H385.0" stroke="#333" stroke-width="0.8"/>
<text x="379.00" y="152.50" font-size="6.0" fill="#333" stroke="#333" stroke-width="0.16" text-anchor="end">0%</text>
<path d="M381.8 119.62H385.0" stroke="#333" stroke-width="0.8"/>
<text x="379.00" y="121.83" font-size="6.0" fill="#333" stroke="#333" stroke-width="0.16" text-anchor="end">25%</text>
<path d="M381.8 88.95H385.0" stroke="#333" stroke-width="0.8"/>
<text x="379.00" y="91.15" font-size="6.0" fill="#333" stroke="#333" stroke-width="0.16" text-anchor="end">50%</text>
<path d="M381.8 58.28H385.0" stroke="#333" stroke-width="0.8"/>
<text x="379.00" y="60.48" font-size="6.0" fill="#333" stroke="#333" stroke-width="0.16" text-anchor="end">75%</text>
<path d="M381.8 27.60H385.0" stroke="#333" stroke-width="0.8"/>
<text x="379.00" y="29.80" font-size="6.0" fill="#333" stroke="#333" stroke-width="0.16" text-anchor="end">100%</text>
<path d="M394.10 156.2V159" stroke="#333" stroke-width="0.8"/>
<text x="394.10" y="167.90" font-size="6.4" fill="#333" stroke="#333" stroke-width="0.16" text-anchor="middle" textLength="6.3" lengthAdjust="spacingAndGlyphs">S1</text>
<path d="M409.76 156.2V159" stroke="#333" stroke-width="0.8"/>
<text x="409.76" y="167.90" font-size="6.4" fill="#333" stroke="#333" stroke-width="0.16" text-anchor="middle" textLength="6.3" lengthAdjust="spacingAndGlyphs">S2</text>
<path d="M425.42 156.2V159" stroke="#333" stroke-width="0.8"/>
<text x="425.42" y="167.90" font-size="6.4" fill="#333" stroke="#333" stroke-width="0.16" text-anchor="middle" textLength="6.3" lengthAdjust="spacingAndGlyphs">S3</text>
<path d="M441.08 156.2V159" stroke="#333" stroke-width="0.8"/>
<text x="441.08" y="167.90" font-size="6.4" fill="#333" stroke="#333" stroke-width="0.16" text-anchor="middle" textLength="6.3" lengthAdjust="spacingAndGlyphs">S4</text>
<path d="M456.74 156.2V159" stroke="#333" stroke-width="0.8"/>
<text x="456.74" y="167.90" font-size="6.4" fill="#333" stroke="#333" stroke-width="0.16" text-anchor="middle" textLength="6.3" lengthAdjust="spacingAndGlyphs">S5</text>
<path d="M472.40 156.2V159" stroke="#333" stroke-width="0.8"/>
<text x="472.40" y="167.90" font-size="6.4" fill="#333" stroke="#333" stroke-width="0.16" text-anchor="middle" textLength="6.3" lengthAdjust="spacingAndGlyphs">S6</text>
<path d="M488.06 156.2V159" stroke="#333" stroke-width="0.8"/>
<text x="488.06" y="167.90" font-size="6.4" fill="#333" stroke="#333" stroke-width="0.16" text-anchor="middle" textLength="6.3" lengthAdjust="spacingAndGlyphs">S7</text>
<path d="M503.72 156.2V159" stroke="#333" stroke-width="0.8"/>
<text x="503.72" y="167.90" font-size="6.4" fill="#333" stroke="#333" stroke-width="0.16" text-anchor="middle" textLength="6.3" lengthAdjust="spacingAndGlyphs">S8</text>
<text x="0" y="0" font-size="6.8" fill="#333" text-anchor="middle" textLength="32.8" lengthAdjust="spacingAndGlyphs" transform="translate(358.6 88.6) rotate(-90)">Percentage</text>
<text x="388.00" y="177.80" font-size="6.5" fill="#333" stroke="#333" stroke-width="0.16" textLength="32.4" lengthAdjust="spacingAndGlyphs">Age groups</text>
<rect x="423.2" y="173.6" width="6.6" height="6.0" fill="#62c0a0"/>
<text x="433.10" y="177.80" font-size="6.5" fill="#333" stroke="#333" stroke-width="0.16" textLength="15.6" lengthAdjust="spacingAndGlyphs">15-44</text>
<rect x="455.0" y="173.6" width="6.6" height="6.0" fill="#8e9dcc"/>
<text x="464.40" y="177.80" font-size="6.5" fill="#333" stroke="#333" stroke-width="0.16" textLength="15.6" lengthAdjust="spacingAndGlyphs">45-59</text>
<rect x="485.8" y="173.6" width="6.6" height="6.0" fill="#f58c68"/>
<text x="494.60" y="177.80" font-size="6.5" fill="#333" stroke="#333" stroke-width="0.16" textLength="15.6" lengthAdjust="spacingAndGlyphs">60-80</text>
<text x="6.90" y="194.40" font-size="10.8" fill="#111" font-weight="bold">C</text>
<text x="138.00" y="207.35" font-size="6.4" fill="#333" stroke="#333" stroke-width="0.16">SNF</text>
<text x="138.00" y="215.30" font-size="6.4" fill="#333" stroke="#333" stroke-width="0.16">WHO</text>
<text x="138.00" y="221.85" font-size="6.4" fill="#333" stroke="#333" stroke-width="0.16">GEP</text>
<text x="138.00" y="228.40" font-size="6.4" fill="#333" stroke="#333" stroke-width="0.16">Sex</text>
<text x="138.00" y="234.95" font-size="6.4" fill="#333" stroke="#333" stroke-width="0.16">Age</text>
<text x="138.00" y="241.50" font-size="6.4" fill="#333" stroke="#333" stroke-width="0.16">FAB</text>
<text x="138.00" y="248.05" font-size="6.4" fill="#333" stroke="#333" stroke-width="0.16">BM blasts</text>
<text x="138.00" y="254.60" font-size="6.4" fill="#333" stroke="#333" stroke-width="0.16">WBC</text>
<text x="138.00" y="261.15" font-size="6.4" fill="#333" stroke="#333" stroke-width="0.16">HGB</text>
<text x="138.00" y="267.70" font-size="6.4" fill="#333" stroke="#333" stroke-width="0.16">PLT</text>
<text x="138.00" y="274.25" font-size="6.4" fill="#333" stroke="#333" stroke-width="0.16">ELN risk</text>
<text x="138.00" y="280.80" font-size="6.4" fill="#333" stroke="#333" stroke-width="0.16">OS status</text>
<text x="138.00" y="287.35" font-size="6.4" fill="#333" stroke="#333" stroke-width="0.16">EFS status</text>
<g><rect x="22.30" y="202.3" width="16.63" height="6.70" fill="#a6cee3"/><rect x="40.98" y="202.3" width="13.58" height="6.70" fill="#1f78b4"/><rect x="56.62" y="202.3" width="11.64" height="6.70" fill="#33a02c"/><rect x="70.31" y="202.3" width="12.47" height="6.70" fill="#b2df8a"/><rect x="84.83" y="202.3" width="15.25" height="6.70" fill="#fb9a99"/><rect x="102.13" y="202.3" width="10.81" height="6.70" fill="#fdbf6f"/><rect x="114.99" y="202.3" width="9.98" height="6.70" fill="#e31a1c"/><rect x="127.02" y="202.3" width="9.98" height="6.70" fill="#ff7f00"/><path d="M22.3 210.8h1.2v5.6h-1.2zM26.0 210.8h6.2v5.6h-6.2zM33.1 210.8h3.8v5.6h-3.8zM37.5 210.8h0.8v5.6h-0.8z" fill="#749dcc"/><path d="M23.5 210.8h2.6v5.6h-2.6zM32.3 210.8h0.9v5.6h-0.9z" fill="#be86a8"/><path d="M36.9 210.8h0.6v5.6h-0.6zM38.3 210.8h0.7v5.6h-0.7z" fill="#9ca2d1"/><path d="M41.0 210.8h0.9v5.6h-0.9zM42.9 210.8h2.0v5.6h-2.0z" fill="#8db6ba"/><path d="M41.8 210.8h1.1v5.6h-1.1zM48.0 210.8h1.5v5.6h-1.5z" fill="#b6a3c3"/><path d="M44.9 210.8h3.1v5.6h-3.1zM49.5 210.8h0.9v5.6h-0.9zM52.6 210.8h2.0v5.6h-2.0z" fill="#e7a580"/><path d="M50.4 210.8h2.2v5.6h-2.2z" fill="#d7889a"/><path d="M56.6 210.8h1.9v5.6h-1.9zM60.8 210.8h0.8v5.6h-0.8zM63.9 210.8h3.1v5.6h-3.1z" fill="#e7a685"/><path d="M58.5 210.8h0.9v5.6h-0.9z" fill="#d888a0"/><path d="M59.4 210.8h0.6v5.6h-0.6zM63.0 210.8h0.9v5.6h-0.9zM67.7 210.8h0.6v5.6h-0.6z" fill="#b6a4c9"/><path d="M60.0 210.8h0.8v5.6h-0.8zM61.6 210.8h1.4v5.6h-1.4zM67.0 210.8h0.6v5.6h-0.6z" fill="#ddc7c3"/><path d="M70.3 210.8h12.5v5.6h-12.5z" fill="#a0a0b8"/><path d="M84.8 210.8h1.4v5.6h-1.4zM94.9 210.8h2.0v5.6h-2.0zM99.3 210.8h0.8v5.6h-0.8z" fill="#eeaa80"/><path d="M86.2 210.8h2.4v5.6h-2.4zM89.3 210.8h0.7v5.6h-0.7zM90.9 210.8h1.5v5.6h-1.5zM96.9 210.8h0.9v5.6h-0.9z" fill="#e4ccbd"/><path d="M88.6 210.8h0.7v5.6h-0.7zM90.0 210.8h0.9v5.6h-0.9zM92.4 210.8h1.5v5.6h-1.5z" fill="#de8d9a"/><path d="M93.9 210.8h1.0v5.6h-1.0zM97.9 210.8h1.5v5.6h-1.5z" fill="#bda9c3"/><path d="M102.1 210.8h0.7v5.6h-0.7zM108.5 210.8h0.9v5.6h-0.9z" fill="#e4d0c4"/><path d="M102.8 210.8h1.3v5.6h-1.3zM110.6 210.8h0.9v5.6h-0.9z" fill="#de91a1"/><path d="M104.1 210.8h0.9v5.6h-0.9zM106.3 210.8h2.1v5.6h-2.1z" fill="#bdadca"/><path d="M105.0 210.8h1.3v5.6h-1.3zM109.3 210.8h1.3v5.6h-1.3zM111.5 210.8h1.5v5.6h-1.5z" fill="#eeaf86"/><path d="M115.0 210.8h0.8v5.6h-0.8zM116.8 210.8h2.1v5.6h-2.1zM121.1 210.8h1.4v5.6h-1.4zM124.0 210.8h1.0v5.6h-1.0z" fill="#ce87a4"/><path d="M115.8 210.8h1.0v5.6h-1.0zM118.9 210.8h2.2v5.6h-2.2z" fill="#84b5c4"/><path d="M122.5 210.8h1.5v5.6h-1.5z" fill="#8cb8c7"/><path d="M127.0 210.8h10.0v5.6h-10.0z" fill="#91c27f"/><path d="M22.3 217.4h1.8v5.6h-1.8zM29.6 217.4h1.2v5.6h-1.2z" fill="#8a68ad"/><path d="M24.1 217.4h5.5v5.6h-5.5zM31.6 217.4h1.5v5.6h-1.5zM33.7 217.4h3.2v5.6h-3.2zM38.0 217.4h0.9v5.6h-0.9z" fill="#9981a2"/><path d="M30.8 217.4h0.8v5.6h-0.8zM36.9 217.4h1.1v5.6h-1.1z" fill="#d78183"/><path d="M33.0 217.4h0.7v5.6h-0.7z" fill="#d7a0bc"/><path d="M41.0 217.4h1.3v5.6h-1.3zM43.2 217.4h1.1v5.6h-1.1zM48.4 217.4h0.7v5.6h-0.7zM51.4 217.4h0.9v5.6h-0.9z" fill="#dea3b7"/><path d="M42.3 217.4h0.9v5.6h-0.9zM45.8 217.4h2.6v5.6h-2.6zM49.1 217.4h1.2v5.6h-1.2zM52.4 217.4h2.2v5.6h-2.2z" fill="#a0849d"/><path d="M44.4 217.4h1.5v5.6h-1.5z" fill="#926b5f"/><path d="M50.2 217.4h1.2v5.6h-1.2z" fill="#de847e"/><path d="M56.6 217.4h1.5v5.6h-1.5zM65.7 217.4h1.3v5.6h-1.3zM67.6 217.4h0.6v5.6h-0.6z" fill="#d1796d"/><path d="M58.1 217.4h5.9v5.6h-5.9zM64.7 217.4h1.0v5.6h-1.0z" fill="#85614d"/><path d="M64.0 217.4h0.7v5.6h-0.7zM67.0 217.4h0.6v5.6h-0.6z" fill="#93798c"/><path d="M70.3 217.4h12.5v5.6h-12.5z" fill="#f08273"/><path d="M84.8 217.4h0.6v5.6h-0.6zM92.7 217.4h1.4v5.6h-1.4zM97.7 217.4h1.4v5.6h-1.4z" fill="#e3acba"/><path d="M85.5 217.4h1.0v5.6h-1.0zM90.7 217.4h1.0v5.6h-1.0z" fill="#a48da0"/><path d="M86.5 217.4h1.4v5.6h-1.4zM91.7 217.4h0.9v5.6h-0.9zM95.6 217.4h1.2v5.6h-1.2zM99.1 217.4h1.0v5.6h-1.0z" fill="#c3ac81"/><path d="M87.9 217.4h0.6v5.6h-0.6zM94.1 217.4h1.5v5.6h-1.5zM96.8 217.4h0.9v5.6h-0.9z" fill="#e38d81"/><path d="M88.5 217.4h2.2v5.6h-2.2z" fill="#8fbcb5"/><path d="M102.1 217.4h1.0v5.6h-1.0zM103.9 217.4h1.3v5.6h-1.3zM109.5 217.4h2.6v5.6h-2.6z" fill="#9b88a5"/><path d="M103.2 217.4h0.7v5.6h-0.7zM106.1 217.4h1.3v5.6h-1.3z" fill="#daa7bf"/><path d="M105.2 217.4h0.8v5.6h-0.8zM107.4 217.4h0.6v5.6h-0.6z" fill="#86a2bf"/><path d="M108.0 217.4h1.5v5.6h-1.5zM112.1 217.4h0.9v5.6h-0.9z" fill="#da8886"/><path d="M115.0 217.4h1.2v5.6h-1.2zM117.8 217.4h2.1v5.6h-2.1zM120.7 217.4h0.7v5.6h-0.7zM122.4 217.4h1.4v5.6h-1.4z" fill="#9a8a9a"/><path d="M116.2 217.4h0.9v5.6h-0.9z" fill="#d88a7b"/><path d="M117.1 217.4h0.7v5.6h-0.7zM121.3 217.4h1.1v5.6h-1.1z" fill="#85b9af"/><path d="M120.0 217.4h0.7v5.6h-0.7zM123.8 217.4h1.1v5.6h-1.1z" fill="#b9a97b"/><path d="M127.0 217.4h1.4v5.6h-1.4zM133.7 217.4h3.1v5.6h-3.1z" fill="#79c0bb"/><path d="M128.5 217.4h1.4v5.6h-1.4zM130.9 217.4h2.8v5.6h-2.8zM136.8 217.4h0.2v5.6h-0.2z" fill="#79abc0"/><path d="M129.9 217.4h1.1v5.6h-1.1z" fill="#cc9187"/><path d="M22.3 223.9h0.7v5.6h-0.7zM24.8 223.9h2.9v5.6h-2.9zM28.3 223.9h1.5v5.6h-1.5zM30.6 223.9h1.5v5.6h-1.5zM37.5 223.9h1.3v5.6h-1.3z" fill="#484482"/><path d="M23.0 223.9h1.8v5.6h-1.8zM27.7 223.9h0.6v5.6h-0.6zM29.8 223.9h0.8v5.6h-0.8zM32.1 223.9h5.4v5.6h-5.4zM38.8 223.9h0.1v5.6h-0.1z" fill="#8b3252"/><path d="M41.0 223.9h2.5v5.6h-2.5zM46.2 223.9h1.4v5.6h-1.4zM48.9 223.9h1.0v5.6h-1.0z" fill="#484482"/><path d="M43.5 223.9h2.7v5.6h-2.7zM47.6 223.9h1.3v5.6h-1.3zM49.9 223.9h4.6v5.6h-4.6z" fill="#8b3252"/><path d="M56.6 223.9h1.6v5.6h-1.6zM64.4 223.9h2.8v5.6h-2.8zM68.2 223.9h0.1v5.6h-0.1z" fill="#8b3252"/><path d="M58.2 223.9h6.2v5.6h-6.2zM67.2 223.9h1.0v5.6h-1.0z" fill="#484482"/><path d="M70.3 223.9h1.0v5.6h-1.0zM72.6 223.9h0.7v5.6h-0.7zM74.5 223.9h2.7v5.6h-2.7zM77.9 223.9h1.0v5.6h-1.0zM79.9 223.9h1.8v5.6h-1.8z" fill="#8b3252"/><path d="M71.3 223.9h1.3v5.6h-1.3zM73.3 223.9h1.2v5.6h-1.2zM77.2 223.9h0.7v5.6h-0.7zM78.8 223.9h1.1v5.6h-1.1zM81.7 223.9h1.1v5.6h-1.1z" fill="#484482"/><path d="M84.8 223.9h4.9v5.6h-4.9zM92.1 223.9h0.7v5.6h-0.7zM94.9 223.9h1.4v5.6h-1.4z" fill="#8b3252"/><path d="M89.8 223.9h2.4v5.6h-2.4zM92.8 223.9h2.1v5.6h-2.1zM96.3 223.9h3.8v5.6h-3.8z" fill="#484482"/><path d="M102.1 223.9h2.9v5.6h-2.9zM105.7 223.9h2.9v5.6h-2.9zM109.6 223.9h3.3v5.6h-3.3z" fill="#8b3252"/><path d="M105.1 223.9h0.7v5.6h-0.7zM108.6 223.9h1.0v5.6h-1.0z" fill="#484482"/><path d="M115.0 223.9h1.0v5.6h-1.0zM124.2 223.9h0.7v5.6h-0.7z" fill="#8b3252"/><path d="M116.0 223.9h8.3v5.6h-8.3z" fill="#484482"/><path d="M127.0 223.9h0.7v5.6h-0.7zM128.5 223.9h0.9v5.6h-0.9zM130.7 223.9h1.3v5.6h-1.3zM133.4 223.9h3.0v5.6h-3.0z" fill="#8b3252"/><path d="M127.7 223.9h0.8v5.6h-0.8zM129.4 223.9h1.3v5.6h-1.3zM132.0 223.9h1.4v5.6h-1.4zM136.4 223.9h0.6v5.6h-0.6z" fill="#484482"/><path d="M22.3 230.5h2.3v5.6h-2.3zM32.8 230.5h1.1v5.6h-1.1zM37.6 230.5h1.3v5.6h-1.3z" fill="#e0a2ae"/><path d="M24.6 230.5h1.2v5.6h-1.2zM28.0 230.5h2.4v5.6h-2.4zM33.9 230.5h1.3v5.6h-1.3zM35.9 230.5h0.6v5.6h-0.6z" fill="#cbb1ce"/><path d="M25.9 230.5h1.4v5.6h-1.4z" fill="#c1acce"/><path d="M27.3 230.5h0.7v5.6h-0.7z" fill="#e5bcc3"/><path d="M30.4 230.5h2.4v5.6h-2.4zM35.3 230.5h0.6v5.6h-0.6z" fill="#d1889f"/><path d="M36.6 230.5h1.0v5.6h-1.0z" fill="#b48eb9"/><path d="M41.0 230.5h3.3v5.6h-3.3zM52.2 230.5h1.3v5.6h-1.3z" fill="#e6bbc2"/><path d="M44.3 230.5h1.5v5.6h-1.5zM53.5 230.5h1.1v5.6h-1.1z" fill="#b48db8"/><path d="M45.8 230.5h1.4v5.6h-1.4z" fill="#d6919e"/><path d="M47.1 230.5h1.0v5.6h-1.0zM49.4 230.5h0.6v5.6h-0.6zM50.8 230.5h1.4v5.6h-1.4z" fill="#e0a1ad"/><path d="M48.1 230.5h1.3v5.6h-1.3z" fill="#ccb0cd"/><path d="M50.1 230.5h0.7v5.6h-0.7z" fill="#c1abcd"/><path d="M56.6 230.5h1.2v5.6h-1.2z" fill="#b78bb1"/><path d="M57.8 230.5h0.9v5.6h-0.9zM60.5 230.5h0.9v5.6h-0.9z" fill="#e3948d"/><path d="M58.7 230.5h1.1v5.6h-1.1zM65.6 230.5h1.2v5.6h-1.2zM67.9 230.5h0.3v5.6h-0.3z" fill="#d9a4b6"/><path d="M59.8 230.5h0.8v5.6h-0.8zM61.4 230.5h0.9v5.6h-0.9z" fill="#e8a9a2"/><path d="M62.3 230.5h1.0v5.6h-1.0zM66.9 230.5h1.1v5.6h-1.1z" fill="#ceaec6"/><path d="M63.3 230.5h2.3v5.6h-2.3z" fill="#d38597"/><path d="M70.3 230.5h1.2v5.6h-1.2zM82.1 230.5h0.7v5.6h-0.7z" fill="#cbb3d0"/><path d="M71.5 230.5h0.9v5.6h-0.9zM76.9 230.5h1.2v5.6h-1.2z" fill="#e0a3b1"/><path d="M72.4 230.5h0.7v5.6h-0.7zM74.2 230.5h2.7v5.6h-2.7z" fill="#e5bdc6"/><path d="M73.1 230.5h1.1v5.6h-1.1zM78.1 230.5h1.3v5.6h-1.3z" fill="#c0aed0"/><path d="M79.4 230.5h2.7v5.6h-2.7z" fill="#b390bb"/><path d="M84.8 230.5h0.8v5.6h-0.8zM87.0 230.5h1.5v5.6h-1.5zM91.6 230.5h1.4v5.6h-1.4zM94.0 230.5h1.2v5.6h-1.2zM99.9 230.5h0.2v5.6h-0.2z" fill="#cdb0cb"/><path d="M85.6 230.5h1.4v5.6h-1.4zM88.5 230.5h1.9v5.6h-1.9zM93.0 230.5h0.9v5.6h-0.9zM96.4 230.5h1.4v5.6h-1.4z" fill="#e2a0ac"/><path d="M90.4 230.5h1.2v5.6h-1.2zM98.7 230.5h1.2v5.6h-1.2z" fill="#b68db6"/><path d="M95.2 230.5h1.2v5.6h-1.2zM97.8 230.5h0.9v5.6h-0.9z" fill="#e7b5bb"/><path d="M102.1 230.5h1.3v5.6h-1.3zM107.7 230.5h1.4v5.6h-1.4z" fill="#e5bdc6"/><path d="M103.4 230.5h0.7v5.6h-0.7zM105.4 230.5h2.2v5.6h-2.2z" fill="#cbb3d0"/><path d="M104.1 230.5h1.3v5.6h-1.3z" fill="#b390bb"/><path d="M109.1 230.5h0.9v5.6h-0.9zM112.0 230.5h0.9v5.6h-0.9z" fill="#c0aed0"/><path d="M109.9 230.5h2.1v5.6h-2.1z" fill="#dfa3b1"/><path d="M115.0 230.5h0.8v5.6h-0.8zM124.3 230.5h0.6v5.6h-0.6z" fill="#e3949a"/><path d="M115.8 230.5h1.1v5.6h-1.1zM118.1 230.5h0.7v5.6h-0.7z" fill="#d8a4ba"/><path d="M116.9 230.5h1.2v5.6h-1.2zM122.2 230.5h0.8v5.6h-0.8z" fill="#ceaec9"/><path d="M118.8 230.5h1.4v5.6h-1.4zM121.0 230.5h1.2v5.6h-1.2z" fill="#d3859a"/><path d="M120.1 230.5h0.9v5.6h-0.9z" fill="#b68bb4"/><path d="M123.0 230.5h1.4v5.6h-1.4z" fill="#e8a9af"/><path d="M127.0 230.5h0.7v5.6h-0.7zM134.4 230.5h1.4v5.6h-1.4z" fill="#e1a3b0"/><path d="M127.8 230.5h0.7v5.6h-0.7z" fill="#ccb3cf"/><path d="M128.5 230.5h0.7v5.6h-0.7zM130.5 230.5h1.3v5.6h-1.3zM136.7 230.5h0.3v5.6h-0.3z" fill="#c2aecf"/><path d="M129.2 230.5h1.3v5.6h-1.3z" fill="#b590ba"/><path d="M131.8 230.5h2.6v5.6h-2.6z" fill="#d189a0"/><path d="M135.7 230.5h0.9v5.6h-0.9z" fill="#e6bdc5"/><path d="M22.3 237.0h1.8v5.6h-1.8zM30.4 237.0h1.0v5.6h-1.0zM36.0 237.0h0.9v5.6h-0.9zM38.2 237.0h0.6v5.6h-0.6z" fill="#bac9c0"/><path d="M24.1 237.0h1.6v5.6h-1.6zM28.2 237.0h1.3v5.6h-1.3zM33.6 237.0h2.4v5.6h-2.4zM36.8 237.0h1.4v5.6h-1.4zM38.8 237.0h0.1v5.6h-0.1z" fill="#8b93c0"/><path d="M25.7 237.0h1.0v5.6h-1.0zM31.4 237.0h1.3v5.6h-1.3z" fill="#c498a1"/><path d="M26.8 237.0h1.5v5.6h-1.5zM29.5 237.0h0.9v5.6h-0.9zM32.6 237.0h0.9v5.6h-0.9z" fill="#8badd5"/><path d="M41.0 237.0h2.8v5.6h-2.8zM44.8 237.0h0.7v5.6h-0.7zM46.8 237.0h2.9v5.6h-2.9zM51.6 237.0h1.7v5.6h-1.7z" fill="#9290c0"/><path d="M43.8 237.0h0.9v5.6h-0.9zM50.8 237.0h0.8v5.6h-0.8z" fill="#92aad5"/><path d="M45.5 237.0h1.3v5.6h-1.3zM49.7 237.0h1.1v5.6h-1.1z" fill="#cb95a1"/><path d="M53.2 237.0h1.3v5.6h-1.3z" fill="#dab4d5"/><path d="M56.6 237.0h1.1v5.6h-1.1zM61.0 237.0h1.2v5.6h-1.2z" fill="#c3cbc2"/><path d="M57.7 237.0h1.0v5.6h-1.0zM59.6 237.0h1.4v5.6h-1.4zM62.2 237.0h1.6v5.6h-1.6zM66.1 237.0h2.0v5.6h-2.0z" fill="#ddb8d6"/><path d="M58.6 237.0h1.0v5.6h-1.0z" fill="#9494c2"/><path d="M63.8 237.0h2.3v5.6h-2.3zM68.1 237.0h0.2v5.6h-0.2z" fill="#cd99a2"/><path d="M70.3 237.0h12.5v5.6h-12.5z" fill="#70c0b0"/><path d="M84.8 237.0h0.8v5.6h-0.8zM87.4 237.0h0.7v5.6h-0.7zM89.6 237.0h2.8v5.6h-2.8zM93.5 237.0h2.9v5.6h-2.9zM98.1 237.0h1.0v5.6h-1.0z" fill="#8b8ec2"/><path d="M85.6 237.0h1.8v5.6h-1.8zM88.1 237.0h1.5v5.6h-1.5zM96.4 237.0h1.6v5.6h-1.6zM99.0 237.0h1.0v5.6h-1.0z" fill="#d4b2d6"/><path d="M92.4 237.0h1.1v5.6h-1.1z" fill="#8ba8d6"/><path d="M102.1 237.0h1.3v5.6h-1.3zM104.3 237.0h0.9v5.6h-0.9zM106.4 237.0h0.9v5.6h-0.9z" fill="#b8cec2"/><path d="M103.4 237.0h0.9v5.6h-0.9zM110.0 237.0h2.3v5.6h-2.3z" fill="#8997c2"/><path d="M105.2 237.0h1.2v5.6h-1.2zM107.3 237.0h2.7v5.6h-2.7z" fill="#d2bcd6"/><path d="M112.3 237.0h0.6v5.6h-0.6z" fill="#7fbcb7"/><path d="M115.0 237.0h2.5v5.6h-2.5zM118.6 237.0h0.7v5.6h-0.7zM121.2 237.0h3.0v5.6h-3.0z" fill="#e0b5d5"/><path d="M117.5 237.0h1.1v5.6h-1.1zM124.2 237.0h0.8v5.6h-0.8z" fill="#d196a1"/><path d="M119.3 237.0h1.8v5.6h-1.8z" fill="#9791c0"/><path d="M127.0 237.0h10.0v5.6h-10.0z" fill="#888cc2"/><path d="M22.3 243.6h2.5v5.6h-2.5zM26.1 243.6h2.6v5.6h-2.6zM29.3 243.6h0.7v5.6h-0.7zM33.1 243.6h3.5v5.6h-3.5z" fill="#e1b3c0"/><path d="M24.8 243.6h1.2v5.6h-1.2zM28.7 243.6h0.7v5.6h-0.7zM30.0 243.6h3.1v5.6h-3.1z" fill="#e6c8d0"/><path d="M36.6 243.6h2.3v5.6h-2.3z" fill="#ccbeda"/><path d="M41.0 243.6h0.7v5.6h-0.7zM42.6 243.6h1.7v5.6h-1.7zM45.2 243.6h1.2v5.6h-1.2zM49.5 243.6h0.7v5.6h-0.7z" fill="#e2b3bf"/><path d="M41.7 243.6h0.8v5.6h-0.8zM48.4 243.6h1.1v5.6h-1.1zM53.9 243.6h0.7v5.6h-0.7z" fill="#bdaed4"/><path d="M44.3 243.6h1.0v5.6h-1.0z" fill="#e7c8cf"/><path d="M46.4 243.6h1.9v5.6h-1.9zM50.2 243.6h3.7v5.6h-3.7z" fill="#cdbdd9"/><path d="M56.6 243.6h0.9v5.6h-0.9zM58.3 243.6h1.4v5.6h-1.4zM60.9 243.6h2.8v5.6h-2.8zM67.3 243.6h1.0v5.6h-1.0z" fill="#cabddc"/><path d="M57.5 243.6h0.8v5.6h-0.8zM59.7 243.6h1.2v5.6h-1.2zM63.6 243.6h2.1v5.6h-2.1zM66.3 243.6h0.9v5.6h-0.9z" fill="#baaed6"/><path d="M65.7 243.6h0.6v5.6h-0.6z" fill="#e4c8d1"/><path d="M70.3 243.6h5.2v5.6h-5.2zM78.3 243.6h2.6v5.6h-2.6z" fill="#e2604e"/><path d="M75.5 243.6h2.9v5.6h-2.9zM80.9 243.6h0.7v5.6h-0.7z" fill="#e76e5e"/><path d="M81.6 243.6h1.2v5.6h-1.2z" fill="#ec8373"/><path d="M84.8 243.6h3.4v5.6h-3.4zM89.7 243.6h1.0v5.6h-1.0zM91.8 243.6h1.0v5.6h-1.0zM94.8 243.6h1.4v5.6h-1.4zM97.6 243.6h0.7v5.6h-0.7z" fill="#e0796c"/><path d="M88.2 243.6h1.5v5.6h-1.5zM93.9 243.6h0.9v5.6h-0.9zM96.2 243.6h1.3v5.6h-1.3zM98.3 243.6h1.4v5.6h-1.4z" fill="#e58e81"/><path d="M90.7 243.6h1.1v5.6h-1.1zM92.8 243.6h1.1v5.6h-1.1zM99.7 243.6h0.4v5.6h-0.4z" fill="#db9dab"/><path d="M102.1 243.6h4.1v5.6h-4.1zM106.9 243.6h1.2v5.6h-1.2zM111.4 243.6h1.4v5.6h-1.4z" fill="#ec9292"/><path d="M106.2 243.6h0.7v5.6h-0.7zM108.9 243.6h1.4v5.6h-1.4zM112.9 243.6h0.1v5.6h-0.1z" fill="#e26868"/><path d="M108.2 243.6h0.7v5.6h-0.7zM110.3 243.6h1.2v5.6h-1.2z" fill="#e27373"/><path d="M115.0 243.6h0.6v5.6h-0.6zM116.3 243.6h2.1v5.6h-2.1zM122.1 243.6h1.0v5.6h-1.0z" fill="#9898d5"/><path d="M115.6 243.6h0.7v5.6h-0.7zM118.4 243.6h1.4v5.6h-1.4zM124.5 243.6h0.5v5.6h-0.5z" fill="#7979c5"/><path d="M119.8 243.6h2.2v5.6h-2.2zM123.0 243.6h1.5v5.6h-1.5z" fill="#8989d0"/><path d="M127.0 243.6h2.7v5.6h-2.7zM132.1 243.6h1.2v5.6h-1.2zM135.8 243.6h1.2v5.6h-1.2z" fill="#edced1"/><path d="M129.7 243.6h1.4v5.6h-1.4zM133.3 243.6h2.5v5.6h-2.5z" fill="#e7c4cc"/><path d="M131.1 243.6h1.0v5.6h-1.0z" fill="#ddcedb"/><path d="M22.3 250.1h1.0v5.6h-1.0zM24.7 250.1h1.4v5.6h-1.4zM27.1 250.1h0.7v5.6h-0.7zM31.3 250.1h2.0v5.6h-2.0zM35.8 250.1h1.0v5.6h-1.0z" fill="#d4cce5"/><path d="M23.3 250.1h1.3v5.6h-1.3zM29.3 250.1h0.8v5.6h-0.8zM38.0 250.1h0.9v5.6h-0.9z" fill="#e4d6e5"/><path d="M26.0 250.1h1.1v5.6h-1.1zM30.1 250.1h1.2v5.6h-1.2zM33.3 250.1h2.5v5.6h-2.5zM36.8 250.1h1.3v5.6h-1.3z" fill="#c5bcdb"/><path d="M27.8 250.1h1.5v5.6h-1.5z" fill="#b0a7d5"/><path d="M41.0 250.1h1.0v5.6h-1.0zM49.3 250.1h3.6v5.6h-3.6zM54.3 250.1h0.2v5.6h-0.2z" fill="#d1cde4"/><path d="M42.0 250.1h4.0v5.6h-4.0zM48.3 250.1h1.1v5.6h-1.1z" fill="#c2c2e4"/><path d="M45.9 250.1h2.3v5.6h-2.3zM53.0 250.1h1.4v5.6h-1.4z" fill="#7e89ca"/><path d="M56.6 250.1h3.5v5.6h-3.5zM61.6 250.1h0.9v5.6h-0.9zM64.0 250.1h1.2v5.6h-1.2zM66.2 250.1h1.0v5.6h-1.0z" fill="#8a8ac6"/><path d="M60.1 250.1h1.5v5.6h-1.5zM65.2 250.1h1.0v5.6h-1.0z" fill="#9e9ed5"/><path d="M62.6 250.1h1.5v5.6h-1.5zM67.2 250.1h1.1v5.6h-1.1z" fill="#b3b3db"/><path d="M70.3 250.1h2.6v5.6h-2.6zM75.4 250.1h1.4v5.6h-1.4zM78.7 250.1h1.2v5.6h-1.2z" fill="#8396db"/><path d="M72.9 250.1h2.5v5.6h-2.5zM79.9 250.1h0.8v5.6h-0.8zM82.0 250.1h0.7v5.6h-0.7z" fill="#5977cc"/><path d="M76.8 250.1h1.9v5.6h-1.9zM80.7 250.1h1.4v5.6h-1.4zM82.7 250.1h0.1v5.6h-0.1z" fill="#6382d1"/><path d="M84.8 250.1h0.9v5.6h-0.9zM86.4 250.1h0.7v5.6h-0.7zM88.2 250.1h3.5v5.6h-3.5zM96.4 250.1h1.1v5.6h-1.1zM98.5 250.1h1.3v5.6h-1.3z" fill="#ccc5e0"/><path d="M85.7 250.1h0.7v5.6h-0.7zM91.7 250.1h4.7v5.6h-4.7zM97.5 250.1h1.0v5.6h-1.0z" fill="#dbd4e7"/><path d="M87.1 250.1h1.1v5.6h-1.1zM99.8 250.1h0.3v5.6h-0.3z" fill="#a2a0d5"/><path d="M102.1 250.1h1.5v5.6h-1.5zM104.7 250.1h1.3v5.6h-1.3zM112.8 250.1h0.1v5.6h-0.1z" fill="#e0d8e9"/><path d="M103.6 250.1h1.1v5.6h-1.1zM106.9 250.1h3.6v5.6h-3.6zM111.6 250.1h1.2v5.6h-1.2z" fill="#d0c8e1"/><path d="M106.0 250.1h0.9v5.6h-0.9zM110.4 250.1h1.2v5.6h-1.2z" fill="#bbb3dc"/><path d="M115.0 250.1h1.0v5.6h-1.0zM117.5 250.1h6.0v5.6h-6.0z" fill="#afaedf"/><path d="M116.0 250.1h1.5v5.6h-1.5zM123.5 250.1h1.2v5.6h-1.2z" fill="#bfb9e4"/><path d="M124.7 250.1h0.3v5.6h-0.3z" fill="#9a9ad5"/><path d="M127.0 250.1h0.9v5.6h-0.9zM130.4 250.1h5.8v5.6h-5.8z" fill="#d7c8da"/><path d="M127.9 250.1h1.0v5.6h-1.0z" fill="#cdc3df"/><path d="M128.9 250.1h1.5v5.6h-1.5zM136.2 250.1h0.8v5.6h-0.8z" fill="#ddcddf"/><path d="M22.3 256.7h1.0v5.6h-1.0zM27.3 256.7h0.7v5.6h-0.7zM33.6 256.7h2.5v5.6h-2.5zM37.7 256.7h1.2v5.6h-1.2z" fill="#e3a696"/><path d="M23.3 256.7h0.9v5.6h-0.9zM26.1 256.7h1.3v5.6h-1.3zM28.0 256.7h1.4v5.6h-1.4zM31.6 256.7h0.7v5.6h-0.7z" fill="#e8b0a0"/><path d="M24.2 256.7h1.9v5.6h-1.9zM29.4 256.7h2.2v5.6h-2.2zM32.4 256.7h1.2v5.6h-1.2zM36.1 256.7h1.6v5.6h-1.6z" fill="#edbaaa"/><path d="M41.0 256.7h2.4v5.6h-2.4zM44.9 256.7h1.3v5.6h-1.3zM52.2 256.7h0.6v5.6h-0.6z" fill="#dbbbc8"/><path d="M43.4 256.7h1.5v5.6h-1.5zM46.2 256.7h1.0v5.6h-1.0zM51.2 256.7h1.0v5.6h-1.0zM52.8 256.7h1.2v5.6h-1.2z" fill="#e5c5c8"/><path d="M47.2 256.7h4.0v5.6h-4.0zM54.0 256.7h0.5v5.6h-0.5z" fill="#e0c0c8"/><path d="M56.6 256.7h1.1v5.6h-1.1zM59.0 256.7h1.7v5.6h-1.7zM61.3 256.7h0.8v5.6h-0.8zM62.7 256.7h1.5v5.6h-1.5zM65.7 256.7h0.8v5.6h-0.8zM68.0 256.7h0.3v5.6h-0.3z" fill="#efcfc7"/><path d="M57.7 256.7h1.3v5.6h-1.3zM60.6 256.7h0.6v5.6h-0.6zM62.1 256.7h0.6v5.6h-0.6zM64.2 256.7h1.4v5.6h-1.4zM66.4 256.7h1.5v5.6h-1.5z" fill="#e9c9c1"/><path d="M70.3 256.7h1.4v5.6h-1.4zM76.3 256.7h5.0v5.6h-5.0z" fill="#f0c7c7"/><path d="M71.7 256.7h4.6v5.6h-4.6zM81.3 256.7h1.5v5.6h-1.5z" fill="#f0c1c1"/><path d="M84.8 256.7h3.0v5.6h-3.0zM89.2 256.7h2.1v5.6h-2.1zM92.4 256.7h4.6v5.6h-4.6z" fill="#e1c1c9"/><path d="M87.8 256.7h1.4v5.6h-1.4zM91.3 256.7h1.2v5.6h-1.2zM97.0 256.7h3.1v5.6h-3.1z" fill="#e7c7cf"/><path d="M102.1 256.7h2.3v5.6h-2.3zM107.3 256.7h0.7v5.6h-0.7zM108.9 256.7h1.1v5.6h-1.1z" fill="#e0bec4"/><path d="M104.4 256.7h1.2v5.6h-1.2zM106.2 256.7h1.0v5.6h-1.0zM107.9 256.7h0.9v5.6h-0.9zM109.9 256.7h2.0v5.6h-2.0zM112.8 256.7h0.1v5.6h-0.1z" fill="#bbb9d3"/><path d="M105.6 256.7h0.7v5.6h-0.7zM111.9 256.7h0.9v5.6h-0.9z" fill="#d5b9c9"/><path d="M115.0 256.7h1.2v5.6h-1.2zM117.2 256.7h6.1v5.6h-6.1zM124.1 256.7h0.8v5.6h-0.8z" fill="#d5c0d1"/><path d="M116.2 256.7h1.0v5.6h-1.0zM123.2 256.7h0.9v5.6h-0.9z" fill="#cbc0d7"/><path d="M127.0 256.7h4.1v5.6h-4.1zM134.6 256.7h1.2v5.6h-1.2z" fill="#d9b9c1"/><path d="M131.1 256.7h3.5v5.6h-3.5zM135.8 256.7h1.2v5.6h-1.2z" fill="#dfbfc7"/><path d="M22.3 263.2h2.1v5.6h-2.1zM27.1 263.2h0.8v5.6h-0.8zM30.3 263.2h1.0v5.6h-1.0zM33.6 263.2h1.0v5.6h-1.0zM38.0 263.2h0.9v5.6h-0.9z" fill="#4866c3"/><path d="M24.4 263.2h2.7v5.6h-2.7zM31.3 263.2h2.3v5.6h-2.3zM36.1 263.2h1.9v5.6h-1.9z" fill="#687acd"/><path d="M27.9 263.2h2.4v5.6h-2.4zM34.6 263.2h1.5v5.6h-1.5z" fill="#5870c8"/><path d="M41.0 263.2h1.3v5.6h-1.3zM44.2 263.2h1.5v5.6h-1.5zM47.0 263.2h3.3v5.6h-3.3zM51.4 263.2h2.4v5.6h-2.4z" fill="#8080cb"/><path d="M42.3 263.2h1.9v5.6h-1.9zM50.3 263.2h1.1v5.6h-1.1zM53.8 263.2h0.7v5.6h-0.7z" fill="#9a9ad5"/><path d="M45.6 263.2h1.3v5.6h-1.3z" fill="#8f8fd0"/><path d="M56.6 263.2h1.8v5.6h-1.8zM61.4 263.2h2.8v5.6h-2.8zM67.4 263.2h0.9v5.6h-0.9z" fill="#8383c9"/><path d="M58.5 263.2h3.0v5.6h-3.0zM64.2 263.2h3.2v5.6h-3.2z" fill="#8d8dcf"/><path d="M70.3 263.2h0.9v5.6h-0.9zM72.1 263.2h2.1v5.6h-2.1zM74.9 263.2h0.7v5.6h-0.7zM76.9 263.2h4.8v5.6h-4.8z" fill="#4f6fc7"/><path d="M71.2 263.2h0.9v5.6h-0.9zM74.2 263.2h0.7v5.6h-0.7zM75.6 263.2h1.3v5.6h-1.3zM81.8 263.2h1.0v5.6h-1.0z" fill="#4969c1"/><path d="M84.8 263.2h1.3v5.6h-1.3zM86.7 263.2h1.0v5.6h-1.0zM94.9 263.2h0.9v5.6h-0.9z" fill="#9090d3"/><path d="M86.1 263.2h0.6v5.6h-0.6zM87.7 263.2h1.4v5.6h-1.4zM90.6 263.2h0.9v5.6h-0.9zM92.5 263.2h1.0v5.6h-1.0zM96.6 263.2h0.7v5.6h-0.7z" fill="#9f9fd8"/><path d="M89.1 263.2h1.5v5.6h-1.5zM91.5 263.2h1.0v5.6h-1.0zM93.5 263.2h1.5v5.6h-1.5zM95.8 263.2h0.8v5.6h-0.8zM97.3 263.2h2.7v5.6h-2.7z" fill="#aaaadd"/><path d="M102.1 263.2h5.6v5.6h-5.6zM109.1 263.2h0.7v5.6h-0.7z" fill="#5363b9"/><path d="M107.7 263.2h1.4v5.6h-1.4zM109.7 263.2h1.4v5.6h-1.4zM112.6 263.2h0.3v5.6h-0.3z" fill="#4d5db4"/><path d="M111.1 263.2h1.5v5.6h-1.5z" fill="#6777c3"/><path d="M115.0 263.2h0.6v5.6h-0.6zM117.0 263.2h0.8v5.6h-0.8zM118.4 263.2h0.8v5.6h-0.8zM122.4 263.2h2.6v5.6h-2.6z" fill="#8b8bc9"/><path d="M115.6 263.2h1.4v5.6h-1.4zM117.8 263.2h0.7v5.6h-0.7zM119.2 263.2h3.2v5.6h-3.2z" fill="#9595cf"/><path d="M127.0 263.2h1.5v5.6h-1.5zM131.4 263.2h0.7v5.6h-0.7zM133.2 263.2h3.8v5.6h-3.8z" fill="#7979c9"/><path d="M128.5 263.2h2.9v5.6h-2.9zM132.0 263.2h1.2v5.6h-1.2z" fill="#7f7fcf"/><path d="M22.3 269.8h2.3v5.6h-2.3zM26.5 269.8h0.7v5.6h-0.7zM28.4 269.8h3.9v5.6h-3.9zM33.8 269.8h0.9v5.6h-0.9zM35.5 269.8h1.0v5.6h-1.0zM38.0 269.8h0.6v5.6h-0.6z" fill="#84a5d0"/><path d="M24.6 269.8h1.3v5.6h-1.3zM32.3 269.8h1.5v5.6h-1.5zM36.6 269.8h1.4v5.6h-1.4z" fill="#cd7c82"/><path d="M25.9 269.8h0.6v5.6h-0.6zM27.2 269.8h1.3v5.6h-1.3zM34.7 269.8h0.9v5.6h-0.9zM38.6 269.8h0.3v5.6h-0.3z" fill="#8471b6"/><path d="M41.0 269.8h0.9v5.6h-0.9zM51.1 269.8h2.8v5.6h-2.8z" fill="#d87274"/><path d="M41.9 269.8h4.6v5.6h-4.6zM47.8 269.8h3.2v5.6h-3.2zM53.8 269.8h0.7v5.6h-0.7z" fill="#9068a8"/><path d="M46.5 269.8h1.3v5.6h-1.3z" fill="#909cc2"/><path d="M56.6 269.8h1.2v5.6h-1.2zM61.7 269.8h0.9v5.6h-0.9zM63.7 269.8h0.7v5.6h-0.7z" fill="#949cbf"/><path d="M57.8 269.8h2.7v5.6h-2.7zM65.3 269.8h2.1v5.6h-2.1z" fill="#dc7371"/><path d="M60.5 269.8h1.1v5.6h-1.1zM62.5 269.8h1.1v5.6h-1.1zM64.4 269.8h0.9v5.6h-0.9zM67.4 269.8h0.9v5.6h-0.9z" fill="#9468a5"/><path d="M70.3 269.8h5.5v5.6h-5.5zM77.2 269.8h3.4v5.6h-3.4zM81.2 269.8h1.6v5.6h-1.6z" fill="#a5c1dd"/><path d="M75.8 269.8h1.4v5.6h-1.4zM80.5 269.8h0.7v5.6h-0.7z" fill="#8b7dbd"/><path d="M84.8 269.8h1.1v5.6h-1.1zM86.7 269.8h0.9v5.6h-0.9zM88.9 269.8h1.3v5.6h-1.3zM91.7 269.8h1.2v5.6h-1.2zM94.9 269.8h3.9v5.6h-3.9z" fill="#dc7672"/><path d="M86.0 269.8h0.7v5.6h-0.7zM87.6 269.8h1.3v5.6h-1.3zM90.2 269.8h1.5v5.6h-1.5zM92.9 269.8h1.9v5.6h-1.9zM98.7 269.8h0.8v5.6h-0.8z" fill="#949fc0"/><path d="M99.5 269.8h0.5v5.6h-0.5z" fill="#946ba6"/><path d="M102.1 269.8h2.3v5.6h-2.3zM105.4 269.8h1.2v5.6h-1.2zM107.3 269.8h2.1v5.6h-2.1zM110.7 269.8h2.1v5.6h-2.1z" fill="#88a2cb"/><path d="M104.5 269.8h1.0v5.6h-1.0zM106.6 269.8h0.6v5.6h-0.6zM109.4 269.8h1.3v5.6h-1.3zM112.8 269.8h0.1v5.6h-0.1z" fill="#886eb1"/><path d="M115.0 269.8h1.1v5.6h-1.1zM120.2 269.8h1.2v5.6h-1.2z" fill="#9866a1"/><path d="M116.1 269.8h4.2v5.6h-4.2zM121.4 269.8h3.5v5.6h-3.5z" fill="#e0716d"/><path d="M127.0 269.8h1.4v5.6h-1.4zM129.2 269.8h2.0v5.6h-2.0zM132.8 269.8h4.2v5.6h-4.2z" fill="#80aad5"/><path d="M128.4 269.8h0.8v5.6h-0.8zM131.1 269.8h1.7v5.6h-1.7z" fill="#8076bb"/><path d="M22.3 276.3h2.2v5.6h-2.2zM25.7 276.3h6.9v5.6h-6.9zM33.9 276.3h0.7v5.6h-0.7zM36.0 276.3h2.8v5.6h-2.8z" fill="#cdcdcd"/><path d="M24.5 276.3h1.2v5.6h-1.2zM32.6 276.3h1.3v5.6h-1.3zM34.6 276.3h1.4v5.6h-1.4zM38.7 276.3h0.2v5.6h-0.2z" fill="#5d5d5d"/><path d="M41.0 276.3h1.3v5.6h-1.3zM43.3 276.3h0.9v5.6h-0.9zM45.2 276.3h1.5v5.6h-1.5zM48.7 276.3h1.9v5.6h-1.9z" fill="#bbbbbb"/><path d="M42.3 276.3h1.0v5.6h-1.0zM44.2 276.3h1.0v5.6h-1.0zM46.7 276.3h2.0v5.6h-2.0zM50.6 276.3h4.0v5.6h-4.0z" fill="#4b4b4b"/><path d="M56.6 276.3h0.9v5.6h-0.9zM60.8 276.3h2.4v5.6h-2.4zM64.4 276.3h3.8v5.6h-3.8z" fill="#484848"/><path d="M57.5 276.3h3.3v5.6h-3.3zM63.2 276.3h1.2v5.6h-1.2z" fill="#b8b8b8"/><path d="M70.3 276.3h9.4v5.6h-9.4zM80.7 276.3h2.1v5.6h-2.1z" fill="#d0d0d0"/><path d="M79.7 276.3h1.0v5.6h-1.0z" fill="#606060"/><path d="M84.8 276.3h10.6v5.6h-10.6zM97.6 276.3h1.3v5.6h-1.3z" fill="#c1c1c1"/><path d="M95.5 276.3h2.1v5.6h-2.1zM98.9 276.3h1.1v5.6h-1.1z" fill="#515151"/><path d="M102.1 276.3h0.7v5.6h-0.7zM104.8 276.3h2.7v5.6h-2.7zM108.8 276.3h2.9v5.6h-2.9zM112.9 276.3h0.1v5.6h-0.1z" fill="#c4c4c4"/><path d="M102.9 276.3h1.9v5.6h-1.9zM107.5 276.3h1.3v5.6h-1.3zM111.7 276.3h1.2v5.6h-1.2z" fill="#545454"/><path d="M115.0 276.3h3.1v5.6h-3.1zM119.6 276.3h2.9v5.6h-2.9z" fill="#484848"/><path d="M118.1 276.3h1.4v5.6h-1.4zM122.4 276.3h2.5v5.6h-2.5z" fill="#b8b8b8"/><path d="M127.0 276.3h0.9v5.6h-0.9zM129.1 276.3h7.9v5.6h-7.9z" fill="#cacaca"/><path d="M128.0 276.3h1.1v5.6h-1.1z" fill="#5a5a5a"/><path d="M22.3 282.9h1.1v5.6h-1.1zM24.6 282.9h2.4v5.6h-2.4zM28.0 282.9h0.8v5.6h-0.8zM29.4 282.9h2.0v5.6h-2.0zM32.9 282.9h4.9v5.6h-4.9z" fill="#c7c7c7"/><path d="M23.4 282.9h1.2v5.6h-1.2zM27.0 282.9h1.0v5.6h-1.0zM28.7 282.9h0.6v5.6h-0.6zM31.4 282.9h1.5v5.6h-1.5zM37.8 282.9h1.2v5.6h-1.2z" fill="#575757"/><path d="M41.0 282.9h4.3v5.6h-4.3zM46.5 282.9h1.2v5.6h-1.2zM48.7 282.9h2.0v5.6h-2.0zM53.6 282.9h0.9v5.6h-0.9z" fill="#b8b8b8"/><path d="M45.2 282.9h1.2v5.6h-1.2zM47.7 282.9h1.0v5.6h-1.0zM50.7 282.9h3.0v5.6h-3.0z" fill="#484848"/><path d="M56.6 282.9h3.3v5.6h-3.3zM61.0 282.9h1.3v5.6h-1.3zM64.4 282.9h3.6v5.6h-3.6z" fill="#454545"/><path d="M59.9 282.9h1.0v5.6h-1.0zM62.3 282.9h2.1v5.6h-2.1zM68.0 282.9h0.2v5.6h-0.2z" fill="#b5b5b5"/><path d="M70.3 282.9h12.5v5.6h-12.5z" fill="#cdcdcd"/><path d="M84.8 282.9h2.8v5.6h-2.8zM89.4 282.9h1.4v5.6h-1.4zM91.8 282.9h1.4v5.6h-1.4zM97.7 282.9h1.4v5.6h-1.4z" fill="#bebebe"/><path d="M87.7 282.9h1.8v5.6h-1.8zM90.8 282.9h1.0v5.6h-1.0zM93.2 282.9h4.5v5.6h-4.5zM99.1 282.9h1.0v5.6h-1.0z" fill="#4e4e4e"/><path d="M102.1 282.9h1.3v5.6h-1.3zM107.3 282.9h0.9v5.6h-0.9zM109.1 282.9h0.6v5.6h-0.6zM110.6 282.9h2.1v5.6h-2.1z" fill="#515151"/><path d="M103.4 282.9h3.8v5.6h-3.8zM108.2 282.9h0.9v5.6h-0.9zM109.7 282.9h0.9v5.6h-0.9zM112.7 282.9h0.3v5.6h-0.3z" fill="#c1c1c1"/><path d="M115.0 282.9h1.0v5.6h-1.0zM118.0 282.9h1.5v5.6h-1.5zM121.5 282.9h2.0v5.6h-2.0zM124.3 282.9h0.7v5.6h-0.7z" fill="#b2b2b2"/><path d="M116.0 282.9h2.0v5.6h-2.0zM119.5 282.9h2.0v5.6h-2.0zM123.5 282.9h0.8v5.6h-0.8z" fill="#424242"/><path d="M127.0 282.9h0.9v5.6h-0.9zM129.2 282.9h3.1v5.6h-3.1zM134.1 282.9h2.9v5.6h-2.9z" fill="#c4c4c4"/><path d="M127.9 282.9h1.3v5.6h-1.3zM132.3 282.9h1.8v5.6h-1.8z" fill="#545454"/></g>
<text x="30.62" y="208.00" font-size="6.3" fill="#1a4a78" stroke="#1a4a78" stroke-width="0.16" text-anchor="middle">S1</text>
<text x="47.77" y="208.00" font-size="6.3" fill="#bcd8f0" stroke="#bcd8f0" stroke-width="0.16" text-anchor="middle">S2</text>
<text x="62.44" y="208.00" font-size="6.3" fill="#0d3d0a" stroke="#0d3d0a" stroke-width="0.16" text-anchor="middle">S3</text>
<text x="76.55" y="208.00" font-size="6.3" fill="#2a5018" stroke="#2a5018" stroke-width="0.16" text-anchor="middle">S4</text>
<text x="92.46" y="208.00" font-size="6.3" fill="#9a2a38" stroke="#9a2a38" stroke-width="0.16" text-anchor="middle">S5</text>
<text x="107.54" y="208.00" font-size="6.3" fill="#7a4a12" stroke="#7a4a12" stroke-width="0.16" text-anchor="middle">S6</text>
<text x="119.98" y="208.00" font-size="6.3" fill="#6a0808" stroke="#6a0808" stroke-width="0.16" text-anchor="middle">S7</text>
<text x="132.01" y="208.00" font-size="6.3" fill="#6b3000" stroke="#6b3000" stroke-width="0.16" text-anchor="middle">S8</text>
<g><rect x="22.30" y="290.50" width="114.70" height="355.08" fill="#e4e4e4"/><rect x="22.30" y="290.50" width="16.63" height="45.19" fill="#f4f4f4"/><rect x="22.30" y="335.69" width="16.63" height="38.74" fill="#f4f4f4"/><rect x="22.30" y="374.43" width="16.63" height="38.74" fill="#f4f4f4"/><rect x="22.30" y="413.16" width="16.63" height="32.28" fill="#f4f4f4"/><rect x="22.30" y="445.44" width="16.63" height="25.82" fill="#f4f4f4"/><rect x="22.30" y="471.27" width="16.63" height="6.46" fill="#f4f4f4"/><rect x="22.30" y="477.72" width="16.63" height="32.28" fill="#f4f4f4"/><rect x="22.30" y="510.00" width="16.63" height="51.65" fill="#f4f4f4"/><rect x="22.30" y="561.65" width="16.63" height="51.65" fill="#f4f4f4"/><rect x="22.30" y="613.30" width="16.63" height="32.28" fill="#f4f4f4"/><rect x="40.98" y="290.50" width="13.58" height="45.19" fill="#f4f4f4"/><rect x="40.98" y="335.69" width="13.58" height="38.74" fill="#f4f4f4"/><rect x="40.98" y="374.43" width="13.58" height="38.74" fill="#f4f4f4"/><rect x="40.98" y="413.16" width="13.58" height="32.28" fill="#f4f4f4"/><rect x="40.98" y="445.44" width="13.58" height="25.82" fill="#f4f4f4"/><rect x="40.98" y="471.27" width="13.58" height="6.46" fill="#f4f4f4"/><rect x="40.98" y="477.72" width="13.58" height="32.28" fill="#f4f4f4"/><rect x="40.98" y="510.00" width="13.58" height="51.65" fill="#f4f4f4"/><rect x="40.98" y="561.65" width="13.58" height="51.65" fill="#f4f4f4"/><rect x="40.98" y="613.30" width="13.58" height="32.28" fill="#f4f4f4"/><rect x="56.62" y="290.50" width="11.64" height="45.19" fill="#f4f4f4"/><rect x="56.62" y="335.69" width="11.64" height="38.74" fill="#f4f4f4"/><rect x="56.62" y="374.43" width="11.64" height="38.74" fill="#f4f4f4"/><rect x="56.62" y="413.16" width="11.64" height="32.28" fill="#f4f4f4"/><rect x="56.62" y="445.44" width="11.64" height="25.82" fill="#f4f4f4"/><rect x="56.62" y="471.27" width="11.64" height="6.46" fill="#f4f4f4"/><rect x="56.62" y="477.72" width="11.64" height="32.28" fill="#f4f4f4"/><rect x="56.62" y="510.00" width="11.64" height="51.65" fill="#f4f4f4"/><rect x="56.62" y="561.65" width="11.64" height="51.65" fill="#f4f4f4"/><rect x="56.62" y="613.30" width="11.64" height="32.28" fill="#f4f4f4"/><rect x="70.31" y="290.50" width="12.47" height="45.19" fill="#f4f4f4"/><rect x="70.31" y="335.69" width="12.47" height="38.74" fill="#f4f4f4"/><rect x="70.31" y="374.43" width="12.47" height="38.74" fill="#f4f4f4"/><rect x="70.31" y="413.16" width="12.47" height="32.28" fill="#f4f4f4"/><rect x="70.31" y="445.44" width="12.47" height="25.82" fill="#f4f4f4"/><rect x="70.31" y="471.27" width="12.47" height="6.46" fill="#f4f4f4"/><rect x="70.31" y="477.72" width="12.47" height="32.28" fill="#f4f4f4"/><rect x="70.31" y="510.00" width="12.47" height="51.65" fill="#f4f4f4"/><rect x="70.31" y="561.65" width="12.47" height="51.65" fill="#f4f4f4"/><rect x="70.31" y="613.30" width="12.47" height="32.28" fill="#f4f4f4"/><rect x="84.83" y="290.50" width="15.25" height="45.19" fill="#f4f4f4"/><rect x="84.83" y="335.69" width="15.25" height="38.74" fill="#f4f4f4"/><rect x="84.83" y="374.43" width="15.25" height="38.74" fill="#f4f4f4"/><rect x="84.83" y="413.16" width="15.25" height="32.28" fill="#f4f4f4"/><rect x="84.83" y="445.44" width="15.25" height="25.82" fill="#f4f4f4"/><rect x="84.83" y="471.27" width="15.25" height="6.46" fill="#f4f4f4"/><rect x="84.83" y="477.72" width="15.25" height="32.28" fill="#f4f4f4"/><rect x="84.83" y="510.00" width="15.25" height="51.65" fill="#f4f4f4"/><rect x="84.83" y="561.65" width="15.25" height="51.65" fill="#f4f4f4"/><rect x="84.83" y="613.30" width="15.25" height="32.28" fill="#f4f4f4"/><rect x="102.13" y="290.50" width="10.81" height="45.19" fill="#f4f4f4"/><rect x="102.13" y="335.69" width="10.81" height="38.74" fill="#f4f4f4"/><rect x="102.13" y="374.43" width="10.81" height="38.74" fill="#f4f4f4"/><rect x="102.13" y="413.16" width="10.81" height="32.28" fill="#f4f4f4"/><rect x="102.13" y="445.44" width="10.81" height="25.82" fill="#f4f4f4"/><rect x="102.13" y="471.27" width="10.81" height="6.46" fill="#f4f4f4"/><rect x="102.13" y="477.72" width="10.81" height="32.28" fill="#f4f4f4"/><rect x="102.13" y="510.00" width="10.81" height="51.65" fill="#f4f4f4"/><rect x="102.13" y="561.65" width="10.81" height="51.65" fill="#f4f4f4"/><rect x="102.13" y="613.30" width="10.81" height="32.28" fill="#f4f4f4"/><rect x="114.99" y="290.50" width="9.98" height="45.19" fill="#f4f4f4"/><rect x="114.99" y="335.69" width="9.98" height="38.74" fill="#f4f4f4"/><rect x="114.99" y="374.43" width="9.98" height="38.74" fill="#f4f4f4"/><rect x="114.99" y="413.16" width="9.98" height="32.28" fill="#f4f4f4"/><rect x="114.99" y="445.44" width="9.98" height="25.82" fill="#f4f4f4"/><rect x="114.99" y="471.27" width="9.98" height="6.46" fill="#f4f4f4"/><rect x="114.99" y="477.72" width="9.98" height="32.28" fill="#f4f4f4"/><rect x="114.99" y="510.00" width="9.98" height="51.65" fill="#f4f4f4"/><rect x="114.99" y="561.65" width="9.98" height="51.65" fill="#f4f4f4"/><rect x="114.99" y="613.30" width="9.98" height="32.28" fill="#f4f4f4"/><rect x="127.02" y="290.50" width="9.98" height="45.19" fill="#f4f4f4"/><rect x="127.02" y="335.69" width="9.98" height="38.74" fill="#f4f4f4"/><rect x="127.02" y="374.43" width="9.98" height="38.74" fill="#f4f4f4"/><rect x="127.02" y="413.16" width="9.98" height="32.28" fill="#f4f4f4"/><rect x="127.02" y="445.44" width="9.98" height="25.82" fill="#f4f4f4"/><rect x="127.02" y="471.27" width="9.98" height="6.46" fill="#f4f4f4"/><rect x="127.02" y="477.72" width="9.98" height="32.28" fill="#f4f4f4"/><rect x="127.02" y="510.00" width="9.98" height="51.65" fill="#f4f4f4"/><rect x="127.02" y="561.65" width="9.98" height="51.65" fill="#f4f4f4"/><rect x="127.02" y="613.30" width="9.98" height="32.28" fill="#f4f4f4"/><path d="M24.7 291.0h1.1v5.5h-1.1z" fill="#e6e6e6"/><path d="M42.7 291.0h0.8v5.5h-0.8zM48.3 291.0h0.9v5.5h-0.9zM50.0 291.0h0.6v5.5h-0.6z" fill="#bddbe9"/><path d="M57.2 291.0h1.2v5.5h-1.2zM63.1 291.0h1.1v5.5h-1.1z" fill="#e6e6e6"/><path d="M62.1 291.0h1.0v5.5h-1.0zM65.3 291.0h1.0v5.5h-1.0z" fill="#bddbe9"/><path d="M73.1 291.0h0.6v5.5h-0.6z" fill="#dde2e6"/><path d="M82.0 291.0h0.2v5.5h-0.2z" fill="#e6e6e6"/><path d="M92.9 291.0h0.9v5.5h-0.9z" fill="#bddbe9"/><path d="M93.8 291.0h0.8v5.5h-0.8z" fill="#e6e6e6"/><path d="M107.2 291.0h1.1v5.5h-1.1zM110.4 291.0h0.7v5.5h-0.7z" fill="#e6e6e6"/><path d="M119.1 291.0h1.7v5.5h-1.7z" fill="#bddbe9"/><path d="M134.6 291.0h1.1v5.5h-1.1z" fill="#e6e6e6"/><path d="M45.6 297.5h1.1v5.5h-1.1zM47.5 297.5h0.8v5.5h-0.8z" fill="#bddbe9"/><path d="M64.1 297.5h0.8v5.5h-0.8z" fill="#bddbe9"/><path d="M76.3 297.5h0.6v5.5h-0.6z" fill="#e6e6e6"/><path d="M78.1 297.5h0.6v5.5h-0.6z" fill="#dde2e6"/><path d="M103.6 297.5h1.0v5.5h-1.0zM110.4 297.5h0.7v5.5h-0.7z" fill="#e6e6e6"/><path d="M133.1 297.5h0.6v5.5h-0.6z" fill="#e6e6e6"/><path d="M29.2 303.9h1.5v5.5h-1.5zM32.2 303.9h0.7v5.5h-0.7zM34.7 303.9h0.7v5.5h-0.7z" fill="#bddbe9"/><path d="M30.7 303.9h0.7v5.5h-0.7z" fill="#e6e6e6"/><path d="M41.6 303.9h0.9v5.5h-0.9z" fill="#bddbe9"/><path d="M42.5 303.9h1.2v5.5h-1.2z" fill="#e6e6e6"/><path d="M62.8 303.9h1.1v5.5h-1.1z" fill="#bddbe9"/><path d="M66.0 303.9h0.8v5.5h-0.8z" fill="#e6e6e6"/><path d="M85.4 303.9h1.2v5.5h-1.2zM91.0 303.9h0.9v5.5h-0.9z" fill="#bddbe9"/><path d="M106.5 303.9h0.9v5.5h-0.9z" fill="#dde2e6"/><path d="M108.8 303.9h0.6v5.5h-0.6z" fill="#e6e6e6"/><path d="M128.5 303.9h0.7v5.5h-0.7z" fill="#e6e6e6"/><path d="M24.1 310.4h0.9v5.5h-0.9zM27.8 310.4h0.8v5.5h-0.8zM36.2 310.4h1.0v5.5h-1.0z" fill="#bddbe9"/><path d="M37.2 310.4h1.1v5.5h-1.1z" fill="#e6e6e6"/><path d="M42.8 310.4h1.1v5.5h-1.1zM44.5 310.4h1.0v5.5h-1.0zM50.6 310.4h1.0v5.5h-1.0z" fill="#e6e6e6"/><path d="M43.9 310.4h0.7v5.5h-0.7z" fill="#bddbe9"/><path d="M75.3 310.4h0.8v5.5h-0.8z" fill="#e6e6e6"/><path d="M86.3 310.4h0.9v5.5h-0.9z" fill="#e6e6e6"/><path d="M90.6 310.4h2.2v5.5h-2.2zM93.8 310.4h0.8v5.5h-0.8zM97.0 310.4h2.2v5.5h-2.2z" fill="#bddbe9"/><path d="M110.3 310.4h2.0v5.5h-2.0z" fill="#e6e6e6"/><path d="M123.2 310.4h0.7v5.5h-0.7z" fill="#bddbe9"/><path d="M129.0 310.4h0.8v5.5h-0.8zM130.6 310.4h2.0v5.5h-2.0z" fill="#e6e6e6"/><path d="M42.5 316.8h0.7v5.5h-0.7z" fill="#bddbe9"/><path d="M49.9 316.8h0.7v5.5h-0.7z" fill="#e6e6e6"/><path d="M57.2 316.8h1.0v5.5h-1.0zM59.4 316.8h1.0v5.5h-1.0zM62.1 316.8h0.8v5.5h-0.8zM65.5 316.8h0.8v5.5h-0.8z" fill="#bddbe9"/><path d="M67.4 316.8h0.3v5.5h-0.3z" fill="#e6e6e6"/><path d="M80.4 316.8h0.8v5.5h-0.8z" fill="#e6e6e6"/><path d="M85.4 316.8h0.9v5.5h-0.9z" fill="#e6e6e6"/><path d="M121.9 316.8h0.8v5.5h-0.8z" fill="#bddbe9"/><path d="M123.6 316.8h0.7v5.5h-0.7z" fill="#e6e6e6"/><path d="M128.4 316.8h1.0v5.5h-1.0z" fill="#e6e6e6"/><path d="M133.7 316.8h0.9v5.5h-0.9z" fill="#dde2e6"/><path d="M27.6 323.3h0.9v5.5h-0.9z" fill="#e6e6e6"/><path d="M48.2 323.3h1.9v5.5h-1.9zM53.7 323.3h0.3v5.5h-0.3z" fill="#bddbe9"/><path d="M58.2 323.3h1.0v5.5h-1.0zM62.9 323.3h1.6v5.5h-1.6z" fill="#bddbe9"/><path d="M62.1 323.3h0.9v5.5h-0.9z" fill="#e6e6e6"/><path d="M77.2 323.3h1.1v5.5h-1.1z" fill="#e6e6e6"/><path d="M86.3 323.3h1.1v5.5h-1.1z" fill="#e6e6e6"/><path d="M90.6 323.3h1.2v5.5h-1.2zM95.5 323.3h0.7v5.5h-0.7z" fill="#bddbe9"/><path d="M102.7 323.3h0.7v5.5h-0.7zM106.5 323.3h0.8v5.5h-0.8zM111.6 323.3h0.7v5.5h-0.7z" fill="#e6e6e6"/><path d="M118.0 323.3h1.0v5.5h-1.0z" fill="#e6e6e6"/><path d="M122.3 323.3h0.9v5.5h-0.9z" fill="#bddbe9"/><path d="M22.9 329.7h0.9v5.5h-0.9zM24.5 329.7h2.7v5.5h-2.7zM27.8 329.7h3.6v5.5h-3.6zM32.3 329.7h3.6v5.5h-3.6zM36.8 329.7h1.6v5.5h-1.6z" fill="#9cc9df"/><path d="M41.6 329.7h5.1v5.5h-5.1zM48.4 329.7h1.9v5.5h-1.9zM51.1 329.7h2.9v5.5h-2.9z" fill="#9cc9df"/><path d="M57.2 329.7h0.9v5.5h-0.9zM58.8 329.7h1.5v5.5h-1.5zM61.2 329.7h4.0v5.5h-4.0zM66.2 329.7h1.5v5.5h-1.5z" fill="#9cc9df"/><path d="M58.1 329.7h0.6v5.5h-0.6z" fill="#e6e6e6"/><path d="M85.4 329.7h5.4v5.5h-5.4zM92.9 329.7h1.9v5.5h-1.9zM95.8 329.7h1.1v5.5h-1.1zM97.6 329.7h1.7v5.5h-1.7z" fill="#9cc9df"/><path d="M96.9 329.7h0.7v5.5h-0.7z" fill="#e6e6e6"/><path d="M116.7 329.7h1.7v5.5h-1.7zM121.4 329.7h3.0v5.5h-3.0z" fill="#9cc9df"/><path d="M130.0 329.7h0.9v5.5h-0.9zM132.4 329.7h1.0v5.5h-1.0zM134.3 329.7h0.7v5.5h-0.7z" fill="#e6e6e6"/><path d="M22.9 336.2h1.2v5.5h-1.2z" fill="#dde2e6"/><path d="M24.7 336.2h2.0v5.5h-2.0z" fill="#e6e6e6"/><path d="M43.4 336.2h1.0v5.5h-1.0zM47.8 336.2h1.2v5.5h-1.2z" fill="#dde2e6"/><path d="M49.0 336.2h1.1v5.5h-1.1zM51.8 336.2h0.7v5.5h-0.7z" fill="#e6e6e6"/><path d="M70.9 336.2h1.1v5.5h-1.1z" fill="#e6e6e6"/><path d="M85.4 336.2h1.7v5.5h-1.7zM88.0 336.2h0.6v5.5h-0.6z" fill="#e6e6e6"/><path d="M110.0 336.2h2.0v5.5h-2.0z" fill="#e6e6e6"/><path d="M120.7 336.2h1.2v5.5h-1.2z" fill="#dde2e6"/><path d="M127.6 336.2h8.8v5.5h-8.8z" fill="#9cc9df"/><path d="M25.3 342.6h0.6v5.5h-0.6zM32.4 342.6h1.1v5.5h-1.1zM35.7 342.6h1.2v5.5h-1.2z" fill="#e6e6e6"/><path d="M43.4 342.6h0.7v5.5h-0.7zM49.0 342.6h1.0v5.5h-1.0zM52.7 342.6h0.8v5.5h-0.8z" fill="#bddbe9"/><path d="M60.4 342.6h2.1v5.5h-2.1zM64.4 342.6h1.6v5.5h-1.6z" fill="#e6e6e6"/><path d="M67.6 342.6h0.1v5.5h-0.1z" fill="#bddbe9"/><path d="M88.7 342.6h1.0v5.5h-1.0zM90.8 342.6h1.6v5.5h-1.6z" fill="#bddbe9"/><path d="M102.7 342.6h0.6v5.5h-0.6zM105.3 342.6h0.7v5.5h-0.7zM106.7 342.6h0.9v5.5h-0.9z" fill="#e6e6e6"/><path d="M111.2 342.6h0.7v5.5h-0.7z" fill="#dde2e6"/><path d="M128.7 342.6h0.7v5.5h-0.7zM131.2 342.6h1.1v5.5h-1.1z" fill="#dde2e6"/><path d="M129.4 342.6h1.0v5.5h-1.0zM134.7 342.6h0.9v5.5h-0.9z" fill="#e6e6e6"/><path d="M36.0 349.1h1.0v5.5h-1.0z" fill="#e6e6e6"/><path d="M37.0 349.1h1.0v5.5h-1.0z" fill="#dde2e6"/><path d="M48.0 349.1h0.9v5.5h-0.9z" fill="#e6e6e6"/><path d="M57.9 349.1h1.1v5.5h-1.1zM59.7 349.1h1.1v5.5h-1.1z" fill="#dde2e6"/><path d="M60.8 349.1h1.8v5.5h-1.8z" fill="#e6e6e6"/><path d="M76.9 349.1h0.7v5.5h-0.7z" fill="#dde2e6"/><path d="M77.6 349.1h1.1v5.5h-1.1z" fill="#e6e6e6"/><path d="M87.8 349.1h0.6v5.5h-0.6z" fill="#e6e6e6"/><path d="M106.8 349.1h0.8v5.5h-0.8z" fill="#bddbe9"/><path d="M25.9 355.6h1.1v5.5h-1.1z" fill="#e6e6e6"/><path d="M28.0 355.6h0.7v5.5h-0.7z" fill="#dde2e6"/><path d="M67.4 355.6h0.3v5.5h-0.3z" fill="#dde2e6"/><path d="M70.9 355.6h11.3v5.5h-11.3z" fill="#9cc9df"/><path d="M110.5 355.6h1.2v5.5h-1.2z" fill="#e6e6e6"/><path d="M117.3 355.6h1.2v5.5h-1.2zM120.5 355.6h0.9v5.5h-0.9z" fill="#e6e6e6"/><path d="M124.1 355.6h0.2v5.5h-0.2z" fill="#dde2e6"/><path d="M29.9 362.0h0.6v5.5h-0.6z" fill="#e6e6e6"/><path d="M41.6 362.0h0.6v5.5h-0.6zM47.8 362.0h1.1v5.5h-1.1z" fill="#e6e6e6"/><path d="M45.6 362.0h0.6v5.5h-0.6zM49.6 362.0h0.7v5.5h-0.7z" fill="#dde2e6"/><path d="M63.5 362.0h0.8v5.5h-0.8z" fill="#dde2e6"/><path d="M73.7 362.0h0.7v5.5h-0.7z" fill="#e6e6e6"/><path d="M102.7 362.0h3.6v5.5h-3.6zM108.3 362.0h4.0v5.5h-4.0z" fill="#9cc9df"/><path d="M115.6 362.0h1.2v5.5h-1.2zM117.9 362.0h1.0v5.5h-1.0z" fill="#e6e6e6"/><path d="M26.6 368.5h0.6v5.5h-0.6z" fill="#e6e6e6"/><path d="M29.6 368.5h1.9v5.5h-1.9z" fill="#9cc9df"/><path d="M42.5 368.5h1.1v5.5h-1.1zM44.3 368.5h0.7v5.5h-0.7zM46.1 368.5h0.7v5.5h-0.7zM48.7 368.5h0.9v5.5h-0.9zM53.6 368.5h0.4v5.5h-0.4z" fill="#9cc9df"/><path d="M45.1 368.5h1.1v5.5h-1.1z" fill="#e6e6e6"/><path d="M58.7 368.5h1.7v5.5h-1.7zM66.7 368.5h0.7v5.5h-0.7z" fill="#9cc9df"/><path d="M67.4 368.5h0.3v5.5h-0.3z" fill="#e6e6e6"/><path d="M70.9 368.5h11.3v5.5h-11.3z" fill="#9cc9df"/><path d="M88.2 368.5h0.7v5.5h-0.7z" fill="#9cc9df"/><path d="M94.8 368.5h0.8v5.5h-0.8z" fill="#e6e6e6"/><path d="M102.7 368.5h9.6v5.5h-9.6z" fill="#9cc9df"/><path d="M127.6 368.5h8.8v5.5h-8.8z" fill="#9cc9df"/><path d="M22.9 374.9h15.4v5.5h-15.4z" fill="#9cc9df"/><path d="M41.6 374.9h0.9v5.5h-0.9zM43.6 374.9h0.7v5.5h-0.7zM53.1 374.9h0.8v5.5h-0.8z" fill="#e6e6e6"/><path d="M64.4 374.9h0.8v5.5h-0.8z" fill="#e6e6e6"/><path d="M79.1 374.9h0.9v5.5h-0.9z" fill="#dde2e6"/><path d="M86.4 374.9h1.1v5.5h-1.1z" fill="#e6e6e6"/><path d="M105.5 374.9h1.1v5.5h-1.1z" fill="#dde2e6"/><path d="M115.6 374.9h1.0v5.5h-1.0z" fill="#e6e6e6"/><path d="M27.3 381.4h1.0v5.5h-1.0zM31.3 381.4h0.6v5.5h-0.6z" fill="#bddbe9"/><path d="M29.3 381.4h1.2v5.5h-1.2z" fill="#e6e6e6"/><path d="M46.6 381.4h1.2v5.5h-1.2z" fill="#bddbe9"/><path d="M51.6 381.4h0.9v5.5h-0.9z" fill="#e6e6e6"/><path d="M61.1 381.4h1.0v5.5h-1.0z" fill="#e6e6e6"/><path d="M62.1 381.4h0.6v5.5h-0.6zM63.5 381.4h0.8v5.5h-0.8zM65.9 381.4h1.1v5.5h-1.1z" fill="#bddbe9"/><path d="M76.9 381.4h1.1v5.5h-1.1z" fill="#e6e6e6"/><path d="M86.5 381.4h0.7v5.5h-0.7z" fill="#bddbe9"/><path d="M87.2 381.4h1.0v5.5h-1.0zM91.4 381.4h0.7v5.5h-0.7zM95.1 381.4h0.7v5.5h-0.7z" fill="#e6e6e6"/><path d="M118.1 381.4h0.8v5.5h-0.8z" fill="#e6e6e6"/><path d="M119.9 381.4h0.7v5.5h-0.7z" fill="#bddbe9"/><path d="M129.6 381.4h1.1v5.5h-1.1z" fill="#dde2e6"/><path d="M22.9 387.8h1.6v5.5h-1.6zM30.1 387.8h0.7v5.5h-0.7zM32.6 387.8h1.0v5.5h-1.0zM37.3 387.8h1.1v5.5h-1.1z" fill="#bddbe9"/><path d="M28.2 387.8h0.8v5.5h-0.8z" fill="#e6e6e6"/><path d="M42.3 387.8h1.0v5.5h-1.0z" fill="#bddbe9"/><path d="M59.1 387.8h1.0v5.5h-1.0z" fill="#e6e6e6"/><path d="M60.1 387.8h0.8v5.5h-0.8zM63.9 387.8h0.9v5.5h-0.9z" fill="#bddbe9"/><path d="M85.4 387.8h1.7v5.5h-1.7zM98.6 387.8h0.9v5.5h-0.9z" fill="#e6e6e6"/><path d="M104.3 387.8h1.0v5.5h-1.0z" fill="#e6e6e6"/><path d="M122.4 387.8h0.8v5.5h-0.8z" fill="#bddbe9"/><path d="M136.1 387.8h0.3v5.5h-0.3z" fill="#e6e6e6"/><path d="M41.6 394.3h1.1v5.5h-1.1z" fill="#e6e6e6"/><path d="M51.0 394.3h0.8v5.5h-0.8z" fill="#bddbe9"/><path d="M60.1 394.3h0.9v5.5h-0.9zM64.4 394.3h1.0v5.5h-1.0z" fill="#bddbe9"/><path d="M71.9 394.3h0.9v5.5h-0.9z" fill="#dde2e6"/><path d="M72.8 394.3h0.9v5.5h-0.9zM75.8 394.3h0.7v5.5h-0.7zM77.4 394.3h1.9v5.5h-1.9z" fill="#e6e6e6"/><path d="M92.9 394.3h1.1v5.5h-1.1zM99.2 394.3h0.3v5.5h-0.3z" fill="#e6e6e6"/><path d="M94.9 394.3h0.7v5.5h-0.7z" fill="#bddbe9"/><path d="M103.5 394.3h1.2v5.5h-1.2z" fill="#e6e6e6"/><path d="M121.9 394.3h0.7v5.5h-0.7z" fill="#bddbe9"/><path d="M129.9 394.3h0.9v5.5h-0.9z" fill="#dde2e6"/><path d="M23.6 400.8h0.9v5.5h-0.9zM37.2 400.8h0.8v5.5h-0.8z" fill="#e6e6e6"/><path d="M49.9 400.8h1.1v5.5h-1.1z" fill="#e6e6e6"/><path d="M52.5 400.8h1.2v5.5h-1.2z" fill="#bddbe9"/><path d="M58.8 400.8h0.6v5.5h-0.6zM63.5 400.8h0.9v5.5h-0.9z" fill="#bddbe9"/><path d="M67.3 400.8h0.3v5.5h-0.3z" fill="#e6e6e6"/><path d="M78.0 400.8h1.0v5.5h-1.0z" fill="#e6e6e6"/><path d="M85.4 400.8h1.1v5.5h-1.1z" fill="#bddbe9"/><path d="M90.3 400.8h1.0v5.5h-1.0z" fill="#e6e6e6"/><path d="M107.8 400.8h1.2v5.5h-1.2zM110.0 400.8h1.2v5.5h-1.2z" fill="#e6e6e6"/><path d="M127.6 400.8h1.0v5.5h-1.0zM131.2 400.8h0.7v5.5h-0.7z" fill="#e6e6e6"/><path d="M22.9 407.2h15.4v5.5h-15.4z" fill="#9cc9df"/><path d="M44.9 407.2h1.8v5.5h-1.8z" fill="#e6e6e6"/><path d="M48.8 407.2h1.1v5.5h-1.1zM53.8 407.2h0.2v5.5h-0.2z" fill="#9cc9df"/><path d="M57.2 407.2h1.2v5.5h-1.2z" fill="#e6e6e6"/><path d="M59.4 407.2h1.9v5.5h-1.9zM66.9 407.2h0.7v5.5h-0.7z" fill="#9cc9df"/><path d="M72.6 407.2h1.2v5.5h-1.2zM79.8 407.2h0.7v5.5h-0.7z" fill="#9cc9df"/><path d="M86.3 407.2h2.1v5.5h-2.1zM94.8 407.2h0.9v5.5h-0.9zM97.9 407.2h1.5v5.5h-1.5z" fill="#9cc9df"/><path d="M106.5 407.2h0.7v5.5h-0.7z" fill="#9cc9df"/><path d="M120.5 407.2h0.9v5.5h-0.9zM123.1 407.2h0.6v5.5h-0.6z" fill="#9cc9df"/><path d="M131.9 407.2h1.4v5.5h-1.4z" fill="#9cc9df"/><path d="M32.5 413.7h1.1v5.5h-1.1z" fill="#e6e6e6"/><path d="M60.1 413.7h1.1v5.5h-1.1zM63.2 413.7h1.4v5.5h-1.4zM65.3 413.7h0.8v5.5h-0.8z" fill="#e6e6e6"/><path d="M97.6 413.7h0.9v5.5h-0.9z" fill="#bddbe9"/><path d="M107.3 413.7h0.7v5.5h-0.7z" fill="#e6e6e6"/><path d="M122.9 413.7h1.0v5.5h-1.0z" fill="#e6e6e6"/><path d="M134.5 413.7h0.8v5.5h-0.8z" fill="#dde2e6"/><path d="M25.5 420.1h0.7v5.5h-0.7zM31.1 420.1h1.0v5.5h-1.0z" fill="#e6e6e6"/><path d="M52.0 420.1h0.7v5.5h-0.7z" fill="#bddbe9"/><path d="M65.2 420.1h1.8v5.5h-1.8z" fill="#bddbe9"/><path d="M73.0 420.1h0.8v5.5h-0.8z" fill="#e6e6e6"/><path d="M81.0 420.1h0.8v5.5h-0.8z" fill="#dde2e6"/><path d="M106.2 420.1h0.6v5.5h-0.6z" fill="#dde2e6"/><path d="M118.5 420.1h1.0v5.5h-1.0z" fill="#e6e6e6"/><path d="M41.6 426.6h1.6v5.5h-1.6z" fill="#bddbe9"/><path d="M61.1 426.6h0.7v5.5h-0.7z" fill="#e6e6e6"/><path d="M76.3 426.6h2.3v5.5h-2.3z" fill="#e6e6e6"/><path d="M87.5 426.6h0.9v5.5h-0.9zM99.2 426.6h0.2v5.5h-0.2z" fill="#bddbe9"/><path d="M98.6 426.6h0.7v5.5h-0.7z" fill="#e6e6e6"/><path d="M103.5 426.6h1.1v5.5h-1.1z" fill="#e6e6e6"/><path d="M122.8 426.6h0.6v5.5h-0.6z" fill="#bddbe9"/><path d="M127.6 426.6h1.1v5.5h-1.1zM135.2 426.6h0.8v5.5h-0.8z" fill="#e6e6e6"/><path d="M25.3 433.0h0.6v5.5h-0.6z" fill="#e6e6e6"/><path d="M47.8 433.0h0.6v5.5h-0.6z" fill="#bddbe9"/><path d="M57.2 433.0h0.8v5.5h-0.8zM61.6 433.0h2.0v5.5h-2.0z" fill="#e6e6e6"/><path d="M70.9 433.0h1.2v5.5h-1.2z" fill="#e6e6e6"/><path d="M86.4 433.0h0.6v5.5h-0.6zM96.5 433.0h0.9v5.5h-0.9z" fill="#e6e6e6"/><path d="M90.2 433.0h0.7v5.5h-0.7zM95.7 433.0h0.8v5.5h-0.8z" fill="#bddbe9"/><path d="M110.8 433.0h0.7v5.5h-0.7z" fill="#e6e6e6"/><path d="M115.6 433.0h1.0v5.5h-1.0z" fill="#e6e6e6"/><path d="M117.8 433.0h0.9v5.5h-0.9z" fill="#bddbe9"/><path d="M129.8 433.0h0.8v5.5h-0.8zM131.4 433.0h0.9v5.5h-0.9zM133.0 433.0h0.7v5.5h-0.7z" fill="#e6e6e6"/><path d="M24.4 439.5h0.9v5.5h-0.9zM32.9 439.5h1.2v5.5h-1.2z" fill="#e6e6e6"/><path d="M27.0 439.5h0.9v5.5h-0.9z" fill="#9cc9df"/><path d="M42.4 439.5h1.0v5.5h-1.0zM44.1 439.5h1.7v5.5h-1.7zM52.3 439.5h1.0v5.5h-1.0z" fill="#9cc9df"/><path d="M57.2 439.5h1.0v5.5h-1.0z" fill="#e6e6e6"/><path d="M61.0 439.5h3.9v5.5h-3.9zM65.5 439.5h0.9v5.5h-0.9z" fill="#9cc9df"/><path d="M87.1 439.5h0.7v5.5h-0.7zM94.7 439.5h0.6v5.5h-0.6zM98.0 439.5h0.6v5.5h-0.6z" fill="#e6e6e6"/><path d="M91.9 439.5h0.8v5.5h-0.8zM96.8 439.5h1.2v5.5h-1.2z" fill="#9cc9df"/><path d="M104.5 439.5h0.7v5.5h-0.7z" fill="#e6e6e6"/><path d="M118.5 439.5h0.6v5.5h-0.6z" fill="#9cc9df"/><path d="M127.6 439.5h0.7v5.5h-0.7zM134.3 439.5h1.1v5.5h-1.1z" fill="#9cc9df"/><path d="M129.3 439.5h1.9v5.5h-1.9z" fill="#e6e6e6"/><path d="M23.8 445.9h0.7v5.5h-0.7z" fill="#e6e6e6"/><path d="M25.3 445.9h0.8v5.5h-0.8zM27.0 445.9h1.6v5.5h-1.6zM35.1 445.9h1.1v5.5h-1.1z" fill="#bddbe9"/><path d="M51.6 445.9h0.8v5.5h-0.8z" fill="#bddbe9"/><path d="M52.5 445.9h1.1v5.5h-1.1z" fill="#e6e6e6"/><path d="M61.7 445.9h2.0v5.5h-2.0zM66.3 445.9h0.9v5.5h-0.9z" fill="#bddbe9"/><path d="M81.4 445.9h0.7v5.5h-0.7z" fill="#bddbe9"/><path d="M87.3 445.9h1.1v5.5h-1.1zM93.8 445.9h1.1v5.5h-1.1z" fill="#e6e6e6"/><path d="M104.2 445.9h1.2v5.5h-1.2z" fill="#bddbe9"/><path d="M108.2 445.9h0.9v5.5h-0.9z" fill="#e6e6e6"/><path d="M118.3 445.9h1.1v5.5h-1.1zM122.7 445.9h0.9v5.5h-0.9z" fill="#e6e6e6"/><path d="M129.4 445.9h1.1v5.5h-1.1zM131.3 445.9h1.6v5.5h-1.6zM133.8 445.9h0.7v5.5h-0.7z" fill="#e6e6e6"/><path d="M25.4 452.4h0.9v5.5h-0.9z" fill="#bddbe9"/><path d="M35.2 452.4h1.0v5.5h-1.0z" fill="#e6e6e6"/><path d="M50.5 452.4h0.6v5.5h-0.6z" fill="#bddbe9"/><path d="M57.2 452.4h0.9v5.5h-0.9zM65.9 452.4h1.1v5.5h-1.1z" fill="#e6e6e6"/><path d="M60.8 452.4h1.1v5.5h-1.1z" fill="#bddbe9"/><path d="M72.1 452.4h1.0v5.5h-1.0z" fill="#dde2e6"/><path d="M81.7 452.4h0.4v5.5h-0.4z" fill="#e6e6e6"/><path d="M94.9 452.4h1.0v5.5h-1.0z" fill="#e6e6e6"/><path d="M108.7 452.4h0.9v5.5h-0.9z" fill="#e6e6e6"/><path d="M117.3 452.4h1.0v5.5h-1.0zM119.4 452.4h0.8v5.5h-0.8z" fill="#bddbe9"/><path d="M131.9 452.4h0.8v5.5h-0.8z" fill="#e6e6e6"/><path d="M29.0 458.9h1.2v5.5h-1.2z" fill="#e6e6e6"/><path d="M43.5 458.9h0.8v5.5h-0.8zM48.7 458.9h0.8v5.5h-0.8z" fill="#bddbe9"/><path d="M63.2 458.9h0.7v5.5h-0.7z" fill="#e6e6e6"/><path d="M74.6 458.9h1.0v5.5h-1.0z" fill="#e6e6e6"/><path d="M76.6 458.9h1.0v5.5h-1.0z" fill="#dde2e6"/><path d="M85.4 458.9h0.7v5.5h-0.7z" fill="#e6e6e6"/><path d="M94.9 458.9h0.8v5.5h-0.8z" fill="#bddbe9"/><path d="M103.4 458.9h0.7v5.5h-0.7z" fill="#e6e6e6"/><path d="M121.9 458.9h1.7v5.5h-1.7z" fill="#e6e6e6"/><path d="M123.6 458.9h0.8v5.5h-0.8z" fill="#bddbe9"/><path d="M23.7 465.3h0.7v5.5h-0.7z" fill="#e6e6e6"/><path d="M25.5 465.3h0.6v5.5h-0.6zM27.9 465.3h1.9v5.5h-1.9zM31.9 465.3h1.2v5.5h-1.2zM36.2 465.3h0.8v5.5h-0.8z" fill="#9cc9df"/><path d="M42.9 465.3h0.7v5.5h-0.7z" fill="#e6e6e6"/><path d="M47.9 465.3h2.8v5.5h-2.8zM53.3 465.3h0.7v5.5h-0.7z" fill="#9cc9df"/><path d="M57.2 465.3h1.5v5.5h-1.5zM64.0 465.3h0.8v5.5h-0.8z" fill="#9cc9df"/><path d="M70.9 465.3h1.7v5.5h-1.7zM75.4 465.3h1.1v5.5h-1.1z" fill="#9cc9df"/><path d="M74.3 465.3h1.1v5.5h-1.1zM78.0 465.3h0.9v5.5h-0.9z" fill="#e6e6e6"/><path d="M87.0 465.3h1.0v5.5h-1.0z" fill="#9cc9df"/><path d="M109.3 465.3h0.7v5.5h-0.7zM112.3 465.3h0.0v5.5h-0.0z" fill="#9cc9df"/><path d="M120.2 465.3h2.6v5.5h-2.6z" fill="#9cc9df"/><path d="M128.2 465.3h1.0v5.5h-1.0z" fill="#9cc9df"/><path d="M23.6 471.8h0.8v5.5h-0.8zM29.0 471.8h0.8v5.5h-0.8z" fill="#e6e6e6"/><path d="M42.3 471.8h0.8v5.5h-0.8zM44.6 471.8h0.7v5.5h-0.7zM46.2 471.8h0.8v5.5h-0.8zM47.6 471.8h0.7v5.5h-0.7zM49.8 471.8h1.7v5.5h-1.7zM52.9 471.8h0.9v5.5h-0.9z" fill="#9cc9df"/><path d="M52.2 471.8h0.7v5.5h-0.7z" fill="#e6e6e6"/><path d="M58.0 471.8h1.0v5.5h-1.0z" fill="#e6e6e6"/><path d="M74.7 471.8h2.0v5.5h-2.0z" fill="#dde2e6"/><path d="M77.6 471.8h0.8v5.5h-0.8z" fill="#e6e6e6"/><path d="M85.4 471.8h6.3v5.5h-6.3zM92.7 471.8h6.8v5.5h-6.8z" fill="#9cc9df"/><path d="M102.7 471.8h0.7v5.5h-0.7zM104.3 471.8h1.2v5.5h-1.2z" fill="#dde2e6"/><path d="M103.4 471.8h0.9v5.5h-0.9z" fill="#e6e6e6"/><path d="M115.6 471.8h1.0v5.5h-1.0zM120.1 471.8h0.8v5.5h-0.8z" fill="#9cc9df"/><path d="M120.9 471.8h1.1v5.5h-1.1z" fill="#e6e6e6"/><path d="M22.9 478.2h0.7v5.5h-0.7z" fill="#e6e6e6"/><path d="M28.1 478.2h1.2v5.5h-1.2zM30.4 478.2h4.5v5.5h-4.5zM35.8 478.2h0.8v5.5h-0.8z" fill="#bddbe9"/><path d="M41.6 478.2h0.8v5.5h-0.8zM45.3 478.2h0.8v5.5h-0.8zM49.7 478.2h1.8v5.5h-1.8z" fill="#bddbe9"/><path d="M47.1 478.2h0.8v5.5h-0.8z" fill="#e6e6e6"/><path d="M58.2 478.2h1.0v5.5h-1.0zM63.5 478.2h1.1v5.5h-1.1z" fill="#bddbe9"/><path d="M85.4 478.2h3.0v5.5h-3.0zM90.2 478.2h2.2v5.5h-2.2zM98.9 478.2h0.6v5.5h-0.6z" fill="#bddbe9"/><path d="M109.9 478.2h0.8v5.5h-0.8z" fill="#e6e6e6"/><path d="M116.3 478.2h1.2v5.5h-1.2zM122.0 478.2h1.2v5.5h-1.2z" fill="#e6e6e6"/><path d="M120.1 478.2h1.0v5.5h-1.0z" fill="#bddbe9"/><path d="M134.2 478.2h1.2v5.5h-1.2z" fill="#bddbe9"/><path d="M24.7 484.7h1.2v5.5h-1.2zM26.8 484.7h0.9v5.5h-0.9zM33.2 484.7h1.1v5.5h-1.1z" fill="#bddbe9"/><path d="M42.6 484.7h0.8v5.5h-0.8zM44.2 484.7h0.8v5.5h-0.8zM45.7 484.7h1.0v5.5h-1.0zM53.3 484.7h0.6v5.5h-0.6z" fill="#bddbe9"/><path d="M57.2 484.7h1.6v5.5h-1.6zM61.2 484.7h0.9v5.5h-0.9zM66.4 484.7h0.9v5.5h-0.9z" fill="#bddbe9"/><path d="M58.8 484.7h1.2v5.5h-1.2zM64.5 484.7h0.8v5.5h-0.8z" fill="#e6e6e6"/><path d="M70.9 484.7h1.0v5.5h-1.0z" fill="#e6e6e6"/><path d="M74.5 484.7h1.0v5.5h-1.0z" fill="#bddbe9"/><path d="M90.3 484.7h0.9v5.5h-0.9zM92.9 484.7h1.2v5.5h-1.2zM98.4 484.7h1.1v5.5h-1.1z" fill="#bddbe9"/><path d="M102.7 484.7h0.7v5.5h-0.7z" fill="#e6e6e6"/><path d="M105.2 484.7h0.9v5.5h-0.9z" fill="#bddbe9"/><path d="M116.7 484.7h1.0v5.5h-1.0zM118.6 484.7h0.6v5.5h-0.6zM122.2 484.7h1.1v5.5h-1.1z" fill="#bddbe9"/><path d="M132.3 484.7h1.0v5.5h-1.0z" fill="#bddbe9"/><path d="M135.0 484.7h0.9v5.5h-0.9z" fill="#e6e6e6"/><path d="M22.9 491.1h1.2v5.5h-1.2zM32.3 491.1h0.7v5.5h-0.7z" fill="#e6e6e6"/><path d="M41.6 491.1h0.9v5.5h-0.9z" fill="#e6e6e6"/><path d="M43.3 491.1h1.6v5.5h-1.6zM47.3 491.1h1.0v5.5h-1.0zM51.5 491.1h1.0v5.5h-1.0z" fill="#bddbe9"/><path d="M58.2 491.1h1.2v5.5h-1.2zM62.9 491.1h0.8v5.5h-0.8z" fill="#bddbe9"/><path d="M77.2 491.1h0.8v5.5h-0.8zM80.1 491.1h0.9v5.5h-0.9zM81.8 491.1h0.4v5.5h-0.4z" fill="#e6e6e6"/><path d="M87.4 491.1h1.0v5.5h-1.0zM92.5 491.1h1.2v5.5h-1.2zM94.7 491.1h0.6v5.5h-0.6zM98.0 491.1h1.4v5.5h-1.4z" fill="#bddbe9"/><path d="M93.7 491.1h1.0v5.5h-1.0z" fill="#e6e6e6"/><path d="M108.6 491.1h0.8v5.5h-0.8z" fill="#bddbe9"/><path d="M116.4 491.1h1.7v5.5h-1.7zM122.0 491.1h0.8v5.5h-0.8z" fill="#e6e6e6"/><path d="M119.1 491.1h1.1v5.5h-1.1zM120.9 491.1h1.2v5.5h-1.2z" fill="#bddbe9"/><path d="M127.6 491.1h1.1v5.5h-1.1zM135.5 491.1h0.9v5.5h-0.9z" fill="#e6e6e6"/><path d="M24.5 497.6h1.1v5.5h-1.1zM37.2 497.6h1.0v5.5h-1.0z" fill="#bddbe9"/><path d="M41.6 497.6h1.2v5.5h-1.2zM51.4 497.6h0.7v5.5h-0.7z" fill="#e6e6e6"/><path d="M45.2 497.6h0.9v5.5h-0.9zM50.5 497.6h0.9v5.5h-0.9z" fill="#bddbe9"/><path d="M65.6 497.6h0.8v5.5h-0.8z" fill="#bddbe9"/><path d="M85.4 497.6h1.1v5.5h-1.1z" fill="#e6e6e6"/><path d="M91.9 497.6h0.9v5.5h-0.9zM94.0 497.6h0.7v5.5h-0.7zM95.3 497.6h1.9v5.5h-1.9zM99.0 497.6h0.5v5.5h-0.5z" fill="#bddbe9"/><path d="M119.3 497.6h0.8v5.5h-0.8z" fill="#e6e6e6"/><path d="M128.6 497.6h0.7v5.5h-0.7z" fill="#e6e6e6"/><path d="M24.1 504.0h0.9v5.5h-0.9zM27.0 504.0h1.8v5.5h-1.8zM30.0 504.0h1.8v5.5h-1.8zM34.6 504.0h3.7v5.5h-3.7z" fill="#9cc9df"/><path d="M41.6 504.0h1.0v5.5h-1.0zM43.5 504.0h1.4v5.5h-1.4zM45.5 504.0h1.0v5.5h-1.0zM47.3 504.0h0.7v5.5h-0.7zM49.2 504.0h3.8v5.5h-3.8z" fill="#9cc9df"/><path d="M57.2 504.0h0.9v5.5h-0.9zM59.0 504.0h1.0v5.5h-1.0zM63.3 504.0h0.8v5.5h-0.8zM64.9 504.0h1.0v5.5h-1.0zM67.0 504.0h0.7v5.5h-0.7z" fill="#9cc9df"/><path d="M78.0 504.0h0.7v5.5h-0.7zM79.8 504.0h0.9v5.5h-0.9z" fill="#9cc9df"/><path d="M85.4 504.0h8.2v5.5h-8.2zM94.8 504.0h4.7v5.5h-4.7z" fill="#9cc9df"/><path d="M105.8 504.0h0.9v5.5h-0.9zM110.5 504.0h1.1v5.5h-1.1zM112.3 504.0h0.0v5.5h-0.0z" fill="#9cc9df"/><path d="M116.7 504.0h3.1v5.5h-3.1zM120.7 504.0h3.2v5.5h-3.2z" fill="#9cc9df"/><path d="M127.6 504.0h0.9v5.5h-0.9z" fill="#9cc9df"/><path d="M132.8 504.0h1.1v5.5h-1.1z" fill="#e6e6e6"/><path d="M24.6 510.5h1.1v5.5h-1.1z" fill="#bddbe9"/><path d="M26.6 510.5h1.0v5.5h-1.0z" fill="#e6e6e6"/><path d="M41.6 510.5h1.9v5.5h-1.9zM46.0 510.5h1.1v5.5h-1.1zM47.8 510.5h6.1v5.5h-6.1z" fill="#bddbe9"/><path d="M57.9 510.5h1.1v5.5h-1.1zM60.0 510.5h0.6v5.5h-0.6z" fill="#bddbe9"/><path d="M72.1 510.5h1.5v5.5h-1.5zM75.5 510.5h1.0v5.5h-1.0zM79.4 510.5h1.0v5.5h-1.0z" fill="#bddbe9"/><path d="M73.6 510.5h1.2v5.5h-1.2z" fill="#e6e6e6"/><path d="M86.5 510.5h1.1v5.5h-1.1zM88.4 510.5h1.0v5.5h-1.0zM90.3 510.5h1.9v5.5h-1.9zM92.9 510.5h4.2v5.5h-4.2zM97.9 510.5h1.4v5.5h-1.4z" fill="#bddbe9"/><path d="M99.3 510.5h0.2v5.5h-0.2z" fill="#e6e6e6"/><path d="M108.7 510.5h0.6v5.5h-0.6zM110.9 510.5h0.7v5.5h-0.7z" fill="#bddbe9"/><path d="M109.3 510.5h0.8v5.5h-0.8z" fill="#e6e6e6"/><path d="M115.6 510.5h2.3v5.5h-2.3zM118.8 510.5h1.1v5.5h-1.1zM124.1 510.5h0.3v5.5h-0.3z" fill="#bddbe9"/><path d="M121.9 510.5h1.0v5.5h-1.0z" fill="#e6e6e6"/><path d="M130.3 510.5h1.0v5.5h-1.0z" fill="#e6e6e6"/><path d="M133.3 510.5h0.7v5.5h-0.7z" fill="#bddbe9"/><path d="M45.0 517.0h0.7v5.5h-0.7z" fill="#e6e6e6"/><path d="M47.6 517.0h0.9v5.5h-0.9zM52.1 517.0h1.2v5.5h-1.2z" fill="#bddbe9"/><path d="M65.0 517.0h1.0v5.5h-1.0z" fill="#e6e6e6"/><path d="M85.4 517.0h0.8v5.5h-0.8zM91.8 517.0h0.9v5.5h-0.9zM93.7 517.0h2.4v5.5h-2.4z" fill="#bddbe9"/><path d="M89.6 517.0h1.2v5.5h-1.2z" fill="#e6e6e6"/><path d="M102.7 517.0h1.2v5.5h-1.2zM112.0 517.0h0.3v5.5h-0.3z" fill="#e6e6e6"/><path d="M127.6 517.0h0.9v5.5h-0.9z" fill="#e6e6e6"/><path d="M128.5 517.0h2.0v5.5h-2.0zM131.2 517.0h1.0v5.5h-1.0zM133.9 517.0h1.2v5.5h-1.2zM135.9 517.0h0.5v5.5h-0.5z" fill="#bddbe9"/><path d="M27.7 523.4h2.0v5.5h-2.0zM30.4 523.4h1.1v5.5h-1.1z" fill="#e6e6e6"/><path d="M36.0 523.4h0.7v5.5h-0.7z" fill="#bddbe9"/><path d="M45.6 523.4h0.7v5.5h-0.7z" fill="#bddbe9"/><path d="M62.1 523.4h1.1v5.5h-1.1z" fill="#bddbe9"/><path d="M74.2 523.4h0.6v5.5h-0.6z" fill="#e6e6e6"/><path d="M87.9 523.4h2.0v5.5h-2.0zM94.7 523.4h1.9v5.5h-1.9zM98.4 523.4h1.0v5.5h-1.0z" fill="#bddbe9"/><path d="M104.9 523.4h0.8v5.5h-0.8zM106.5 523.4h1.0v5.5h-1.0z" fill="#bddbe9"/><path d="M119.2 523.4h0.7v5.5h-0.7z" fill="#e6e6e6"/><path d="M122.7 523.4h1.1v5.5h-1.1z" fill="#bddbe9"/><path d="M127.6 523.4h1.1v5.5h-1.1z" fill="#bddbe9"/><path d="M24.1 529.9h1.1v5.5h-1.1z" fill="#dde2e6"/><path d="M25.9 529.9h1.1v5.5h-1.1zM32.8 529.9h0.7v5.5h-0.7z" fill="#e6e6e6"/><path d="M42.7 529.9h1.1v5.5h-1.1zM47.5 529.9h0.7v5.5h-0.7z" fill="#e6e6e6"/><path d="M52.4 529.9h0.7v5.5h-0.7z" fill="#dde2e6"/><path d="M58.3 529.9h0.8v5.5h-0.8z" fill="#e6e6e6"/><path d="M62.5 529.9h1.0v5.5h-1.0z" fill="#dde2e6"/><path d="M72.5 529.9h0.9v5.5h-0.9zM81.0 529.9h0.9v5.5h-0.9z" fill="#dde2e6"/><path d="M75.6 529.9h1.2v5.5h-1.2zM79.9 529.9h1.1v5.5h-1.1z" fill="#e6e6e6"/><path d="M88.0 529.9h1.1v5.5h-1.1z" fill="#e6e6e6"/><path d="M102.7 529.9h0.9v5.5h-0.9zM104.5 529.9h2.1v5.5h-2.1zM108.8 529.9h0.8v5.5h-0.8zM111.9 529.9h0.5v5.5h-0.5z" fill="#bddbe9"/><path d="M107.7 529.9h1.1v5.5h-1.1z" fill="#e6e6e6"/><path d="M131.5 529.9h4.9v5.5h-4.9z" fill="#bddbe9"/><path d="M26.6 536.3h0.8v5.5h-0.8z" fill="#e6e6e6"/><path d="M29.5 536.3h0.9v5.5h-0.9z" fill="#bddbe9"/><path d="M41.6 536.3h0.8v5.5h-0.8zM43.5 536.3h1.8v5.5h-1.8z" fill="#bddbe9"/><path d="M48.3 536.3h0.9v5.5h-0.9z" fill="#e6e6e6"/><path d="M63.0 536.3h0.8v5.5h-0.8z" fill="#e6e6e6"/><path d="M64.6 536.3h0.8v5.5h-0.8zM67.1 536.3h0.5v5.5h-0.5z" fill="#bddbe9"/><path d="M72.9 536.3h0.9v5.5h-0.9z" fill="#e6e6e6"/><path d="M85.4 536.3h0.7v5.5h-0.7z" fill="#e6e6e6"/><path d="M117.0 536.3h1.0v5.5h-1.0z" fill="#bddbe9"/><path d="M121.8 536.3h1.2v5.5h-1.2z" fill="#e6e6e6"/><path d="M133.2 536.3h1.1v5.5h-1.1z" fill="#bddbe9"/><path d="M32.5 542.8h1.7v5.5h-1.7z" fill="#bddbe9"/><path d="M42.8 542.8h1.1v5.5h-1.1z" fill="#e6e6e6"/><path d="M45.8 542.8h0.9v5.5h-0.9z" fill="#bddbe9"/><path d="M60.7 542.8h0.8v5.5h-0.8zM65.8 542.8h1.0v5.5h-1.0z" fill="#bddbe9"/><path d="M72.7 542.8h0.7v5.5h-0.7zM78.5 542.8h0.9v5.5h-0.9z" fill="#dde2e6"/><path d="M85.4 542.8h0.6v5.5h-0.6zM90.0 542.8h0.7v5.5h-0.7zM96.5 542.8h1.2v5.5h-1.2z" fill="#bddbe9"/><path d="M86.1 542.8h1.1v5.5h-1.1z" fill="#e6e6e6"/><path d="M108.1 542.8h0.6v5.5h-0.6z" fill="#e6e6e6"/><path d="M110.6 542.8h0.6v5.5h-0.6zM111.8 542.8h0.5v5.5h-0.5z" fill="#bddbe9"/><path d="M119.5 542.8h1.2v5.5h-1.2z" fill="#e6e6e6"/><path d="M124.3 542.8h0.1v5.5h-0.1z" fill="#bddbe9"/><path d="M129.0 542.8h0.9v5.5h-0.9zM130.8 542.8h1.0v5.5h-1.0z" fill="#bddbe9"/><path d="M131.8 542.8h0.6v5.5h-0.6z" fill="#e6e6e6"/><path d="M26.0 549.2h0.9v5.5h-0.9zM28.2 549.2h0.8v5.5h-0.8zM35.1 549.2h1.1v5.5h-1.1z" fill="#e6e6e6"/><path d="M33.1 549.2h1.1v5.5h-1.1z" fill="#bddbe9"/><path d="M43.6 549.2h0.6v5.5h-0.6zM52.1 549.2h1.9v5.5h-1.9z" fill="#e6e6e6"/><path d="M49.4 549.2h0.7v5.5h-0.7z" fill="#bddbe9"/><path d="M58.0 549.2h0.8v5.5h-0.8z" fill="#e6e6e6"/><path d="M63.8 549.2h1.0v5.5h-1.0z" fill="#bddbe9"/><path d="M86.2 549.2h1.2v5.5h-1.2z" fill="#e6e6e6"/><path d="M105.1 549.2h0.8v5.5h-0.8z" fill="#e6e6e6"/><path d="M120.6 549.2h1.2v5.5h-1.2z" fill="#e6e6e6"/><path d="M131.9 549.2h0.8v5.5h-0.8z" fill="#e6e6e6"/><path d="M22.9 555.7h0.6v5.5h-0.6zM25.1 555.7h1.4v5.5h-1.4zM27.3 555.7h0.8v5.5h-0.8zM32.5 555.7h1.0v5.5h-1.0zM34.2 555.7h2.6v5.5h-2.6z" fill="#9cc9df"/><path d="M33.5 555.7h0.7v5.5h-0.7z" fill="#e6e6e6"/><path d="M41.6 555.7h0.9v5.5h-0.9zM43.4 555.7h3.5v5.5h-3.5zM47.7 555.7h3.4v5.5h-3.4zM52.8 555.7h0.7v5.5h-0.7z" fill="#9cc9df"/><path d="M57.2 555.7h0.9v5.5h-0.9z" fill="#e6e6e6"/><path d="M58.1 555.7h1.5v5.5h-1.5zM60.7 555.7h6.9v5.5h-6.9z" fill="#9cc9df"/><path d="M70.9 555.7h1.0v5.5h-1.0zM79.3 555.7h0.9v5.5h-0.9zM81.4 555.7h0.8v5.5h-0.8z" fill="#9cc9df"/><path d="M85.4 555.7h2.4v5.5h-2.4zM88.5 555.7h5.9v5.5h-5.9zM95.3 555.7h0.6v5.5h-0.6zM96.9 555.7h1.2v5.5h-1.2zM98.9 555.7h0.6v5.5h-0.6z" fill="#9cc9df"/><path d="M104.6 555.7h0.7v5.5h-0.7zM106.7 555.7h1.1v5.5h-1.1zM108.9 555.7h1.8v5.5h-1.8z" fill="#9cc9df"/><path d="M110.6 555.7h1.1v5.5h-1.1z" fill="#e6e6e6"/><path d="M115.6 555.7h1.7v5.5h-1.7zM120.1 555.7h1.9v5.5h-1.9zM123.0 555.7h1.4v5.5h-1.4z" fill="#9cc9df"/><path d="M127.6 555.7h8.8v5.5h-8.8z" fill="#9cc9df"/><path d="M37.4 562.2h0.8v5.5h-0.8z" fill="#bddbe9"/><path d="M43.8 562.2h0.6v5.5h-0.6zM45.3 562.2h0.8v5.5h-0.8z" fill="#e6e6e6"/><path d="M50.6 562.2h1.7v5.5h-1.7z" fill="#bddbe9"/><path d="M58.3 562.2h1.1v5.5h-1.1zM61.4 562.2h1.1v5.5h-1.1zM65.9 562.2h1.3v5.5h-1.3z" fill="#bddbe9"/><path d="M76.6 562.2h1.2v5.5h-1.2z" fill="#e6e6e6"/><path d="M88.2 562.2h1.0v5.5h-1.0z" fill="#bddbe9"/><path d="M120.6 562.2h1.2v5.5h-1.2z" fill="#e6e6e6"/><path d="M32.8 568.6h0.6v5.5h-0.6zM37.2 568.6h1.1v5.5h-1.1z" fill="#bddbe9"/><path d="M48.0 568.6h1.0v5.5h-1.0zM50.6 568.6h0.7v5.5h-0.7zM53.4 568.6h0.6v5.5h-0.6z" fill="#bddbe9"/><path d="M61.0 568.6h1.5v5.5h-1.5z" fill="#bddbe9"/><path d="M73.8 568.6h1.1v5.5h-1.1z" fill="#e6e6e6"/><path d="M92.9 568.6h0.9v5.5h-0.9z" fill="#e6e6e6"/><path d="M97.9 568.6h1.1v5.5h-1.1z" fill="#bddbe9"/><path d="M105.7 568.6h1.1v5.5h-1.1z" fill="#e6e6e6"/><path d="M115.6 568.6h1.2v5.5h-1.2zM119.0 568.6h0.8v5.5h-0.8zM123.5 568.6h0.9v5.5h-0.9z" fill="#e6e6e6"/><path d="M116.7 568.6h0.7v5.5h-0.7z" fill="#bddbe9"/><path d="M129.4 568.6h0.7v5.5h-0.7zM134.5 568.6h1.8v5.5h-1.8z" fill="#e6e6e6"/><path d="M26.7 575.1h0.6v5.5h-0.6zM28.4 575.1h0.9v5.5h-0.9z" fill="#e6e6e6"/><path d="M32.1 575.1h0.9v5.5h-0.9z" fill="#bddbe9"/><path d="M41.6 575.1h0.8v5.5h-0.8z" fill="#bddbe9"/><path d="M44.1 575.1h1.0v5.5h-1.0z" fill="#e6e6e6"/><path d="M60.0 575.1h2.0v5.5h-2.0z" fill="#e6e6e6"/><path d="M71.9 575.1h0.8v5.5h-0.8z" fill="#dde2e6"/><path d="M85.4 575.1h1.0v5.5h-1.0zM89.2 575.1h1.1v5.5h-1.1z" fill="#e6e6e6"/><path d="M112.2 575.1h0.1v5.5h-0.1z" fill="#bddbe9"/><path d="M115.6 575.1h0.7v5.5h-0.7zM117.0 575.1h1.2v5.5h-1.2zM121.5 575.1h1.0v5.5h-1.0z" fill="#bddbe9"/><path d="M23.6 581.5h1.2v5.5h-1.2zM34.4 581.5h1.1v5.5h-1.1z" fill="#e6e6e6"/><path d="M44.2 581.5h1.0v5.5h-1.0z" fill="#e6e6e6"/><path d="M60.9 581.5h0.7v5.5h-0.7zM65.3 581.5h1.0v5.5h-1.0z" fill="#bddbe9"/><path d="M63.6 581.5h0.8v5.5h-0.8z" fill="#e6e6e6"/><path d="M88.2 581.5h0.6v5.5h-0.6zM95.2 581.5h0.8v5.5h-0.8zM96.9 581.5h0.6v5.5h-0.6z" fill="#e6e6e6"/><path d="M108.4 581.5h0.7v5.5h-0.7z" fill="#e6e6e6"/><path d="M122.9 581.5h0.9v5.5h-0.9z" fill="#e6e6e6"/><path d="M23.9 588.0h1.1v5.5h-1.1z" fill="#e6e6e6"/><path d="M87.9 588.0h1.2v5.5h-1.2z" fill="#e6e6e6"/><path d="M106.6 588.0h1.0v5.5h-1.0z" fill="#dde2e6"/><path d="M108.9 588.0h1.7v5.5h-1.7z" fill="#e6e6e6"/><path d="M123.6 588.0h0.8v5.5h-0.8z" fill="#e6e6e6"/><path d="M130.7 588.0h0.7v5.5h-0.7zM133.3 588.0h0.9v5.5h-0.9z" fill="#dde2e6"/><path d="M22.9 594.4h0.7v5.5h-0.7z" fill="#dde2e6"/><path d="M31.6 594.4h1.4v5.5h-1.4z" fill="#e6e6e6"/><path d="M45.1 594.4h1.2v5.5h-1.2zM50.2 594.4h0.8v5.5h-0.8z" fill="#bddbe9"/><path d="M57.2 594.4h0.6v5.5h-0.6zM59.5 594.4h1.1v5.5h-1.1z" fill="#e6e6e6"/><path d="M72.0 594.4h0.7v5.5h-0.7zM73.8 594.4h1.1v5.5h-1.1zM78.4 594.4h0.7v5.5h-0.7z" fill="#e6e6e6"/><path d="M93.3 594.4h0.9v5.5h-0.9z" fill="#e6e6e6"/><path d="M95.9 594.4h1.1v5.5h-1.1z" fill="#bddbe9"/><path d="M103.4 594.4h0.8v5.5h-0.8z" fill="#e6e6e6"/><path d="M109.2 594.4h1.1v5.5h-1.1z" fill="#dde2e6"/><path d="M130.3 594.4h0.9v5.5h-0.9z" fill="#e6e6e6"/><path d="M36.9 600.9h0.8v5.5h-0.8z" fill="#e6e6e6"/><path d="M45.2 600.9h1.1v5.5h-1.1z" fill="#bddbe9"/><path d="M52.3 600.9h1.1v5.5h-1.1z" fill="#e6e6e6"/><path d="M60.7 600.9h0.8v5.5h-0.8z" fill="#bddbe9"/><path d="M61.6 600.9h0.7v5.5h-0.7z" fill="#e6e6e6"/><path d="M79.8 600.9h0.6v5.5h-0.6z" fill="#e6e6e6"/><path d="M89.1 600.9h0.7v5.5h-0.7zM92.5 600.9h1.1v5.5h-1.1zM96.5 600.9h1.1v5.5h-1.1z" fill="#e6e6e6"/><path d="M104.4 600.9h0.6v5.5h-0.6z" fill="#e6e6e6"/><path d="M116.3 600.9h0.6v5.5h-0.6z" fill="#bddbe9"/><path d="M118.4 600.9h0.7v5.5h-0.7z" fill="#e6e6e6"/><path d="M135.6 600.9h0.8v5.5h-0.8z" fill="#e6e6e6"/><path d="M26.0 607.3h0.6v5.5h-0.6zM29.3 607.3h2.8v5.5h-2.8zM33.8 607.3h0.6v5.5h-0.6zM35.4 607.3h2.9v5.5h-2.9z" fill="#9cc9df"/><path d="M32.1 607.3h0.7v5.5h-0.7z" fill="#e6e6e6"/><path d="M42.3 607.3h0.8v5.5h-0.8zM45.2 607.3h0.8v5.5h-0.8zM47.3 607.3h1.0v5.5h-1.0zM49.0 607.3h1.7v5.5h-1.7zM52.5 607.3h0.9v5.5h-0.9z" fill="#9cc9df"/><path d="M57.2 607.3h2.2v5.5h-2.2zM60.4 607.3h1.8v5.5h-1.8zM65.0 607.3h1.9v5.5h-1.9z" fill="#9cc9df"/><path d="M62.2 607.3h0.7v5.5h-0.7z" fill="#e6e6e6"/><path d="M73.0 607.3h0.7v5.5h-0.7zM80.7 607.3h0.9v5.5h-0.9z" fill="#9cc9df"/><path d="M78.2 607.3h0.6v5.5h-0.6z" fill="#e6e6e6"/><path d="M87.5 607.3h2.3v5.5h-2.3zM91.3 607.3h0.7v5.5h-0.7zM93.2 607.3h1.7v5.5h-1.7zM96.0 607.3h0.7v5.5h-0.7zM99.1 607.3h0.4v5.5h-0.4z" fill="#9cc9df"/><path d="M104.3 607.3h0.7v5.5h-0.7zM108.5 607.3h2.5v5.5h-2.5z" fill="#9cc9df"/><path d="M107.4 607.3h1.1v5.5h-1.1z" fill="#e6e6e6"/><path d="M116.5 607.3h2.0v5.5h-2.0zM120.8 607.3h0.7v5.5h-0.7zM122.6 607.3h1.1v5.5h-1.1z" fill="#9cc9df"/><path d="M118.5 607.3h1.1v5.5h-1.1z" fill="#e6e6e6"/><path d="M48.8 613.8h1.6v5.5h-1.6zM51.4 613.8h1.1v5.5h-1.1z" fill="#e6e6e6"/><path d="M77.9 613.8h0.6v5.5h-0.6z" fill="#dde2e6"/><path d="M90.3 613.8h0.6v5.5h-0.6zM94.3 613.8h0.9v5.5h-0.9z" fill="#e6e6e6"/><path d="M115.6 613.8h1.0v5.5h-1.0zM117.2 613.8h0.7v5.5h-0.7zM123.8 613.8h0.5v5.5h-0.5z" fill="#bddbe9"/><path d="M121.8 613.8h1.1v5.5h-1.1z" fill="#e6e6e6"/><path d="M132.1 613.8h0.7v5.5h-0.7zM135.7 613.8h0.7v5.5h-0.7z" fill="#bddbe9"/><path d="M134.7 613.8h1.1v5.5h-1.1z" fill="#e6e6e6"/><path d="M24.4 620.3h0.7v5.5h-0.7zM29.0 620.3h1.4v5.5h-1.4zM34.1 620.3h1.0v5.5h-1.0zM38.0 620.3h0.3v5.5h-0.3z" fill="#e6e6e6"/><path d="M63.5 620.3h0.7v5.5h-0.7z" fill="#bddbe9"/><path d="M66.2 620.3h0.6v5.5h-0.6z" fill="#e6e6e6"/><path d="M88.8 620.3h2.0v5.5h-2.0zM97.3 620.3h0.8v5.5h-0.8z" fill="#e6e6e6"/><path d="M109.6 620.3h0.8v5.5h-0.8z" fill="#e6e6e6"/><path d="M122.2 620.3h0.6v5.5h-0.6z" fill="#e6e6e6"/><path d="M25.2 626.7h0.8v5.5h-0.8zM32.6 626.7h1.1v5.5h-1.1z" fill="#e6e6e6"/><path d="M43.2 626.7h1.1v5.5h-1.1zM47.8 626.7h0.7v5.5h-0.7zM50.2 626.7h1.0v5.5h-1.0z" fill="#e6e6e6"/><path d="M62.1 626.7h0.8v5.5h-0.8zM66.8 626.7h0.9v5.5h-0.9z" fill="#bddbe9"/><path d="M106.1 626.7h1.0v5.5h-1.0z" fill="#dde2e6"/><path d="M128.7 626.7h0.9v5.5h-0.9z" fill="#e6e6e6"/><path d="M32.0 633.2h1.1v5.5h-1.1zM34.1 633.2h1.0v5.5h-1.0z" fill="#e6e6e6"/><path d="M47.7 633.2h0.7v5.5h-0.7z" fill="#e6e6e6"/><path d="M70.9 633.2h0.7v5.5h-0.7zM78.1 633.2h0.7v5.5h-0.7z" fill="#dde2e6"/><path d="M88.5 633.2h0.9v5.5h-0.9zM95.5 633.2h0.8v5.5h-0.8zM99.3 633.2h0.2v5.5h-0.2z" fill="#e6e6e6"/><path d="M91.8 633.2h0.6v5.5h-0.6z" fill="#bddbe9"/><path d="M103.7 633.2h0.6v5.5h-0.6zM111.6 633.2h0.7v5.5h-0.7z" fill="#e6e6e6"/><path d="M121.6 633.2h0.8v5.5h-0.8z" fill="#e6e6e6"/><path d="M25.2 639.6h1.6v5.5h-1.6zM31.8 639.6h1.0v5.5h-1.0zM33.5 639.6h0.8v5.5h-0.8z" fill="#9cc9df"/><path d="M28.5 639.6h0.6v5.5h-0.6z" fill="#e6e6e6"/><path d="M41.6 639.6h0.8v5.5h-0.8z" fill="#9cc9df"/><path d="M57.9 639.6h0.9v5.5h-0.9z" fill="#e6e6e6"/><path d="M60.0 639.6h1.1v5.5h-1.1zM63.1 639.6h0.7v5.5h-0.7z" fill="#9cc9df"/><path d="M87.3 639.6h1.0v5.5h-1.0z" fill="#e6e6e6"/><path d="M89.8 639.6h0.9v5.5h-0.9zM96.7 639.6h1.0v5.5h-1.0z" fill="#9cc9df"/><path d="M102.7 639.6h4.8v5.5h-4.8zM109.2 639.6h0.9v5.5h-0.9zM112.1 639.6h0.2v5.5h-0.2z" fill="#9cc9df"/><path d="M117.1 639.6h0.8v5.5h-0.8zM118.7 639.6h0.7v5.5h-0.7zM120.6 639.6h0.6v5.5h-0.6zM123.8 639.6h0.6v5.5h-0.6z" fill="#9cc9df"/><path d="M129.5 639.6h0.6v5.5h-0.6zM134.9 639.6h0.6v5.5h-0.6z" fill="#e6e6e6"/><path d="M133.3 639.6h0.7v5.5h-0.7z" fill="#9cc9df"/><rect x="22.65" y="290.85" width="15.93" height="44.49" fill="none" stroke="#b4b4b4" stroke-width="0.8"/><rect x="22.65" y="336.04" width="15.93" height="38.04" fill="none" stroke="#b4b4b4" stroke-width="0.8"/><rect x="22.65" y="374.78" width="15.93" height="38.04" fill="none" stroke="#b4b4b4" stroke-width="0.8"/><rect x="22.65" y="413.51" width="15.93" height="31.58" fill="none" stroke="#b4b4b4" stroke-width="0.8"/><rect x="22.65" y="445.79" width="15.93" height="25.12" fill="none" stroke="#b4b4b4" stroke-width="0.8"/><rect x="22.65" y="471.62" width="15.93" height="5.76" fill="none" stroke="#b4b4b4" stroke-width="0.8"/><rect x="22.65" y="478.07" width="15.93" height="31.58" fill="none" stroke="#b4b4b4" stroke-width="0.8"/><rect x="22.65" y="510.35" width="15.93" height="50.95" fill="none" stroke="#b4b4b4" stroke-width="0.8"/><rect x="22.65" y="562.00" width="15.93" height="50.95" fill="none" stroke="#b4b4b4" stroke-width="0.8"/><rect x="22.65" y="613.65" width="15.93" height="31.58" fill="none" stroke="#b4b4b4" stroke-width="0.8"/><rect x="22.30" y="335.09" width="16.63" height="1.2" fill="#999"/><rect x="22.30" y="373.83" width="16.63" height="1.2" fill="#999"/><rect x="22.30" y="412.56" width="16.63" height="1.2" fill="#999"/><rect x="22.30" y="444.84" width="16.63" height="1.2" fill="#999"/><rect x="22.30" y="470.67" width="16.63" height="1.2" fill="#999"/><rect x="22.30" y="477.12" width="16.63" height="1.2" fill="#999"/><rect x="22.30" y="509.40" width="16.63" height="1.2" fill="#999"/><rect x="22.30" y="561.05" width="16.63" height="1.2" fill="#999"/><rect x="22.30" y="612.70" width="16.63" height="1.2" fill="#999"/><rect x="41.33" y="290.85" width="12.88" height="44.49" fill="none" stroke="#b4b4b4" stroke-width="0.8"/><rect x="41.33" y="336.04" width="12.88" height="38.04" fill="none" stroke="#b4b4b4" stroke-width="0.8"/><rect x="41.33" y="374.78" width="12.88" height="38.04" fill="none" stroke="#b4b4b4" stroke-width="0.8"/><rect x="41.33" y="413.51" width="12.88" height="31.58" fill="none" stroke="#b4b4b4" stroke-width="0.8"/><rect x="41.33" y="445.79" width="12.88" height="25.12" fill="none" stroke="#b4b4b4" stroke-width="0.8"/><rect x="41.33" y="471.62" width="12.88" height="5.76" fill="none" stroke="#b4b4b4" stroke-width="0.8"/><rect x="41.33" y="478.07" width="12.88" height="31.58" fill="none" stroke="#b4b4b4" stroke-width="0.8"/><rect x="41.33" y="510.35" width="12.88" height="50.95" fill="none" stroke="#b4b4b4" stroke-width="0.8"/><rect x="41.33" y="562.00" width="12.88" height="50.95" fill="none" stroke="#b4b4b4" stroke-width="0.8"/><rect x="41.33" y="613.65" width="12.88" height="31.58" fill="none" stroke="#b4b4b4" stroke-width="0.8"/><rect x="40.98" y="335.09" width="13.58" height="1.2" fill="#999"/><rect x="40.98" y="373.83" width="13.58" height="1.2" fill="#999"/><rect x="40.98" y="412.56" width="13.58" height="1.2" fill="#999"/><rect x="40.98" y="444.84" width="13.58" height="1.2" fill="#999"/><rect x="40.98" y="470.67" width="13.58" height="1.2" fill="#999"/><rect x="40.98" y="477.12" width="13.58" height="1.2" fill="#999"/><rect x="40.98" y="509.40" width="13.58" height="1.2" fill="#999"/><rect x="40.98" y="561.05" width="13.58" height="1.2" fill="#999"/><rect x="40.98" y="612.70" width="13.58" height="1.2" fill="#999"/><rect x="56.97" y="290.85" width="10.94" height="44.49" fill="none" stroke="#b4b4b4" stroke-width="0.8"/><rect x="56.97" y="336.04" width="10.94" height="38.04" fill="none" stroke="#b4b4b4" stroke-width="0.8"/><rect x="56.97" y="374.78" width="10.94" height="38.04" fill="none" stroke="#b4b4b4" stroke-width="0.8"/><rect x="56.97" y="413.51" width="10.94" height="31.58" fill="none" stroke="#b4b4b4" stroke-width="0.8"/><rect x="56.97" y="445.79" width="10.94" height="25.12" fill="none" stroke="#b4b4b4" stroke-width="0.8"/><rect x="56.97" y="471.62" width="10.94" height="5.76" fill="none" stroke="#b4b4b4" stroke-width="0.8"/><rect x="56.97" y="478.07" width="10.94" height="31.58" fill="none" stroke="#b4b4b4" stroke-width="0.8"/><rect x="56.97" y="510.35" width="10.94" height="50.95" fill="none" stroke="#b4b4b4" stroke-width="0.8"/><rect x="56.97" y="562.00" width="10.94" height="50.95" fill="none" stroke="#b4b4b4" stroke-width="0.8"/><rect x="56.97" y="613.65" width="10.94" height="31.58" fill="none" stroke="#b4b4b4" stroke-width="0.8"/><rect x="56.62" y="335.09" width="11.64" height="1.2" fill="#999"/><rect x="56.62" y="373.83" width="11.64" height="1.2" fill="#999"/><rect x="56.62" y="412.56" width="11.64" height="1.2" fill="#999"/><rect x="56.62" y="444.84" width="11.64" height="1.2" fill="#999"/><rect x="56.62" y="470.67" width="11.64" height="1.2" fill="#999"/><rect x="56.62" y="477.12" width="11.64" height="1.2" fill="#999"/><rect x="56.62" y="509.40" width="11.64" height="1.2" fill="#999"/><rect x="56.62" y="561.05" width="11.64" height="1.2" fill="#999"/><rect x="56.62" y="612.70" width="11.64" height="1.2" fill="#999"/><rect x="70.66" y="290.85" width="11.77" height="44.49" fill="none" stroke="#b4b4b4" stroke-width="0.8"/><rect x="70.66" y="336.04" width="11.77" height="38.04" fill="none" stroke="#b4b4b4" stroke-width="0.8"/><rect x="70.66" y="374.78" width="11.77" height="38.04" fill="none" stroke="#b4b4b4" stroke-width="0.8"/><rect x="70.66" y="413.51" width="11.77" height="31.58" fill="none" stroke="#b4b4b4" stroke-width="0.8"/><rect x="70.66" y="445.79" width="11.77" height="25.12" fill="none" stroke="#b4b4b4" stroke-width="0.8"/><rect x="70.66" y="471.62" width="11.77" height="5.76" fill="none" stroke="#b4b4b4" stroke-width="0.8"/><rect x="70.66" y="478.07" width="11.77" height="31.58" fill="none" stroke="#b4b4b4" stroke-width="0.8"/><rect x="70.66" y="510.35" width="11.77" height="50.95" fill="none" stroke="#b4b4b4" stroke-width="0.8"/><rect x="70.66" y="562.00" width="11.77" height="50.95" fill="none" stroke="#b4b4b4" stroke-width="0.8"/><rect x="70.66" y="613.65" width="11.77" height="31.58" fill="none" stroke="#b4b4b4" stroke-width="0.8"/><rect x="70.31" y="335.09" width="12.47" height="1.2" fill="#999"/><rect x="70.31" y="373.83" width="12.47" height="1.2" fill="#999"/><rect x="70.31" y="412.56" width="12.47" height="1.2" fill="#999"/><rect x="70.31" y="444.84" width="12.47" height="1.2" fill="#999"/><rect x="70.31" y="470.67" width="12.47" height="1.2" fill="#999"/><rect x="70.31" y="477.12" width="12.47" height="1.2" fill="#999"/><rect x="70.31" y="509.40" width="12.47" height="1.2" fill="#999"/><rect x="70.31" y="561.05" width="12.47" height="1.2" fill="#999"/><rect x="70.31" y="612.70" width="12.47" height="1.2" fill="#999"/><rect x="85.18" y="290.85" width="14.55" height="44.49" fill="none" stroke="#b4b4b4" stroke-width="0.8"/><rect x="85.18" y="336.04" width="14.55" height="38.04" fill="none" stroke="#b4b4b4" stroke-width="0.8"/><rect x="85.18" y="374.78" width="14.55" height="38.04" fill="none" stroke="#b4b4b4" stroke-width="0.8"/><rect x="85.18" y="413.51" width="14.55" height="31.58" fill="none" stroke="#b4b4b4" stroke-width="0.8"/><rect x="85.18" y="445.79" width="14.55" height="25.12" fill="none" stroke="#b4b4b4" stroke-width="0.8"/><rect x="85.18" y="471.62" width="14.55" height="5.76" fill="none" stroke="#b4b4b4" stroke-width="0.8"/><rect x="85.18" y="478.07" width="14.55" height="31.58" fill="none" stroke="#b4b4b4" stroke-width="0.8"/><rect x="85.18" y="510.35" width="14.55" height="50.95" fill="none" stroke="#b4b4b4" stroke-width="0.8"/><rect x="85.18" y="562.00" width="14.55" height="50.95" fill="none" stroke="#b4b4b4" stroke-width="0.8"/><rect x="85.18" y="613.65" width="14.55" height="31.58" fill="none" stroke="#b4b4b4" stroke-width="0.8"/><rect x="84.83" y="335.09" width="15.25" height="1.2" fill="#999"/><rect x="84.83" y="373.83" width="15.25" height="1.2" fill="#999"/><rect x="84.83" y="412.56" width="15.25" height="1.2" fill="#999"/><rect x="84.83" y="444.84" width="15.25" height="1.2" fill="#999"/><rect x="84.83" y="470.67" width="15.25" height="1.2" fill="#999"/><rect x="84.83" y="477.12" width="15.25" height="1.2" fill="#999"/><rect x="84.83" y="509.40" width="15.25" height="1.2" fill="#999"/><rect x="84.83" y="561.05" width="15.25" height="1.2" fill="#999"/><rect x="84.83" y="612.70" width="15.25" height="1.2" fill="#999"/><rect x="102.48" y="290.85" width="10.11" height="44.49" fill="none" stroke="#b4b4b4" stroke-width="0.8"/><rect x="102.48" y="336.04" width="10.11" height="38.04" fill="none" stroke="#b4b4b4" stroke-width="0.8"/><rect x="102.48" y="374.78" width="10.11" height="38.04" fill="none" stroke="#b4b4b4" stroke-width="0.8"/><rect x="102.48" y="413.51" width="10.11" height="31.58" fill="none" stroke="#b4b4b4" stroke-width="0.8"/><rect x="102.48" y="445.79" width="10.11" height="25.12" fill="none" stroke="#b4b4b4" stroke-width="0.8"/><rect x="102.48" y="471.62" width="10.11" height="5.76" fill="none" stroke="#b4b4b4" stroke-width="0.8"/><rect x="102.48" y="478.07" width="10.11" height="31.58" fill="none" stroke="#b4b4b4" stroke-width="0.8"/><rect x="102.48" y="510.35" width="10.11" height="50.95" fill="none" stroke="#b4b4b4" stroke-width="0.8"/><rect x="102.48" y="562.00" width="10.11" height="50.95" fill="none" stroke="#b4b4b4" stroke-width="0.8"/><rect x="102.48" y="613.65" width="10.11" height="31.58" fill="none" stroke="#b4b4b4" stroke-width="0.8"/><rect x="102.13" y="335.09" width="10.81" height="1.2" fill="#999"/><rect x="102.13" y="373.83" width="10.81" height="1.2" fill="#999"/><rect x="102.13" y="412.56" width="10.81" height="1.2" fill="#999"/><rect x="102.13" y="444.84" width="10.81" height="1.2" fill="#999"/><rect x="102.13" y="470.67" width="10.81" height="1.2" fill="#999"/><rect x="102.13" y="477.12" width="10.81" height="1.2" fill="#999"/><rect x="102.13" y="509.40" width="10.81" height="1.2" fill="#999"/><rect x="102.13" y="561.05" width="10.81" height="1.2" fill="#999"/><rect x="102.13" y="612.70" width="10.81" height="1.2" fill="#999"/><rect x="115.34" y="290.85" width="9.28" height="44.49" fill="none" stroke="#b4b4b4" stroke-width="0.8"/><rect x="115.34" y="336.04" width="9.28" height="38.04" fill="none" stroke="#b4b4b4" stroke-width="0.8"/><rect x="115.34" y="374.78" width="9.28" height="38.04" fill="none" stroke="#b4b4b4" stroke-width="0.8"/><rect x="115.34" y="413.51" width="9.28" height="31.58" fill="none" stroke="#b4b4b4" stroke-width="0.8"/><rect x="115.34" y="445.79" width="9.28" height="25.12" fill="none" stroke="#b4b4b4" stroke-width="0.8"/><rect x="115.34" y="471.62" width="9.28" height="5.76" fill="none" stroke="#b4b4b4" stroke-width="0.8"/><rect x="115.34" y="478.07" width="9.28" height="31.58" fill="none" stroke="#b4b4b4" stroke-width="0.8"/><rect x="115.34" y="510.35" width="9.28" height="50.95" fill="none" stroke="#b4b4b4" stroke-width="0.8"/><rect x="115.34" y="562.00" width="9.28" height="50.95" fill="none" stroke="#b4b4b4" stroke-width="0.8"/><rect x="115.34" y="613.65" width="9.28" height="31.58" fill="none" stroke="#b4b4b4" stroke-width="0.8"/><rect x="114.99" y="335.09" width="9.98" height="1.2" fill="#999"/><rect x="114.99" y="373.83" width="9.98" height="1.2" fill="#999"/><rect x="114.99" y="412.56" width="9.98" height="1.2" fill="#999"/><rect x="114.99" y="444.84" width="9.98" height="1.2" fill="#999"/><rect x="114.99" y="470.67" width="9.98" height="1.2" fill="#999"/><rect x="114.99" y="477.12" width="9.98" height="1.2" fill="#999"/><rect x="114.99" y="509.40" width="9.98" height="1.2" fill="#999"/><rect x="114.99" y="561.05" width="9.98" height="1.2" fill="#999"/><rect x="114.99" y="612.70" width="9.98" height="1.2" fill="#999"/><rect x="127.37" y="290.85" width="9.28" height="44.49" fill="none" stroke="#b4b4b4" stroke-width="0.8"/><rect x="127.37" y="336.04" width="9.28" height="38.04" fill="none" stroke="#b4b4b4" stroke-width="0.8"/><rect x="127.37" y="374.78" width="9.28" height="38.04" fill="none" stroke="#b4b4b4" stroke-width="0.8"/><rect x="127.37" y="413.51" width="9.28" height="31.58" fill="none" stroke="#b4b4b4" stroke-width="0.8"/><rect x="127.37" y="445.79" width="9.28" height="25.12" fill="none" stroke="#b4b4b4" stroke-width="0.8"/><rect x="127.37" y="471.62" width="9.28" height="5.76" fill="none" stroke="#b4b4b4" stroke-width="0.8"/><rect x="127.37" y="478.07" width="9.28" height="31.58" fill="none" stroke="#b4b4b4" stroke-width="0.8"/><rect x="127.37" y="510.35" width="9.28" height="50.95" fill="none" stroke="#b4b4b4" stroke-width="0.8"/><rect x="127.37" y="562.00" width="9.28" height="50.95" fill="none" stroke="#b4b4b4" stroke-width="0.8"/><rect x="127.37" y="613.65" width="9.28" height="31.58" fill="none" stroke="#b4b4b4" stroke-width="0.8"/><rect x="127.02" y="335.09" width="9.98" height="1.2" fill="#999"/><rect x="127.02" y="373.83" width="9.98" height="1.2" fill="#999"/><rect x="127.02" y="412.56" width="9.98" height="1.2" fill="#999"/><rect x="127.02" y="444.84" width="9.98" height="1.2" fill="#999"/><rect x="127.02" y="470.67" width="9.98" height="1.2" fill="#999"/><rect x="127.02" y="477.12" width="9.98" height="1.2" fill="#999"/><rect x="127.02" y="509.40" width="9.98" height="1.2" fill="#999"/><rect x="127.02" y="561.05" width="9.98" height="1.2" fill="#999"/><rect x="127.02" y="612.70" width="9.98" height="1.2" fill="#999"/></g>
<text x="138.00" y="295.93" font-size="6.5" fill="#333" stroke="#333" stroke-width="0.16">−5/5q−</text>
<text x="138.00" y="302.38" font-size="6.5" fill="#333" stroke="#333" stroke-width="0.16">−17/abn(17p)</text>
<text x="138.00" y="308.84" font-size="6.5" fill="#333" stroke="#333" stroke-width="0.16">−7/7q−</text>
<text x="138.00" y="315.30" font-size="6.5" fill="#333" stroke="#333" stroke-width="0.16">+8</text>
<text x="138.00" y="321.75" font-size="6.5" fill="#333" stroke="#333" stroke-width="0.16">Monokaryotype</text>
<text x="138.00" y="328.21" font-size="6.5" fill="#333" stroke="#333" stroke-width="0.16">Complex karyotype</text>
<text x="138.00" y="334.66" font-size="6.5" fill="#333" stroke="#333" stroke-width="0.16">Normal karyotype</text>
<text x="138.00" y="341.12" font-size="6.5" fill="#333" stroke="#333" stroke-width="0.16" font-style="italic">CBFB::MYH11</text>
<text x="19.30" y="341.12" font-size="6.5" fill="#333" stroke="#333" stroke-width="0.16" text-anchor="end">9%</text>
<text x="138.00" y="347.58" font-size="6.5" fill="#333" stroke="#333" stroke-width="0.16" font-style="italic">KMT2A fusions</text>
<text x="19.30" y="347.58" font-size="6.5" fill="#333" stroke="#333" stroke-width="0.16" text-anchor="end">4%</text>
<text x="138.00" y="354.03" font-size="6.5" fill="#333" stroke="#333" stroke-width="0.16" font-style="italic">NUP98 fusions</text>
<text x="19.30" y="354.03" font-size="6.5" fill="#333" stroke="#333" stroke-width="0.16" text-anchor="end">3%</text>
<text x="138.00" y="360.49" font-size="6.5" fill="#333" stroke="#333" stroke-width="0.16" font-style="italic">PML::RARA</text>
<text x="19.30" y="360.49" font-size="6.5" fill="#333" stroke="#333" stroke-width="0.16" text-anchor="end">16%</text>
<text x="138.00" y="366.94" font-size="6.5" fill="#333" stroke="#333" stroke-width="0.16" font-style="italic">RUNX1::RUNX1T1</text>
<text x="19.30" y="366.94" font-size="6.5" fill="#333" stroke="#333" stroke-width="0.16" text-anchor="end">7%</text>
<text x="138.00" y="373.40" font-size="6.5" fill="#333" stroke="#333" stroke-width="0.16">Fusion genes</text>
<text x="19.30" y="373.40" font-size="6.5" fill="#333" stroke="#333" stroke-width="0.16" text-anchor="end">40%</text>
<text x="138.00" y="379.86" font-size="6.5" fill="#333" stroke="#333" stroke-width="0.16" font-style="italic">CEBPA</text>
<text x="19.30" y="379.86" font-size="6.5" fill="#333" stroke="#333" stroke-width="0.16" text-anchor="end">20%</text>
<text x="138.00" y="386.31" font-size="6.5" fill="#333" stroke="#333" stroke-width="0.16" font-style="italic">RUNX1</text>
<text x="19.30" y="386.31" font-size="6.5" fill="#333" stroke="#333" stroke-width="0.16" text-anchor="end">7%</text>
<text x="138.00" y="392.77" font-size="6.5" fill="#333" stroke="#333" stroke-width="0.16" font-style="italic">GATA2</text>
<text x="19.30" y="392.77" font-size="6.5" fill="#333" stroke="#333" stroke-width="0.16" text-anchor="end">9%</text>
<text x="138.00" y="399.22" font-size="6.5" fill="#333" stroke="#333" stroke-width="0.16" font-style="italic">IKZF1</text>
<text x="19.30" y="399.22" font-size="6.5" fill="#333" stroke="#333" stroke-width="0.16" text-anchor="end">4%</text>
<text x="138.00" y="405.68" font-size="6.5" fill="#333" stroke="#333" stroke-width="0.16" font-style="italic">ETV6</text>
<text x="19.30" y="405.68" font-size="6.5" fill="#333" stroke="#333" stroke-width="0.16" text-anchor="end">3%</text>
<text x="138.00" y="412.14" font-size="6.5" fill="#333" stroke="#333" stroke-width="0.16">Transcription Factors</text>
<text x="19.30" y="412.14" font-size="6.5" fill="#333" stroke="#333" stroke-width="0.16" text-anchor="end">33%</text>
<text x="138.00" y="418.59" font-size="6.5" fill="#333" stroke="#333" stroke-width="0.16" font-style="italic">U2AF1</text>
<text x="19.30" y="418.59" font-size="6.5" fill="#333" stroke="#333" stroke-width="0.16" text-anchor="end">3%</text>
<text x="138.00" y="425.05" font-size="6.5" fill="#333" stroke="#333" stroke-width="0.16" font-style="italic">SRSF2</text>
<text x="19.30" y="425.05" font-size="6.5" fill="#333" stroke="#333" stroke-width="0.16" text-anchor="end">2%</text>
<text x="138.00" y="431.50" font-size="6.5" fill="#333" stroke="#333" stroke-width="0.16" font-style="italic">SF3B1</text>
<text x="19.30" y="431.50" font-size="6.5" fill="#333" stroke="#333" stroke-width="0.16" text-anchor="end">3%</text>
<text x="138.00" y="437.96" font-size="6.5" fill="#333" stroke="#333" stroke-width="0.16" font-style="italic">ZRSR2</text>
<text x="19.30" y="437.96" font-size="6.5" fill="#333" stroke="#333" stroke-width="0.16" text-anchor="end">2%</text>
<text x="138.00" y="444.42" font-size="6.5" fill="#333" stroke="#333" stroke-width="0.16">Spliceosome</text>
<text x="19.30" y="444.42" font-size="6.5" fill="#333" stroke="#333" stroke-width="0.16" text-anchor="end">10%</text>
<text x="138.00" y="450.87" font-size="6.5" fill="#333" stroke="#333" stroke-width="0.16" font-style="italic">WT1</text>
<text x="19.30" y="450.87" font-size="6.5" fill="#333" stroke="#333" stroke-width="0.16" text-anchor="end">15%</text>
<text x="138.00" y="457.33" font-size="6.5" fill="#333" stroke="#333" stroke-width="0.16" font-style="italic">TP53</text>
<text x="19.30" y="457.33" font-size="6.5" fill="#333" stroke="#333" stroke-width="0.16" text-anchor="end">4%</text>
<text x="138.00" y="463.78" font-size="6.5" fill="#333" stroke="#333" stroke-width="0.16" font-style="italic">PHF6</text>
<text x="19.30" y="463.78" font-size="6.5" fill="#333" stroke="#333" stroke-width="0.16" text-anchor="end">2%</text>
<text x="138.00" y="470.24" font-size="6.5" fill="#333" stroke="#333" stroke-width="0.16">Tumor Suppressors</text>
<text x="19.30" y="470.24" font-size="6.5" fill="#333" stroke="#333" stroke-width="0.16" text-anchor="end">20%</text>
<text x="138.00" y="476.70" font-size="6.5" fill="#333" stroke="#333" stroke-width="0.16" font-style="italic">NPM1</text>
<text x="19.30" y="476.70" font-size="6.5" fill="#333" stroke="#333" stroke-width="0.16" text-anchor="end">17%</text>
<text x="138.00" y="483.15" font-size="6.5" fill="#333" stroke="#333" stroke-width="0.16" font-style="italic">DNMT3A</text>
<text x="19.30" y="483.15" font-size="6.5" fill="#333" stroke="#333" stroke-width="0.16" text-anchor="end">18%</text>
<text x="138.00" y="489.61" font-size="6.5" fill="#333" stroke="#333" stroke-width="0.16" font-style="italic">TET2</text>
<text x="19.30" y="489.61" font-size="6.5" fill="#333" stroke="#333" stroke-width="0.16" text-anchor="end">13%</text>
<text x="138.00" y="496.06" font-size="6.5" fill="#333" stroke="#333" stroke-width="0.16" font-style="italic">IDH2</text>
<text x="19.30" y="496.06" font-size="6.5" fill="#333" stroke="#333" stroke-width="0.16" text-anchor="end">11%</text>
<text x="138.00" y="502.52" font-size="6.5" fill="#333" stroke="#333" stroke-width="0.16" font-style="italic">IDH1</text>
<text x="19.30" y="502.52" font-size="6.5" fill="#333" stroke="#333" stroke-width="0.16" text-anchor="end">7%</text>
<text x="138.00" y="508.98" font-size="6.5" fill="#333" stroke="#333" stroke-width="0.16">DNA Methylation</text>
<text x="19.30" y="508.98" font-size="6.5" fill="#333" stroke="#333" stroke-width="0.16" text-anchor="end">37%</text>
<text x="138.00" y="515.43" font-size="6.5" fill="#333" stroke="#333" stroke-width="0.16" font-style="italic">FLT3-ITD</text>
<text x="19.30" y="515.43" font-size="6.5" fill="#333" stroke="#333" stroke-width="0.16" text-anchor="end">26%</text>
<text x="138.00" y="521.89" font-size="6.5" fill="#333" stroke="#333" stroke-width="0.16" font-style="italic">NRAS</text>
<text x="19.30" y="521.89" font-size="6.5" fill="#333" stroke="#333" stroke-width="0.16" text-anchor="end">17%</text>
<text x="138.00" y="528.34" font-size="6.5" fill="#333" stroke="#333" stroke-width="0.16" font-style="italic">FLT3</text>
<text x="19.30" y="528.34" font-size="6.5" fill="#333" stroke="#333" stroke-width="0.16" text-anchor="end">12%</text>
<text x="138.00" y="534.80" font-size="6.5" fill="#333" stroke="#333" stroke-width="0.16" font-style="italic">KIT</text>
<text x="19.30" y="534.80" font-size="6.5" fill="#333" stroke="#333" stroke-width="0.16" text-anchor="end">9%</text>
<text x="138.00" y="541.26" font-size="6.5" fill="#333" stroke="#333" stroke-width="0.16" font-style="italic">KRAS</text>
<text x="19.30" y="541.26" font-size="6.5" fill="#333" stroke="#333" stroke-width="0.16" text-anchor="end">6%</text>
<text x="138.00" y="547.71" font-size="6.5" fill="#333" stroke="#333" stroke-width="0.16" font-style="italic">PTPN11</text>
<text x="19.30" y="547.71" font-size="6.5" fill="#333" stroke="#333" stroke-width="0.16" text-anchor="end">7%</text>
<text x="138.00" y="554.17" font-size="6.5" fill="#333" stroke="#333" stroke-width="0.16" font-style="italic">CSF3R</text>
<text x="19.30" y="554.17" font-size="6.5" fill="#333" stroke="#333" stroke-width="0.16" text-anchor="end">3%</text>
<text x="138.00" y="560.62" font-size="6.5" fill="#333" stroke="#333" stroke-width="0.16">Activated Signaling</text>
<text x="19.30" y="560.62" font-size="6.5" fill="#333" stroke="#333" stroke-width="0.16" text-anchor="end">65%</text>
<text x="138.00" y="567.08" font-size="6.5" fill="#333" stroke="#333" stroke-width="0.16" font-style="italic">ASXL1</text>
<text x="19.30" y="567.08" font-size="6.5" fill="#333" stroke="#333" stroke-width="0.16" text-anchor="end">7%</text>
<text x="138.00" y="573.54" font-size="6.5" fill="#333" stroke="#333" stroke-width="0.16" font-style="italic">BCOR</text>
<text x="19.30" y="573.54" font-size="6.5" fill="#333" stroke="#333" stroke-width="0.16" text-anchor="end">5%</text>
<text x="138.00" y="579.99" font-size="6.5" fill="#333" stroke="#333" stroke-width="0.16">KMT2A-PTD</text>
<text x="19.30" y="579.99" font-size="6.5" fill="#333" stroke="#333" stroke-width="0.16" text-anchor="end">6%</text>
<text x="138.00" y="586.45" font-size="6.5" fill="#333" stroke="#333" stroke-width="0.16" font-style="italic">EZH2</text>
<text x="19.30" y="586.45" font-size="6.5" fill="#333" stroke="#333" stroke-width="0.16" text-anchor="end">4%</text>
<text x="138.00" y="592.90" font-size="6.5" fill="#333" stroke="#333" stroke-width="0.16" font-style="italic">EP300</text>
<text x="19.30" y="592.90" font-size="6.5" fill="#333" stroke="#333" stroke-width="0.16" text-anchor="end">2%</text>
<text x="138.00" y="599.36" font-size="6.5" fill="#333" stroke="#333" stroke-width="0.16" font-style="italic">BCORL1</text>
<text x="19.30" y="599.36" font-size="6.5" fill="#333" stroke="#333" stroke-width="0.16" text-anchor="end">2%</text>
<text x="138.00" y="605.82" font-size="6.5" fill="#333" stroke="#333" stroke-width="0.16" font-style="italic">KDM6A</text>
<text x="19.30" y="605.82" font-size="6.5" fill="#333" stroke="#333" stroke-width="0.16" text-anchor="end">2%</text>
<text x="138.00" y="612.27" font-size="6.5" fill="#333" stroke="#333" stroke-width="0.16">Chromatin Modifiers</text>
<text x="19.30" y="612.27" font-size="6.5" fill="#333" stroke="#333" stroke-width="0.16" text-anchor="end">23%</text>
<text x="138.00" y="618.73" font-size="6.5" fill="#333" stroke="#333" stroke-width="0.16" font-style="italic">SMC1A</text>
<text x="19.30" y="618.73" font-size="6.5" fill="#333" stroke="#333" stroke-width="0.16" text-anchor="end">4%</text>
<text x="138.00" y="625.18" font-size="6.5" fill="#333" stroke="#333" stroke-width="0.16" font-style="italic">SMC3</text>
<text x="19.30" y="625.18" font-size="6.5" fill="#333" stroke="#333" stroke-width="0.16" text-anchor="end">2%</text>
<text x="138.00" y="631.64" font-size="6.5" fill="#333" stroke="#333" stroke-width="0.16" font-style="italic">STAG2</text>
<text x="19.30" y="631.64" font-size="6.5" fill="#333" stroke="#333" stroke-width="0.16" text-anchor="end">2%</text>
<text x="138.00" y="638.10" font-size="6.5" fill="#333" stroke="#333" stroke-width="0.16" font-style="italic">RAD21</text>
<text x="19.30" y="638.10" font-size="6.5" fill="#333" stroke="#333" stroke-width="0.16" text-anchor="end">2%</text>
<text x="138.00" y="644.55" font-size="6.5" fill="#333" stroke="#333" stroke-width="0.16">Cohesin Complex</text>
<text x="19.30" y="644.55" font-size="6.5" fill="#333" stroke="#333" stroke-width="0.16" text-anchor="end">9%</text>
<text x="199.50" y="215.20" font-size="6.4" fill="#333" stroke="#333" stroke-width="0.16">WHO</text>
<rect x="199.50" y="219.20" width="6.0" height="6.0" fill="#9a9a9a"/>
<text x="208.60" y="224.40" font-size="6.4" fill="#333" stroke="#333" stroke-width="0.16" font-style="italic">PML::RARA</text>
<rect x="199.50" y="226.70" width="6.0" height="6.0" fill="#e2ddd2"/>
<text x="208.60" y="231.90" font-size="6.4" fill="#333" stroke="#333" stroke-width="0.16" font-style="italic">RUNX1::RUNX1T1</text>
<rect x="199.50" y="234.20" width="6.0" height="6.0" fill="#8fba72"/>
<text x="208.60" y="239.40" font-size="6.4" fill="#333" stroke="#333" stroke-width="0.16" font-style="italic">CBFB::MYH11</text>
<rect x="199.50" y="241.70" width="6.0" height="6.0" fill="#66c6cc"/>
<text x="208.60" y="246.90" font-size="6.4" fill="#333" stroke="#333" stroke-width="0.16">KMT2A rearrangement</text>
<rect x="199.50" y="249.20" width="6.0" height="6.0" fill="#e8722a"/>
<text x="208.60" y="254.40" font-size="6.4" fill="#333" stroke="#333" stroke-width="0.16">NUP98 rearrangement</text>
<rect x="199.50" y="256.70" width="6.0" height="6.0" fill="#6ec6c4"/>
<text x="208.60" y="261.90" font-size="6.4" fill="#333" stroke="#333" stroke-width="0.16" font-style="italic">DEK::NUP214</text>
<rect x="199.50" y="264.20" width="6.0" height="6.0" fill="#f6ad7c"/>
<text x="208.60" y="269.40" font-size="6.4" fill="#333" stroke="#333" stroke-width="0.16" font-style="italic">NPM1</text>
<rect x="199.50" y="271.70" width="6.0" height="6.0" fill="#6b9bd0"/>
<text x="208.60" y="276.90" font-size="6.4" fill="#333" stroke="#333" stroke-width="0.16" font-style="italic">CEBPA</text>
<rect x="199.50" y="279.20" width="6.0" height="6.0" fill="#c4b2e0"/>
<text x="208.60" y="284.40" font-size="6.4" fill="#333" stroke="#333" stroke-width="0.16">Myelodysplasia-related</text>
<rect x="199.50" y="286.70" width="6.0" height="6.0" fill="#de7ca2"/>
<text x="208.60" y="291.90" font-size="6.4" fill="#333" stroke="#333" stroke-width="0.16">Defined by differentiation</text>
<text x="206.50" y="306.00" font-size="6.4" fill="#333" stroke="#333" stroke-width="0.16">GEP</text>
<rect x="206.50" y="309.80" width="6.0" height="6.0" fill="#f08070"/>
<text x="215.80" y="315.00" font-size="6.4" fill="#333" stroke="#333" stroke-width="0.16">G1</text>
<rect x="206.50" y="316.95" width="6.0" height="6.0" fill="#70c8c0"/>
<text x="215.80" y="322.15" font-size="6.4" fill="#333" stroke="#333" stroke-width="0.16">G2</text>
<rect x="206.50" y="324.10" width="6.0" height="6.0" fill="#70a8c8"/>
<text x="215.80" y="329.30" font-size="6.4" fill="#333" stroke="#333" stroke-width="0.16">G3</text>
<rect x="206.50" y="331.25" width="6.0" height="6.0" fill="#9080a0"/>
<text x="215.80" y="336.45" font-size="6.4" fill="#333" stroke="#333" stroke-width="0.16">G4</text>
<rect x="206.50" y="338.40" width="6.0" height="6.0" fill="#7a5a40"/>
<text x="215.80" y="343.60" font-size="6.4" fill="#333" stroke="#333" stroke-width="0.16">G5</text>
<rect x="206.50" y="345.55" width="6.0" height="6.0" fill="#7a5ab0"/>
<text x="215.80" y="350.75" font-size="6.4" fill="#333" stroke="#333" stroke-width="0.16">G6</text>
<rect x="206.50" y="352.70" width="6.0" height="6.0" fill="#f0b0c8"/>
<text x="215.80" y="357.90" font-size="6.4" fill="#333" stroke="#333" stroke-width="0.16">G7</text>
<rect x="206.50" y="359.85" width="6.0" height="6.0" fill="#c0b070"/>
<text x="215.80" y="365.05" font-size="6.4" fill="#333" stroke="#333" stroke-width="0.16">G8</text>
<text x="239.70" y="306.00" font-size="6.4" fill="#333" stroke="#333" stroke-width="0.16">Sex</text>
<rect x="239.70" y="309.80" width="6.0" height="6.0" fill="#d62728"/>
<text x="248.50" y="315.00" font-size="6.4" fill="#333" stroke="#333" stroke-width="0.16">F</text>
<rect x="239.70" y="317.00" width="6.0" height="6.0" fill="#2a70b0"/>
<text x="248.50" y="322.20" font-size="6.4" fill="#333" stroke="#333" stroke-width="0.16">M</text>
<text x="239.70" y="335.60" font-size="6.4" fill="#333" stroke="#333" stroke-width="0.16">Age</text>
<defs><linearGradient id="gAge" x1="0" y1="0" x2="0" y2="1"><stop offset="0" stop-color="#d7342a"/><stop offset="0.2" stop-color="#ee6a55"/><stop offset="0.55" stop-color="#fbf7f7"/><stop offset="0.75" stop-color="#a8a8d6"/><stop offset="1" stop-color="#2f54b0"/></linearGradient></defs>
<rect x="240.0" y="338.6" width="7.0" height="38.099999999999966" fill="url(#gAge)"/>
<text x="248.50" y="342.70" font-size="6.4" fill="#333" stroke="#333" stroke-width="0.16">60</text>
<text x="248.50" y="354.20" font-size="6.4" fill="#333" stroke="#333" stroke-width="0.16">40</text>
<text x="248.50" y="365.90" font-size="6.4" fill="#333" stroke="#333" stroke-width="0.16">20</text>
<text x="248.50" y="377.20" font-size="6.4" fill="#333" stroke="#333" stroke-width="0.16">0</text>
<text x="206.50" y="379.00" font-size="6.4" fill="#333" stroke="#333" stroke-width="0.16">FAB</text>
<rect x="206.50" y="383.50" width="6.0" height="6.0" fill="#d89090"/>
<text x="215.80" y="388.70" font-size="6.4" fill="#333" stroke="#333" stroke-width="0.16">NOS</text>
<rect x="206.50" y="390.60" width="6.0" height="6.0" fill="#84b2e0"/>
<text x="215.80" y="395.80" font-size="6.4" fill="#333" stroke="#333" stroke-width="0.16">M1</text>
<rect x="206.50" y="397.70" width="6.0" height="6.0" fill="#c8dcc0"/>
<text x="215.80" y="402.90" font-size="6.4" fill="#333" stroke="#333" stroke-width="0.16">M2</text>
<rect x="206.50" y="404.80" width="6.0" height="6.0" fill="#70c0b0"/>
<text x="215.80" y="410.00" font-size="6.4" fill="#333" stroke="#333" stroke-width="0.16">M3</text>
<rect x="206.50" y="411.90" width="6.0" height="6.0" fill="#8088c0"/>
<text x="215.80" y="417.10" font-size="6.4" fill="#333" stroke="#333" stroke-width="0.16">M4</text>
<rect x="206.50" y="419.00" width="6.0" height="6.0" fill="#f2c2e2"/>
<text x="215.80" y="424.20" font-size="6.4" fill="#333" stroke="#333" stroke-width="0.16">M5</text>
<text x="239.70" y="388.70" font-size="6.4" fill="#333" stroke="#333" stroke-width="0.16">BM blasts</text>
<defs><linearGradient id="gBM" x1="0" y1="0" x2="0" y2="1"><stop offset="0" stop-color="#d7342a"/><stop offset="0.2" stop-color="#ee7060"/><stop offset="0.4" stop-color="#fbf6f6"/><stop offset="0.7" stop-color="#8a8ad0"/><stop offset="1" stop-color="#2f54b0"/></linearGradient></defs>
<rect x="240.0" y="392.2" width="7.0" height="46.60000000000002" fill="url(#gBM)"/>
<text x="248.50" y="396.20" font-size="6.4" fill="#333" stroke="#333" stroke-width="0.16">100</text>
<text x="248.50" y="404.70" font-size="6.4" fill="#333" stroke="#333" stroke-width="0.16">80</text>
<text x="248.50" y="413.20" font-size="6.4" fill="#333" stroke="#333" stroke-width="0.16">60</text>
<text x="248.50" y="421.70" font-size="6.4" fill="#333" stroke="#333" stroke-width="0.16">40</text>
<text x="248.50" y="430.20" font-size="6.4" fill="#333" stroke="#333" stroke-width="0.16">20</text>
<text x="248.50" y="439.00" font-size="6.4" fill="#333" stroke="#333" stroke-width="0.16">0</text>
<text x="206.50" y="436.20" font-size="6.4" fill="#333" stroke="#333" stroke-width="0.16">WBC</text>
<defs><linearGradient id="gWBC" x1="0" y1="0" x2="0" y2="1"><stop offset="0" stop-color="#d7342a"/><stop offset="0.35" stop-color="#f08a78"/><stop offset="0.72" stop-color="#fbf0ee"/><stop offset="0.92" stop-color="#ffffff"/><stop offset="0.93" stop-color="#2f54b0"/><stop offset="1" stop-color="#2f54b0"/></linearGradient></defs>
<rect x="206.8" y="439.8" width="7.0" height="38.099999999999966" fill="url(#gWBC)"/>
<text x="216.10" y="443.70" font-size="6.4" fill="#333" stroke="#333" stroke-width="0.16">400</text>
<text x="216.10" y="452.20" font-size="6.4" fill="#333" stroke="#333" stroke-width="0.16">300</text>
<text x="216.10" y="461.20" font-size="6.4" fill="#333" stroke="#333" stroke-width="0.16">200</text>
<text x="216.10" y="469.70" font-size="6.4" fill="#333" stroke="#333" stroke-width="0.16">100</text>
<text x="216.10" y="478.80" font-size="6.4" fill="#333" stroke="#333" stroke-width="0.16">0</text>
<text x="239.70" y="450.50" font-size="6.4" fill="#333" stroke="#333" stroke-width="0.16">HGB</text>
<defs><linearGradient id="gHGB" x1="0" y1="0" x2="0" y2="1"><stop offset="0" stop-color="#d7342a"/><stop offset="0.3" stop-color="#f4a090"/><stop offset="0.4" stop-color="#fbf6f6"/><stop offset="0.7" stop-color="#8a8ad0"/><stop offset="1" stop-color="#2f54b0"/></linearGradient></defs>
<rect x="240.0" y="453.0" width="7.0" height="38.30000000000001" fill="url(#gHGB)"/>
<text x="248.50" y="457.90" font-size="6.4" fill="#333" stroke="#333" stroke-width="0.16">150</text>
<text x="248.50" y="469.00" font-size="6.4" fill="#333" stroke="#333" stroke-width="0.16">100</text>
<text x="248.50" y="480.20" font-size="6.4" fill="#333" stroke="#333" stroke-width="0.16">50</text>
<text x="248.50" y="491.70" font-size="6.4" fill="#333" stroke="#333" stroke-width="0.16">0</text>
<text x="206.50" y="489.90" font-size="6.4" fill="#333" stroke="#333" stroke-width="0.16">PLT</text>
<defs><linearGradient id="gPLT" x1="0" y1="0" x2="0" y2="1"><stop offset="0" stop-color="#d7342a"/><stop offset="0.4" stop-color="#f08a78"/><stop offset="0.75" stop-color="#fbf0ee"/><stop offset="0.85" stop-color="#ffffff"/><stop offset="0.9" stop-color="#6a7ac8"/><stop offset="1" stop-color="#2f54b0"/></linearGradient></defs>
<rect x="206.8" y="493.4" width="7.0" height="37.39999999999998" fill="url(#gPLT)"/>
<text x="216.10" y="496.80" font-size="6.4" fill="#333" stroke="#333" stroke-width="0.16">600</text>
<text x="216.10" y="508.20" font-size="6.4" fill="#333" stroke="#333" stroke-width="0.16">400</text>
<text x="216.10" y="519.80" font-size="6.4" fill="#333" stroke="#333" stroke-width="0.16">200</text>
<text x="216.10" y="531.20" font-size="6.4" fill="#333" stroke="#333" stroke-width="0.16">0</text>
<text x="239.70" y="503.00" font-size="6.4" fill="#333" stroke="#333" stroke-width="0.16">ELN risk</text>
<rect x="239.70" y="506.60" width="6.0" height="6.0" fill="#84b4da"/>
<text x="248.50" y="511.80" font-size="6.4" fill="#333" stroke="#333" stroke-width="0.16">Favorable</text>
<rect x="239.70" y="513.30" width="6.0" height="6.0" fill="#8060b4"/>
<text x="248.50" y="518.50" font-size="6.4" fill="#333" stroke="#333" stroke-width="0.16">Intermediate</text>
<rect x="239.70" y="520.00" width="6.0" height="6.0" fill="#f07464"/>
<text x="248.50" y="525.20" font-size="6.4" fill="#333" stroke="#333" stroke-width="0.16">Adverse</text>
<text x="206.50" y="541.70" font-size="6.4" fill="#333" stroke="#333" stroke-width="0.16">OS status</text>
<rect x="206.50" y="546.40" width="6.0" height="6.0" fill="#111"/>
<text x="215.80" y="551.60" font-size="6.4" fill="#333" stroke="#333" stroke-width="0.16">Deceased</text>
<text x="206.50" y="565.00" font-size="6.4" fill="#333" stroke="#333" stroke-width="0.16">EFS status</text>
<rect x="206.50" y="569.30" width="6.0" height="6.0" fill="#111"/>
<text x="215.80" y="574.50" font-size="6.4" fill="#333" stroke="#333" stroke-width="0.16">Deceased/relapsed</text>
<text x="206.50" y="586.60" font-size="6.4" fill="#333" stroke="#333" stroke-width="0.16">Other</text>
<rect x="206.50" y="590.50" width="6.0" height="6.0" fill="#8ec0dc"/>
<text x="215.80" y="595.70" font-size="6.4" fill="#333" stroke="#333" stroke-width="0.16">Positive</text>
<rect x="206.50" y="597.40" width="6.0" height="6.0" fill="#eef3f8"/>
<text x="215.80" y="602.60" font-size="6.4" fill="#333" stroke="#333" stroke-width="0.16">Negative</text>
<rect x="206.50" y="604.30" width="6.0" height="6.0" fill="#d8d8d8"/>
<text x="215.80" y="609.50" font-size="6.4" fill="#333" stroke="#333" stroke-width="0.16">Without data</text>
<text x="294.50" y="194.50" font-size="10.8" fill="#111" font-weight="bold">E</text>
<path d="M340.50 258.50H489.50" stroke="#9a9a9a" stroke-width="0.7" fill="none"/>
<path d="M426.97 258.50V316.20" stroke="#a8a8a8" stroke-width="0.6" fill="none"/>
<path d="M449.65 258.50V316.20" stroke="#a8a8a8" stroke-width="0.6" fill="none"/>
<path d="M489.50 258.50V316.20" stroke="#a8a8a8" stroke-width="0.6" fill="none"/>
<path d="M340.50 200.80H342.86V203.11H345.23V205.42H349.95V208.88H356.25V211.19H364.12V215.80H365.70V217.53H505.88" stroke="#b2df8a" stroke-width="1.0" fill="none"/>
<path d="M441.25 216.43v2.2M440.35 217.53h1.8M368.81 216.43v2.2M367.91 217.53h1.8M491.92 216.43v2.2M491.02 217.53h1.8M422.67 216.43v2.2M421.77 217.53h1.8M439.40 216.43v2.2M438.50 217.53h1.8M443.28 216.43v2.2M442.38 217.53h1.8M490.80 216.43v2.2M489.90 217.53h1.8M421.91 216.43v2.2M421.01 217.53h1.8M434.69 216.43v2.2M433.79 217.53h1.8M378.42 216.43v2.2M377.52 217.53h1.8M460.76 216.43v2.2M459.86 217.53h1.8M433.15 216.43v2.2M432.25 217.53h1.8M434.51 216.43v2.2M433.61 217.53h1.8M410.61 216.43v2.2M409.71 217.53h1.8M483.31 216.43v2.2M482.41 217.53h1.8" stroke="#b2df8a" stroke-width="0.8" fill="none"/>
<path d="M340.50 200.80H346.80V204.26H353.10V206.57H364.12V210.03H381.45V212.34H392.48V213.49H419.25V215.80H435.00V218.11H505.88" stroke="#fdbf6f" stroke-width="1.0" fill="none"/>
<path d="M447.87 217.01v2.2M446.97 218.11h1.8M484.41 217.01v2.2M483.51 218.11h1.8M430.36 214.70v2.2M429.46 215.80h1.8M464.54 217.01v2.2M463.64 218.11h1.8M453.59 217.01v2.2M452.69 218.11h1.8M358.41 205.47v2.2M357.51 206.57h1.8M467.20 217.01v2.2M466.30 218.11h1.8M441.01 217.01v2.2M440.11 218.11h1.8M395.59 212.39v2.2M394.69 213.49h1.8M353.23 205.47v2.2M352.33 206.57h1.8M484.01 217.01v2.2M483.11 218.11h1.8M422.46 214.70v2.2M421.56 215.80h1.8M461.02 217.01v2.2M460.12 218.11h1.8M486.10 217.01v2.2M485.20 218.11h1.8M460.29 217.01v2.2M459.39 218.11h1.8" stroke="#fdbf6f" stroke-width="0.8" fill="none"/>
<path d="M340.50 200.80H343.65V202.76H364.12V204.61H369.64V206.57H375.94V208.88H378.30V211.19H400.35V212.34H422.40V214.07H428.70V215.80H453.90V223.88H471.23V231.96H505.88" stroke="#a6cee3" stroke-width="1.0" fill="none"/>
<path d="M410.27 211.24v2.2M409.37 212.34h1.8M473.89 230.86v2.2M472.99 231.96h1.8M418.05 211.24v2.2M417.15 212.34h1.8M494.99 230.86v2.2M494.09 231.96h1.8M486.10 230.86v2.2M485.20 231.96h1.8M363.65 201.66v2.2M362.75 202.76h1.8M369.68 205.47v2.2M368.78 206.57h1.8M382.38 210.09v2.2M381.48 211.19h1.8M499.68 230.86v2.2M498.78 231.96h1.8M416.73 211.24v2.2M415.83 212.34h1.8M446.58 214.70v2.2M445.68 215.80h1.8M395.55 210.09v2.2M394.65 211.19h1.8M427.87 212.97v2.2M426.97 214.07h1.8M408.85 211.24v2.2M407.95 212.34h1.8M403.37 211.24v2.2M402.47 212.34h1.8M440.06 214.70v2.2M439.16 215.80h1.8M439.93 214.70v2.2M439.03 215.80h1.8" stroke="#a6cee3" stroke-width="0.8" fill="none"/>
<path d="M340.50 200.80H346.80V203.11H353.10V205.42H357.82V207.72H362.55V211.19H367.27V215.80H372.00V221.57H376.73V226.19H387.75V230.80H395.62V233.11H406.65V235.42H412.95V237.73H419.25V240.04H425.55V244.65H431.85V249.27H441.30V251.58H491.70V252.73H505.88" stroke="#fb9a99" stroke-width="1.0" fill="none"/>
<path d="M455.25 250.48v2.2M454.35 251.58h1.8M493.95 251.63v2.2M493.05 252.73h1.8M482.58 250.48v2.2M481.68 251.58h1.8M503.68 251.63v2.2M502.78 252.73h1.8M453.57 250.48v2.2M452.67 251.58h1.8M373.93 220.47v2.2M373.03 221.57h1.8M483.25 250.48v2.2M482.35 251.58h1.8M499.55 251.63v2.2M498.65 252.73h1.8M490.15 250.48v2.2M489.25 251.58h1.8" stroke="#fb9a99" stroke-width="0.8" fill="none"/>
<path d="M340.50 200.80H349.95V204.26H359.40V207.72H365.70V212.34H387.75V213.49H403.50V214.65H411.38V216.96H422.40V219.26H435.00V220.42H505.88" stroke="#f5842a" stroke-width="1.0" fill="none"/>
<path d="M364.68 206.62v2.2M363.78 207.72h1.8M451.10 219.32v2.2M450.20 220.42h1.8M447.57 219.32v2.2M446.67 220.42h1.8M503.22 219.32v2.2M502.32 220.42h1.8M390.23 212.39v2.2M389.33 213.49h1.8M367.88 211.24v2.2M366.98 212.34h1.8M423.91 218.16v2.2M423.01 219.26h1.8M448.48 219.32v2.2M447.58 220.42h1.8M424.15 218.16v2.2M423.25 219.26h1.8M402.30 212.39v2.2M401.40 213.49h1.8M358.81 203.16v2.2M357.91 204.26h1.8M488.96 219.32v2.2M488.06 220.42h1.8M351.53 203.16v2.2M350.63 204.26h1.8M415.31 215.86v2.2M414.41 216.96h1.8M413.44 215.86v2.2M412.54 216.96h1.8M367.01 211.24v2.2M366.11 212.34h1.8M443.18 219.32v2.2M442.28 220.42h1.8M467.73 219.32v2.2M466.83 220.42h1.8" stroke="#f5842a" stroke-width="0.8" fill="none"/>
<path d="M340.50 200.80H342.07V206.57H343.65V212.34H346.80V215.80H354.68V218.11H360.98V220.42H367.27V223.88H372.00V229.65H376.73V233.11H381.45V235.42H387.75V238.88H392.48V242.34H400.35V246.96H408.23V249.27H416.10V252.73H422.40V256.19H427.12V258.50H450.75V261.96H471.23V267.73H490.91V293.12H504.62" stroke="#33a02c" stroke-width="1.0" fill="none"/>
<path d="M460.06 260.86v2.2M459.16 261.96h1.8M399.82 241.24v2.2M398.92 242.34h1.8M485.31 266.63v2.2M484.41 267.73h1.8M500.82 292.02v2.2M499.92 293.12h1.8M426.94 255.09v2.2M426.04 256.19h1.8M503.60 292.02v2.2M502.70 293.12h1.8M396.51 241.24v2.2M395.61 242.34h1.8M360.34 217.01v2.2M359.44 218.11h1.8M441.61 257.40v2.2M440.71 258.50h1.8M353.25 214.70v2.2M352.35 215.80h1.8" stroke="#33a02c" stroke-width="0.8" fill="none"/>
<path d="M340.50 200.80H342.07V203.11H344.44V205.42H346.80V207.72H351.52V212.34H357.82V216.96H362.55V219.26H368.85V223.88H372.79V228.50H376.73V231.96H383.02V235.42H387.75V238.88H394.05V243.50H400.35V245.81H406.65V249.27H414.52V252.73H422.40V255.04H505.88" stroke="#1f78b4" stroke-width="1.0" fill="none"/>
<path d="M500.61 253.94v2.2M499.71 255.04h1.8M394.07 242.40v2.2M393.17 243.50h1.8M389.65 237.78v2.2M388.75 238.88h1.8M456.46 253.94v2.2M455.56 255.04h1.8M501.94 253.94v2.2M501.04 255.04h1.8M401.63 244.71v2.2M400.73 245.81h1.8M404.82 244.71v2.2M403.92 245.81h1.8M370.05 222.78v2.2M369.15 223.88h1.8" stroke="#1f78b4" stroke-width="0.8" fill="none"/>
<path d="M340.50 200.80H343.65V204.26H348.38V207.72H353.10V210.03H357.82V213.49H362.55V216.96H368.85V222.73H373.57V229.65H378.30V233.11H384.60V235.42H389.32V238.88H395.62V243.50H403.50V246.96H411.38V251.58H419.25V255.04H425.55V259.65H442.88V270.04H505.88" stroke="#cf2e2a" stroke-width="1.0" fill="none"/>
<path d="M407.42 245.86v2.2M406.52 246.96h1.8M484.70 268.94v2.2M483.80 270.04h1.8M408.90 245.86v2.2M408.00 246.96h1.8M484.22 268.94v2.2M483.32 270.04h1.8M455.09 268.94v2.2M454.19 270.04h1.8M364.45 215.86v2.2M363.55 216.96h1.8M500.84 268.94v2.2M499.94 270.04h1.8M475.55 268.94v2.2M474.65 270.04h1.8M390.89 237.78v2.2M389.99 238.88h1.8M447.78 268.94v2.2M446.88 270.04h1.8" stroke="#cf2e2a" stroke-width="0.8" fill="none"/>
<path d="M333.4 195.2V321.2H505.9" fill="none" stroke="#1a1a1a" stroke-width="1.1"/>
<path d="M330.4 200.80H333.4" stroke="#222" stroke-width="0.8"/>
<text x="327.80" y="202.90" font-size="5.9" fill="#333" stroke="#333" stroke-width="0.16" text-anchor="end" textLength="12.3" lengthAdjust="spacingAndGlyphs">1.00</text>
<path d="M330.4 229.65H333.4" stroke="#222" stroke-width="0.8"/>
<text x="327.80" y="231.75" font-size="5.9" fill="#333" stroke="#333" stroke-width="0.16" text-anchor="end" textLength="12.3" lengthAdjust="spacingAndGlyphs">0.75</text>
<path d="M330.4 258.50H333.4" stroke="#222" stroke-width="0.8"/>
<text x="327.80" y="260.60" font-size="5.9" fill="#333" stroke="#333" stroke-width="0.16" text-anchor="end" textLength="12.3" lengthAdjust="spacingAndGlyphs">0.50</text>
<path d="M330.4 287.35H333.4" stroke="#222" stroke-width="0.8"/>
<text x="327.80" y="289.45" font-size="5.9" fill="#333" stroke="#333" stroke-width="0.16" text-anchor="end" textLength="12.3" lengthAdjust="spacingAndGlyphs">0.25</text>
<path d="M330.4 316.20H333.4" stroke="#222" stroke-width="0.8"/>
<text x="327.80" y="318.30" font-size="5.9" fill="#333" stroke="#333" stroke-width="0.16" text-anchor="end" textLength="12.3" lengthAdjust="spacingAndGlyphs">0.00</text>
<path d="M340.50 321.2V324.2" stroke="#222" stroke-width="0.8"/>
<path d="M356.25 321.2V324.2" stroke="#222" stroke-width="0.8"/>
<path d="M372.00 321.2V324.2" stroke="#222" stroke-width="0.8"/>
<path d="M387.75 321.2V324.2" stroke="#222" stroke-width="0.8"/>
<path d="M403.50 321.2V324.2" stroke="#222" stroke-width="0.8"/>
<path d="M419.25 321.2V324.2" stroke="#222" stroke-width="0.8"/>
<path d="M435.00 321.2V324.2" stroke="#222" stroke-width="0.8"/>
<path d="M450.75 321.2V324.2" stroke="#222" stroke-width="0.8"/>
<path d="M466.50 321.2V324.2" stroke="#222" stroke-width="0.8"/>
<path d="M482.25 321.2V324.2" stroke="#222" stroke-width="0.8"/>
<path d="M498.00 321.2V324.2" stroke="#222" stroke-width="0.8"/>
<text x="0" y="0" font-size="7.0" fill="#333" text-anchor="middle" textLength="46.4" lengthAdjust="spacingAndGlyphs" transform="translate(310.2 258.3) rotate(-90)">Overall survival</text>
<text x="345.0" y="294.60" font-size="6.3" fill="#333"><tspan font-style="italic">P</tspan> &lt; .001</text>
<text x="333.40" y="336.00" font-size="6.4" fill="#333" stroke="#333" stroke-width="0.16" textLength="41.5" lengthAdjust="spacingAndGlyphs">Number at risk</text>
<path d="M333.4 340.2V398.3H505.9" fill="none" stroke="#1a1a1a" stroke-width="1.1"/>
<path d="M331 344.20H333.4" stroke="#222" stroke-width="0.8"/>
<path d="M311.3 344.20H316.5" stroke="#a6cee3" stroke-width="1.0"/>
<text x="319.80" y="346.50" font-size="6.3" fill="#8fb8d0" stroke="#8fb8d0" stroke-width="0.16">S1</text>
<text x="340.50" y="346.60" font-size="6.6" fill="#333" stroke="#333" stroke-width="0.16" text-anchor="middle" textLength="6.9" lengthAdjust="spacingAndGlyphs">60</text>
<text x="356.25" y="346.60" font-size="6.6" fill="#333" stroke="#333" stroke-width="0.16" text-anchor="middle" textLength="6.9" lengthAdjust="spacingAndGlyphs">58</text>
<text x="372.00" y="346.60" font-size="6.6" fill="#333" stroke="#333" stroke-width="0.16" text-anchor="middle" textLength="6.9" lengthAdjust="spacingAndGlyphs">54</text>
<text x="387.75" y="346.60" font-size="6.6" fill="#333" stroke="#333" stroke-width="0.16" text-anchor="middle" textLength="6.9" lengthAdjust="spacingAndGlyphs">49</text>
<text x="403.50" y="346.60" font-size="6.6" fill="#333" stroke="#333" stroke-width="0.16" text-anchor="middle" textLength="6.9" lengthAdjust="spacingAndGlyphs">44</text>
<text x="419.25" y="346.60" font-size="6.6" fill="#333" stroke="#333" stroke-width="0.16" text-anchor="middle" textLength="6.9" lengthAdjust="spacingAndGlyphs">38</text>
<text x="435.00" y="346.60" font-size="6.6" fill="#333" stroke="#333" stroke-width="0.16" text-anchor="middle" textLength="6.9" lengthAdjust="spacingAndGlyphs">25</text>
<text x="450.75" y="346.60" font-size="6.6" fill="#333" stroke="#333" stroke-width="0.16" text-anchor="middle" textLength="6.9" lengthAdjust="spacingAndGlyphs">19</text>
<text x="466.50" y="346.60" font-size="6.6" fill="#333" stroke="#333" stroke-width="0.16" text-anchor="middle" textLength="6.9" lengthAdjust="spacingAndGlyphs">16</text>
<text x="482.25" y="346.60" font-size="6.6" fill="#333" stroke="#333" stroke-width="0.16" text-anchor="middle" textLength="6.9" lengthAdjust="spacingAndGlyphs">10</text>
<text x="498.00" y="346.60" font-size="6.6" fill="#333" stroke="#333" stroke-width="0.16" text-anchor="middle" textLength="3.45" lengthAdjust="spacingAndGlyphs">8</text>
<path d="M331 350.96H333.4" stroke="#222" stroke-width="0.8"/>
<path d="M311.3 350.96H316.5" stroke="#1f78b4" stroke-width="1.0"/>
<text x="319.80" y="353.26" font-size="6.3" fill="#2f6fa8" stroke="#2f6fa8" stroke-width="0.16">S2</text>
<text x="340.50" y="353.36" font-size="6.6" fill="#333" stroke="#333" stroke-width="0.16" text-anchor="middle" textLength="6.9" lengthAdjust="spacingAndGlyphs">49</text>
<text x="356.25" y="353.36" font-size="6.6" fill="#333" stroke="#333" stroke-width="0.16" text-anchor="middle" textLength="6.9" lengthAdjust="spacingAndGlyphs">39</text>
<text x="372.00" y="353.36" font-size="6.6" fill="#333" stroke="#333" stroke-width="0.16" text-anchor="middle" textLength="6.9" lengthAdjust="spacingAndGlyphs">35</text>
<text x="387.75" y="353.36" font-size="6.6" fill="#333" stroke="#333" stroke-width="0.16" text-anchor="middle" textLength="6.9" lengthAdjust="spacingAndGlyphs">30</text>
<text x="403.50" y="353.36" font-size="6.6" fill="#333" stroke="#333" stroke-width="0.16" text-anchor="middle" textLength="6.9" lengthAdjust="spacingAndGlyphs">25</text>
<text x="419.25" y="353.36" font-size="6.6" fill="#333" stroke="#333" stroke-width="0.16" text-anchor="middle" textLength="6.9" lengthAdjust="spacingAndGlyphs">19</text>
<text x="435.00" y="353.36" font-size="6.6" fill="#333" stroke="#333" stroke-width="0.16" text-anchor="middle" textLength="6.9" lengthAdjust="spacingAndGlyphs">14</text>
<text x="450.75" y="353.36" font-size="6.6" fill="#333" stroke="#333" stroke-width="0.16" text-anchor="middle" textLength="6.9" lengthAdjust="spacingAndGlyphs">10</text>
<text x="466.50" y="353.36" font-size="6.6" fill="#333" stroke="#333" stroke-width="0.16" text-anchor="middle" textLength="3.45" lengthAdjust="spacingAndGlyphs">9</text>
<text x="482.25" y="353.36" font-size="6.6" fill="#333" stroke="#333" stroke-width="0.16" text-anchor="middle" textLength="3.45" lengthAdjust="spacingAndGlyphs">7</text>
<text x="498.00" y="353.36" font-size="6.6" fill="#333" stroke="#333" stroke-width="0.16" text-anchor="middle" textLength="3.45" lengthAdjust="spacingAndGlyphs">3</text>
<path d="M331 357.72H333.4" stroke="#222" stroke-width="0.8"/>
<path d="M311.3 357.72H316.5" stroke="#33a02c" stroke-width="1.0"/>
<text x="319.80" y="360.02" font-size="6.3" fill="#3f8f3a" stroke="#3f8f3a" stroke-width="0.16">S3</text>
<text x="340.50" y="360.12" font-size="6.6" fill="#333" stroke="#333" stroke-width="0.16" text-anchor="middle" textLength="6.9" lengthAdjust="spacingAndGlyphs">42</text>
<text x="356.25" y="360.12" font-size="6.6" fill="#333" stroke="#333" stroke-width="0.16" text-anchor="middle" textLength="6.9" lengthAdjust="spacingAndGlyphs">34</text>
<text x="372.00" y="360.12" font-size="6.6" fill="#333" stroke="#333" stroke-width="0.16" text-anchor="middle" textLength="6.9" lengthAdjust="spacingAndGlyphs">31</text>
<text x="387.75" y="360.12" font-size="6.6" fill="#333" stroke="#333" stroke-width="0.16" text-anchor="middle" textLength="6.9" lengthAdjust="spacingAndGlyphs">27</text>
<text x="403.50" y="360.12" font-size="6.6" fill="#333" stroke="#333" stroke-width="0.16" text-anchor="middle" textLength="6.9" lengthAdjust="spacingAndGlyphs">25</text>
<text x="419.25" y="360.12" font-size="6.6" fill="#333" stroke="#333" stroke-width="0.16" text-anchor="middle" textLength="6.9" lengthAdjust="spacingAndGlyphs">20</text>
<text x="435.00" y="360.12" font-size="6.6" fill="#333" stroke="#333" stroke-width="0.16" text-anchor="middle" textLength="6.9" lengthAdjust="spacingAndGlyphs">12</text>
<text x="450.75" y="360.12" font-size="6.6" fill="#333" stroke="#333" stroke-width="0.16" text-anchor="middle" textLength="6.9" lengthAdjust="spacingAndGlyphs">11</text>
<text x="466.50" y="360.12" font-size="6.6" fill="#333" stroke="#333" stroke-width="0.16" text-anchor="middle" textLength="3.45" lengthAdjust="spacingAndGlyphs">8</text>
<text x="482.25" y="360.12" font-size="6.6" fill="#333" stroke="#333" stroke-width="0.16" text-anchor="middle" textLength="3.45" lengthAdjust="spacingAndGlyphs">3</text>
<text x="498.00" y="360.12" font-size="6.6" fill="#333" stroke="#333" stroke-width="0.16" text-anchor="middle" textLength="3.45" lengthAdjust="spacingAndGlyphs">1</text>
<path d="M331 364.48H333.4" stroke="#222" stroke-width="0.8"/>
<path d="M311.3 364.48H316.5" stroke="#b2df8a" stroke-width="1.0"/>
<text x="319.80" y="366.78" font-size="6.3" fill="#9ac77a" stroke="#9ac77a" stroke-width="0.16">S4</text>
<text x="340.50" y="366.88" font-size="6.6" fill="#333" stroke="#333" stroke-width="0.16" text-anchor="middle" textLength="6.9" lengthAdjust="spacingAndGlyphs">45</text>
<text x="356.25" y="366.88" font-size="6.6" fill="#333" stroke="#333" stroke-width="0.16" text-anchor="middle" textLength="6.9" lengthAdjust="spacingAndGlyphs">40</text>
<text x="372.00" y="366.88" font-size="6.6" fill="#333" stroke="#333" stroke-width="0.16" text-anchor="middle" textLength="6.9" lengthAdjust="spacingAndGlyphs">39</text>
<text x="387.75" y="366.88" font-size="6.6" fill="#333" stroke="#333" stroke-width="0.16" text-anchor="middle" textLength="6.9" lengthAdjust="spacingAndGlyphs">37</text>
<text x="403.50" y="366.88" font-size="6.6" fill="#333" stroke="#333" stroke-width="0.16" text-anchor="middle" textLength="6.9" lengthAdjust="spacingAndGlyphs">36</text>
<text x="419.25" y="366.88" font-size="6.6" fill="#333" stroke="#333" stroke-width="0.16" text-anchor="middle" textLength="6.9" lengthAdjust="spacingAndGlyphs">33</text>
<text x="435.00" y="366.88" font-size="6.6" fill="#333" stroke="#333" stroke-width="0.16" text-anchor="middle" textLength="6.9" lengthAdjust="spacingAndGlyphs">25</text>
<text x="450.75" y="366.88" font-size="6.6" fill="#333" stroke="#333" stroke-width="0.16" text-anchor="middle" textLength="6.9" lengthAdjust="spacingAndGlyphs">22</text>
<text x="466.50" y="366.88" font-size="6.6" fill="#333" stroke="#333" stroke-width="0.16" text-anchor="middle" textLength="6.9" lengthAdjust="spacingAndGlyphs">20</text>
<text x="482.25" y="366.88" font-size="6.6" fill="#333" stroke="#333" stroke-width="0.16" text-anchor="middle" textLength="6.9" lengthAdjust="spacingAndGlyphs">19</text>
<text x="498.00" y="366.88" font-size="6.6" fill="#333" stroke="#333" stroke-width="0.16" text-anchor="middle" textLength="6.9" lengthAdjust="spacingAndGlyphs">15</text>
<path d="M331 371.24H333.4" stroke="#222" stroke-width="0.8"/>
<path d="M311.3 371.24H316.5" stroke="#fb9a99" stroke-width="1.0"/>
<text x="319.80" y="373.54" font-size="6.3" fill="#e99a9a" stroke="#e99a9a" stroke-width="0.16">S5</text>
<text x="340.50" y="373.64" font-size="6.6" fill="#333" stroke="#333" stroke-width="0.16" text-anchor="middle" textLength="6.9" lengthAdjust="spacingAndGlyphs">55</text>
<text x="356.25" y="373.64" font-size="6.6" fill="#333" stroke="#333" stroke-width="0.16" text-anchor="middle" textLength="6.9" lengthAdjust="spacingAndGlyphs">47</text>
<text x="372.00" y="373.64" font-size="6.6" fill="#333" stroke="#333" stroke-width="0.16" text-anchor="middle" textLength="6.9" lengthAdjust="spacingAndGlyphs">44</text>
<text x="387.75" y="373.64" font-size="6.6" fill="#333" stroke="#333" stroke-width="0.16" text-anchor="middle" textLength="6.9" lengthAdjust="spacingAndGlyphs">41</text>
<text x="403.50" y="373.64" font-size="6.6" fill="#333" stroke="#333" stroke-width="0.16" text-anchor="middle" textLength="6.9" lengthAdjust="spacingAndGlyphs">37</text>
<text x="419.25" y="373.64" font-size="6.6" fill="#333" stroke="#333" stroke-width="0.16" text-anchor="middle" textLength="6.9" lengthAdjust="spacingAndGlyphs">33</text>
<text x="435.00" y="373.64" font-size="6.6" fill="#333" stroke="#333" stroke-width="0.16" text-anchor="middle" textLength="6.9" lengthAdjust="spacingAndGlyphs">24</text>
<text x="450.75" y="373.64" font-size="6.6" fill="#333" stroke="#333" stroke-width="0.16" text-anchor="middle" textLength="6.9" lengthAdjust="spacingAndGlyphs">19</text>
<text x="466.50" y="373.64" font-size="6.6" fill="#333" stroke="#333" stroke-width="0.16" text-anchor="middle" textLength="6.9" lengthAdjust="spacingAndGlyphs">16</text>
<text x="482.25" y="373.64" font-size="6.6" fill="#333" stroke="#333" stroke-width="0.16" text-anchor="middle" textLength="6.9" lengthAdjust="spacingAndGlyphs">10</text>
<text x="498.00" y="373.64" font-size="6.6" fill="#333" stroke="#333" stroke-width="0.16" text-anchor="middle" textLength="3.45" lengthAdjust="spacingAndGlyphs">6</text>
<path d="M331 378.00H333.4" stroke="#222" stroke-width="0.8"/>
<path d="M311.3 378.00H316.5" stroke="#fdbf6f" stroke-width="1.0"/>
<text x="319.80" y="380.30" font-size="6.3" fill="#e8b47a" stroke="#e8b47a" stroke-width="0.16">S6</text>
<text x="340.50" y="380.40" font-size="6.6" fill="#333" stroke="#333" stroke-width="0.16" text-anchor="middle" textLength="6.9" lengthAdjust="spacingAndGlyphs">39</text>
<text x="356.25" y="380.40" font-size="6.6" fill="#333" stroke="#333" stroke-width="0.16" text-anchor="middle" textLength="6.9" lengthAdjust="spacingAndGlyphs">31</text>
<text x="372.00" y="380.40" font-size="6.6" fill="#333" stroke="#333" stroke-width="0.16" text-anchor="middle" textLength="6.9" lengthAdjust="spacingAndGlyphs">28</text>
<text x="387.75" y="380.40" font-size="6.6" fill="#333" stroke="#333" stroke-width="0.16" text-anchor="middle" textLength="6.9" lengthAdjust="spacingAndGlyphs">27</text>
<text x="403.50" y="380.40" font-size="6.6" fill="#333" stroke="#333" stroke-width="0.16" text-anchor="middle" textLength="6.9" lengthAdjust="spacingAndGlyphs">23</text>
<text x="419.25" y="380.40" font-size="6.6" fill="#333" stroke="#333" stroke-width="0.16" text-anchor="middle" textLength="6.9" lengthAdjust="spacingAndGlyphs">16</text>
<text x="435.00" y="380.40" font-size="6.6" fill="#333" stroke="#333" stroke-width="0.16" text-anchor="middle" textLength="6.9" lengthAdjust="spacingAndGlyphs">14</text>
<text x="450.75" y="380.40" font-size="6.6" fill="#333" stroke="#333" stroke-width="0.16" text-anchor="middle" textLength="6.9" lengthAdjust="spacingAndGlyphs">11</text>
<text x="466.50" y="380.40" font-size="6.6" fill="#333" stroke="#333" stroke-width="0.16" text-anchor="middle" textLength="6.9" lengthAdjust="spacingAndGlyphs">11</text>
<text x="482.25" y="380.40" font-size="6.6" fill="#333" stroke="#333" stroke-width="0.16" text-anchor="middle" textLength="3.45" lengthAdjust="spacingAndGlyphs">9</text>
<text x="498.00" y="380.40" font-size="6.6" fill="#333" stroke="#333" stroke-width="0.16" text-anchor="middle" textLength="3.45" lengthAdjust="spacingAndGlyphs">7</text>
<path d="M331 384.76H333.4" stroke="#222" stroke-width="0.8"/>
<path d="M311.3 384.76H316.5" stroke="#cf2e2a" stroke-width="1.0"/>
<text x="319.80" y="387.06" font-size="6.3" fill="#c8363a" stroke="#c8363a" stroke-width="0.16">S7</text>
<text x="340.50" y="387.16" font-size="6.6" fill="#333" stroke="#333" stroke-width="0.16" text-anchor="middle" textLength="6.9" lengthAdjust="spacingAndGlyphs">36</text>
<text x="356.25" y="387.16" font-size="6.6" fill="#333" stroke="#333" stroke-width="0.16" text-anchor="middle" textLength="6.9" lengthAdjust="spacingAndGlyphs">31</text>
<text x="372.00" y="387.16" font-size="6.6" fill="#333" stroke="#333" stroke-width="0.16" text-anchor="middle" textLength="6.9" lengthAdjust="spacingAndGlyphs">26</text>
<text x="387.75" y="387.16" font-size="6.6" fill="#333" stroke="#333" stroke-width="0.16" text-anchor="middle" textLength="6.9" lengthAdjust="spacingAndGlyphs">22</text>
<text x="403.50" y="387.16" font-size="6.6" fill="#333" stroke="#333" stroke-width="0.16" text-anchor="middle" textLength="6.9" lengthAdjust="spacingAndGlyphs">20</text>
<text x="419.25" y="387.16" font-size="6.6" fill="#333" stroke="#333" stroke-width="0.16" text-anchor="middle" textLength="6.9" lengthAdjust="spacingAndGlyphs">18</text>
<text x="435.00" y="387.16" font-size="6.6" fill="#333" stroke="#333" stroke-width="0.16" text-anchor="middle" textLength="6.9" lengthAdjust="spacingAndGlyphs">10</text>
<text x="450.75" y="387.16" font-size="6.6" fill="#333" stroke="#333" stroke-width="0.16" text-anchor="middle" textLength="3.45" lengthAdjust="spacingAndGlyphs">5</text>
<text x="466.50" y="387.16" font-size="6.6" fill="#333" stroke="#333" stroke-width="0.16" text-anchor="middle" textLength="3.45" lengthAdjust="spacingAndGlyphs">4</text>
<text x="482.25" y="387.16" font-size="6.6" fill="#333" stroke="#333" stroke-width="0.16" text-anchor="middle" textLength="3.45" lengthAdjust="spacingAndGlyphs">3</text>
<text x="498.00" y="387.16" font-size="6.6" fill="#333" stroke="#333" stroke-width="0.16" text-anchor="middle" textLength="3.45" lengthAdjust="spacingAndGlyphs">3</text>
<path d="M331 391.52H333.4" stroke="#222" stroke-width="0.8"/>
<path d="M311.3 391.52H316.5" stroke="#f5842a" stroke-width="1.0"/>
<text x="319.80" y="393.82" font-size="6.3" fill="#e8a070" stroke="#e8a070" stroke-width="0.16">S8</text>
<text x="340.50" y="393.92" font-size="6.6" fill="#333" stroke="#333" stroke-width="0.16" text-anchor="middle" textLength="6.9" lengthAdjust="spacingAndGlyphs">36</text>
<text x="356.25" y="393.92" font-size="6.6" fill="#333" stroke="#333" stroke-width="0.16" text-anchor="middle" textLength="6.9" lengthAdjust="spacingAndGlyphs">35</text>
<text x="372.00" y="393.92" font-size="6.6" fill="#333" stroke="#333" stroke-width="0.16" text-anchor="middle" textLength="6.9" lengthAdjust="spacingAndGlyphs">32</text>
<text x="387.75" y="393.92" font-size="6.6" fill="#333" stroke="#333" stroke-width="0.16" text-anchor="middle" textLength="6.9" lengthAdjust="spacingAndGlyphs">32</text>
<text x="403.50" y="393.92" font-size="6.6" fill="#333" stroke="#333" stroke-width="0.16" text-anchor="middle" textLength="6.9" lengthAdjust="spacingAndGlyphs">28</text>
<text x="419.25" y="393.92" font-size="6.6" fill="#333" stroke="#333" stroke-width="0.16" text-anchor="middle" textLength="6.9" lengthAdjust="spacingAndGlyphs">24</text>
<text x="435.00" y="393.92" font-size="6.6" fill="#333" stroke="#333" stroke-width="0.16" text-anchor="middle" textLength="6.9" lengthAdjust="spacingAndGlyphs">18</text>
<text x="450.75" y="393.92" font-size="6.6" fill="#333" stroke="#333" stroke-width="0.16" text-anchor="middle" textLength="6.9" lengthAdjust="spacingAndGlyphs">16</text>
<text x="466.50" y="393.92" font-size="6.6" fill="#333" stroke="#333" stroke-width="0.16" text-anchor="middle" textLength="6.9" lengthAdjust="spacingAndGlyphs">15</text>
<text x="482.25" y="393.92" font-size="6.6" fill="#333" stroke="#333" stroke-width="0.16" text-anchor="middle" textLength="6.9" lengthAdjust="spacingAndGlyphs">11</text>
<text x="498.00" y="393.92" font-size="6.6" fill="#333" stroke="#333" stroke-width="0.16" text-anchor="middle" textLength="3.45" lengthAdjust="spacingAndGlyphs">8</text>
<path d="M340.50 398.2V401.3" stroke="#222" stroke-width="0.8"/>
<text x="340.50" y="410.30" font-size="7.1" fill="#333" stroke="#333" stroke-width="0.16" text-anchor="middle" textLength="3.45" lengthAdjust="spacingAndGlyphs">0</text>
<path d="M356.25 398.2V401.3" stroke="#222" stroke-width="0.8"/>
<text x="356.25" y="410.30" font-size="7.1" fill="#333" stroke="#333" stroke-width="0.16" text-anchor="middle" textLength="10.35" lengthAdjust="spacingAndGlyphs">100</text>
<path d="M372.00 398.2V401.3" stroke="#222" stroke-width="0.8"/>
<text x="372.00" y="410.30" font-size="7.1" fill="#333" stroke="#333" stroke-width="0.16" text-anchor="middle" textLength="10.35" lengthAdjust="spacingAndGlyphs">200</text>
<path d="M387.75 398.2V401.3" stroke="#222" stroke-width="0.8"/>
<text x="387.75" y="410.30" font-size="7.1" fill="#333" stroke="#333" stroke-width="0.16" text-anchor="middle" textLength="10.35" lengthAdjust="spacingAndGlyphs">300</text>
<path d="M403.50 398.2V401.3" stroke="#222" stroke-width="0.8"/>
<text x="403.50" y="410.30" font-size="7.1" fill="#333" stroke="#333" stroke-width="0.16" text-anchor="middle" textLength="10.35" lengthAdjust="spacingAndGlyphs">400</text>
<path d="M419.25 398.2V401.3" stroke="#222" stroke-width="0.8"/>
<text x="419.25" y="410.30" font-size="7.1" fill="#333" stroke="#333" stroke-width="0.16" text-anchor="middle" textLength="10.35" lengthAdjust="spacingAndGlyphs">500</text>
<path d="M435.00 398.2V401.3" stroke="#222" stroke-width="0.8"/>
<text x="435.00" y="410.30" font-size="7.1" fill="#333" stroke="#333" stroke-width="0.16" text-anchor="middle" textLength="10.35" lengthAdjust="spacingAndGlyphs">600</text>
<path d="M450.75 398.2V401.3" stroke="#222" stroke-width="0.8"/>
<text x="450.75" y="410.30" font-size="7.1" fill="#333" stroke="#333" stroke-width="0.16" text-anchor="middle" textLength="10.35" lengthAdjust="spacingAndGlyphs">700</text>
<path d="M466.50 398.2V401.3" stroke="#222" stroke-width="0.8"/>
<text x="466.50" y="410.30" font-size="7.1" fill="#333" stroke="#333" stroke-width="0.16" text-anchor="middle" textLength="10.35" lengthAdjust="spacingAndGlyphs">800</text>
<path d="M482.25 398.2V401.3" stroke="#222" stroke-width="0.8"/>
<text x="482.25" y="410.30" font-size="7.1" fill="#333" stroke="#333" stroke-width="0.16" text-anchor="middle" textLength="10.35" lengthAdjust="spacingAndGlyphs">900</text>
<path d="M498.00 398.2V401.3" stroke="#222" stroke-width="0.8"/>
<text x="498.00" y="410.30" font-size="7.1" fill="#333" stroke="#333" stroke-width="0.16" text-anchor="middle" textLength="13.8" lengthAdjust="spacingAndGlyphs">1000</text>
<text x="419.50" y="421.40" font-size="8.4" fill="#333" stroke="#333" stroke-width="0.16" text-anchor="middle" textLength="33.6" lengthAdjust="spacingAndGlyphs">Time (days)</text>
<text x="294.50" y="437.30" font-size="10.8" fill="#111" font-weight="bold">F</text>
<path d="M340.50 498.10H419.56" stroke="#9a9a9a" stroke-width="0.7" fill="none"/>
<path d="M393.58 498.10V555.80" stroke="#a8a8a8" stroke-width="0.6" fill="none"/>
<path d="M397.20 498.10V555.80" stroke="#a8a8a8" stroke-width="0.6" fill="none"/>
<path d="M410.12 498.10V555.80" stroke="#a8a8a8" stroke-width="0.6" fill="none"/>
<path d="M419.56 498.10V555.80" stroke="#a8a8a8" stroke-width="0.6" fill="none"/>
<path d="M340.50 440.40H343.65V442.71H349.95V445.02H356.25V447.32H364.12V449.63H381.45V453.09H392.48V456.56H398.77V458.86H403.50V461.75H505.88" stroke="#b2df8a" stroke-width="1.0" fill="none"/>
<path d="M395.91 455.46v2.2M395.01 456.56h1.8M461.40 460.65v2.2M460.50 461.75h1.8M423.42 460.65v2.2M422.52 461.75h1.8M362.49 446.22v2.2M361.59 447.32h1.8M351.48 443.92v2.2M350.58 445.02h1.8M434.47 460.65v2.2M433.57 461.75h1.8M393.72 455.46v2.2M392.82 456.56h1.8M503.52 460.65v2.2M502.62 461.75h1.8M357.60 446.22v2.2M356.70 447.32h1.8M429.92 460.65v2.2M429.02 461.75h1.8M404.83 460.65v2.2M403.93 461.75h1.8M470.57 460.65v2.2M469.67 461.75h1.8M477.96 460.65v2.2M477.06 461.75h1.8M389.39 451.99v2.2M388.49 453.09h1.8M496.15 460.65v2.2M495.25 461.75h1.8" stroke="#b2df8a" stroke-width="0.8" fill="none"/>
<path d="M340.50 440.40H346.80V445.02H354.68V449.63H364.12V453.09H375.15V457.71H387.75V463.48H397.20V469.25H403.50V473.87H409.80V477.33H419.25V481.94H428.70V485.41H435.00V487.14H505.88" stroke="#fdbf6f" stroke-width="1.0" fill="none"/>
<path d="M478.28 486.04v2.2M477.38 487.14h1.8M474.79 486.04v2.2M473.89 487.14h1.8M473.82 486.04v2.2M472.92 487.14h1.8M378.69 456.61v2.2M377.79 457.71h1.8M396.93 462.38v2.2M396.03 463.48h1.8M446.63 486.04v2.2M445.73 487.14h1.8M463.07 486.04v2.2M462.17 487.14h1.8M482.31 486.04v2.2M481.41 487.14h1.8M486.29 486.04v2.2M485.39 487.14h1.8M361.96 448.53v2.2M361.06 449.63h1.8M443.32 486.04v2.2M442.42 487.14h1.8M453.64 486.04v2.2M452.74 487.14h1.8M427.66 480.84v2.2M426.76 481.94h1.8M376.24 456.61v2.2M375.34 457.71h1.8" stroke="#fdbf6f" stroke-width="0.8" fill="none"/>
<path d="M340.50 440.40H348.38V442.36H356.25V444.21H364.12V446.17H372.00V448.48H376.73V454.25H390.90V457.71H400.35V461.17H408.23V469.25H414.52V472.71H422.40V476.17H430.27V479.64H439.73V483.10H505.88" stroke="#a6cee3" stroke-width="1.0" fill="none"/>
<path d="M392.25 456.61v2.2M391.35 457.71h1.8M496.40 482.00v2.2M495.50 483.10h1.8M476.55 482.00v2.2M475.65 483.10h1.8M496.03 482.00v2.2M495.13 483.10h1.8M480.09 482.00v2.2M479.19 483.10h1.8M349.51 441.26v2.2M348.61 442.36h1.8M394.13 456.61v2.2M393.23 457.71h1.8M458.84 482.00v2.2M457.94 483.10h1.8M397.23 456.61v2.2M396.33 457.71h1.8M468.29 482.00v2.2M467.39 483.10h1.8M378.95 453.15v2.2M378.05 454.25h1.8M414.78 471.61v2.2M413.88 472.71h1.8M393.54 456.61v2.2M392.64 457.71h1.8M419.11 471.61v2.2M418.21 472.71h1.8M384.92 453.15v2.2M384.02 454.25h1.8M389.07 453.15v2.2M388.17 454.25h1.8M473.34 482.00v2.2M472.44 483.10h1.8" stroke="#a6cee3" stroke-width="0.8" fill="none"/>
<path d="M340.50 440.40H343.65V443.86H348.38V448.48H353.10V453.09H357.98V458.86H364.12V463.48H370.27V469.25H376.73V473.87H381.13V477.33H388.69V480.79H395.62V483.10H403.50V485.41H411.38V487.71H419.25V490.02H427.12V492.33H432.64V494.06H441.30V501.56H449.49V507.68H499.89V516.56H505.88" stroke="#fb9a99" stroke-width="1.0" fill="none"/>
<path d="M355.63 451.99v2.2M354.73 453.09h1.8M446.53 500.46v2.2M445.63 501.56h1.8M392.32 479.69v2.2M391.42 480.79h1.8M432.16 491.23v2.2M431.26 492.33h1.8M422.22 488.92v2.2M421.32 490.02h1.8M402.10 482.00v2.2M401.20 483.10h1.8M504.66 515.46v2.2M503.76 516.56h1.8" stroke="#fb9a99" stroke-width="0.8" fill="none"/>
<path d="M340.50 440.40H350.58V443.86H359.40V446.17H365.70V448.48H373.42V454.25H378.30V456.56H386.18V458.86H392.00V463.48H398.77V465.79H403.50V470.40H411.38V472.71H417.68V477.33H423.98V481.94H430.27V486.56H438.15V490.02H505.88" stroke="#f5842a" stroke-width="1.0" fill="none"/>
<path d="M358.79 442.76v2.2M357.89 443.86h1.8M491.54 488.92v2.2M490.64 490.02h1.8M447.89 488.92v2.2M446.99 490.02h1.8M417.51 471.61v2.2M416.61 472.71h1.8M377.16 453.15v2.2M376.26 454.25h1.8M416.69 471.61v2.2M415.79 472.71h1.8M440.64 488.92v2.2M439.74 490.02h1.8M447.80 488.92v2.2M446.90 490.02h1.8M379.52 455.46v2.2M378.62 456.56h1.8M399.08 464.69v2.2M398.18 465.79h1.8M479.92 488.92v2.2M479.02 490.02h1.8M459.35 488.92v2.2M458.45 490.02h1.8M391.86 457.76v2.2M390.96 458.86h1.8M439.61 488.92v2.2M438.71 490.02h1.8M483.48 488.92v2.2M482.58 490.02h1.8" stroke="#f5842a" stroke-width="0.8" fill="none"/>
<path d="M340.50 440.40H342.07V446.17H345.23V451.94H349.95V455.40H356.25V458.86H362.55V463.48H367.27V466.94H370.43V470.40H375.15V476.17H378.93V481.94H384.60V485.41H387.59V487.71H394.05V494.64H406.65V496.95H414.52V499.25H428.70V502.72H449.18V508.49H461.77V513.10H466.50V523.49H502.73" stroke="#33a02c" stroke-width="1.0" fill="none"/>
<path d="M399.21 493.54v2.2M398.31 494.64h1.8M375.64 475.07v2.2M374.74 476.17h1.8M418.86 498.15v2.2M417.96 499.25h1.8M354.95 454.30v2.2M354.05 455.40h1.8M455.45 507.39v2.2M454.55 508.49h1.8M485.96 522.39v2.2M485.06 523.49h1.8M494.99 522.39v2.2M494.09 523.49h1.8" stroke="#33a02c" stroke-width="0.8" fill="none"/>
<path d="M340.50 440.40H342.07V443.86H345.23V448.48H348.38V454.25H353.10V457.71H357.82V461.17H362.55V465.79H367.27V470.40H370.43V476.17H375.15V480.79H378.93V485.41H383.02V488.87H387.59V490.60H394.52V495.79H404.92V500.41H505.88" stroke="#1f78b4" stroke-width="1.0" fill="none"/>
<path d="M454.19 499.31v2.2M453.29 500.41h1.8M399.64 494.69v2.2M398.74 495.79h1.8M398.96 494.69v2.2M398.06 495.79h1.8M398.79 494.69v2.2M397.89 495.79h1.8M372.34 475.07v2.2M371.44 476.17h1.8M450.54 499.31v2.2M449.64 500.41h1.8M483.36 499.31v2.2M482.46 500.41h1.8M484.64 499.31v2.2M483.74 500.41h1.8M454.95 499.31v2.2M454.05 500.41h1.8M360.56 460.07v2.2M359.66 461.17h1.8M445.18 499.31v2.2M444.28 500.41h1.8M488.49 499.31v2.2M487.59 500.41h1.8" stroke="#1f78b4" stroke-width="0.8" fill="none"/>
<path d="M340.50 440.40H343.65V443.86H345.38V448.48H352.79V457.71H361.61V465.79H366.80V475.02H370.27V483.67H372.94V490.60H373.57V495.79H392.48V498.10H400.98V506.18H412.79V510.79H420.19V514.26H423.03V518.87H426.02V523.49H435.94V529.26H443.03V543.11H461.93" stroke="#cf2e2a" stroke-width="1.0" fill="none"/>
<path d="M363.76 464.69v2.2M362.86 465.79h1.8M391.41 494.69v2.2M390.51 495.79h1.8M456.84 542.01v2.2M455.94 543.11h1.8M385.74 494.69v2.2M384.84 495.79h1.8M349.43 447.38v2.2M348.53 448.48h1.8M353.43 456.61v2.2M352.53 457.71h1.8M367.50 473.92v2.2M366.60 475.02h1.8M436.76 528.16v2.2M435.86 529.26h1.8M389.28 494.69v2.2M388.38 495.79h1.8" stroke="#cf2e2a" stroke-width="0.8" fill="none"/>
<path d="M333.4 434.8V560.8H505.9" fill="none" stroke="#1a1a1a" stroke-width="1.1"/>
<path d="M330.4 440.40H333.4" stroke="#222" stroke-width="0.8"/>
<text x="327.80" y="442.50" font-size="5.9" fill="#333" stroke="#333" stroke-width="0.16" text-anchor="end" textLength="12.3" lengthAdjust="spacingAndGlyphs">1.00</text>
<path d="M330.4 469.25H333.4" stroke="#222" stroke-width="0.8"/>
<text x="327.80" y="471.35" font-size="5.9" fill="#333" stroke="#333" stroke-width="0.16" text-anchor="end" textLength="12.3" lengthAdjust="spacingAndGlyphs">0.75</text>
<path d="M330.4 498.10H333.4" stroke="#222" stroke-width="0.8"/>
<text x="327.80" y="500.20" font-size="5.9" fill="#333" stroke="#333" stroke-width="0.16" text-anchor="end" textLength="12.3" lengthAdjust="spacingAndGlyphs">0.50</text>
<path d="M330.4 526.95H333.4" stroke="#222" stroke-width="0.8"/>
<text x="327.80" y="529.05" font-size="5.9" fill="#333" stroke="#333" stroke-width="0.16" text-anchor="end" textLength="12.3" lengthAdjust="spacingAndGlyphs">0.25</text>
<path d="M330.4 555.80H333.4" stroke="#222" stroke-width="0.8"/>
<text x="327.80" y="557.90" font-size="5.9" fill="#333" stroke="#333" stroke-width="0.16" text-anchor="end" textLength="12.3" lengthAdjust="spacingAndGlyphs">0.00</text>
<path d="M340.50 560.8V563.8" stroke="#222" stroke-width="0.8"/>
<path d="M356.25 560.8V563.8" stroke="#222" stroke-width="0.8"/>
<path d="M372.00 560.8V563.8" stroke="#222" stroke-width="0.8"/>
<path d="M387.75 560.8V563.8" stroke="#222" stroke-width="0.8"/>
<path d="M403.50 560.8V563.8" stroke="#222" stroke-width="0.8"/>
<path d="M419.25 560.8V563.8" stroke="#222" stroke-width="0.8"/>
<path d="M435.00 560.8V563.8" stroke="#222" stroke-width="0.8"/>
<path d="M450.75 560.8V563.8" stroke="#222" stroke-width="0.8"/>
<path d="M466.50 560.8V563.8" stroke="#222" stroke-width="0.8"/>
<path d="M482.25 560.8V563.8" stroke="#222" stroke-width="0.8"/>
<path d="M498.00 560.8V563.8" stroke="#222" stroke-width="0.8"/>
<text x="0" y="0" font-size="7.0" fill="#333" text-anchor="middle" textLength="54.2" lengthAdjust="spacingAndGlyphs" transform="translate(310.2 497.9) rotate(-90)">Event-free survival</text>
<text x="345.0" y="534.20" font-size="6.3" fill="#333"><tspan font-style="italic">P</tspan> &lt; .001</text>
<text x="333.40" y="575.60" font-size="6.4" fill="#333" stroke="#333" stroke-width="0.16" textLength="41.5" lengthAdjust="spacingAndGlyphs">Number at risk</text>
<path d="M333.4 579.8V637.9H505.9" fill="none" stroke="#1a1a1a" stroke-width="1.1"/>
<path d="M331 583.80H333.4" stroke="#222" stroke-width="0.8"/>
<path d="M311.3 583.80H316.5" stroke="#a6cee3" stroke-width="1.0"/>
<text x="319.80" y="586.10" font-size="6.3" fill="#8fb8d0" stroke="#8fb8d0" stroke-width="0.16">S1</text>
<text x="340.50" y="586.20" font-size="6.6" fill="#333" stroke="#333" stroke-width="0.16" text-anchor="middle" textLength="6.9" lengthAdjust="spacingAndGlyphs">60</text>
<text x="356.25" y="586.20" font-size="6.6" fill="#333" stroke="#333" stroke-width="0.16" text-anchor="middle" textLength="6.9" lengthAdjust="spacingAndGlyphs">58</text>
<text x="372.00" y="586.20" font-size="6.6" fill="#333" stroke="#333" stroke-width="0.16" text-anchor="middle" textLength="6.9" lengthAdjust="spacingAndGlyphs">52</text>
<text x="387.75" y="586.20" font-size="6.6" fill="#333" stroke="#333" stroke-width="0.16" text-anchor="middle" textLength="6.9" lengthAdjust="spacingAndGlyphs">48</text>
<text x="403.50" y="586.20" font-size="6.6" fill="#333" stroke="#333" stroke-width="0.16" text-anchor="middle" textLength="6.9" lengthAdjust="spacingAndGlyphs">38</text>
<text x="419.25" y="586.20" font-size="6.6" fill="#333" stroke="#333" stroke-width="0.16" text-anchor="middle" textLength="6.9" lengthAdjust="spacingAndGlyphs">28</text>
<text x="435.00" y="586.20" font-size="6.6" fill="#333" stroke="#333" stroke-width="0.16" text-anchor="middle" textLength="6.9" lengthAdjust="spacingAndGlyphs">18</text>
<text x="450.75" y="586.20" font-size="6.6" fill="#333" stroke="#333" stroke-width="0.16" text-anchor="middle" textLength="6.9" lengthAdjust="spacingAndGlyphs">15</text>
<text x="466.50" y="586.20" font-size="6.6" fill="#333" stroke="#333" stroke-width="0.16" text-anchor="middle" textLength="6.9" lengthAdjust="spacingAndGlyphs">13</text>
<text x="482.25" y="586.20" font-size="6.6" fill="#333" stroke="#333" stroke-width="0.16" text-anchor="middle" textLength="3.45" lengthAdjust="spacingAndGlyphs">8</text>
<text x="498.00" y="586.20" font-size="6.6" fill="#333" stroke="#333" stroke-width="0.16" text-anchor="middle" textLength="3.45" lengthAdjust="spacingAndGlyphs">7</text>
<path d="M331 590.56H333.4" stroke="#222" stroke-width="0.8"/>
<path d="M311.3 590.56H316.5" stroke="#1f78b4" stroke-width="1.0"/>
<text x="319.80" y="592.86" font-size="6.3" fill="#2f6fa8" stroke="#2f6fa8" stroke-width="0.16">S2</text>
<text x="340.50" y="592.96" font-size="6.6" fill="#333" stroke="#333" stroke-width="0.16" text-anchor="middle" textLength="6.9" lengthAdjust="spacingAndGlyphs">49</text>
<text x="356.25" y="592.96" font-size="6.6" fill="#333" stroke="#333" stroke-width="0.16" text-anchor="middle" textLength="6.9" lengthAdjust="spacingAndGlyphs">37</text>
<text x="372.00" y="592.96" font-size="6.6" fill="#333" stroke="#333" stroke-width="0.16" text-anchor="middle" textLength="6.9" lengthAdjust="spacingAndGlyphs">31</text>
<text x="387.75" y="592.96" font-size="6.6" fill="#333" stroke="#333" stroke-width="0.16" text-anchor="middle" textLength="6.9" lengthAdjust="spacingAndGlyphs">25</text>
<text x="403.50" y="592.96" font-size="6.6" fill="#333" stroke="#333" stroke-width="0.16" text-anchor="middle" textLength="6.9" lengthAdjust="spacingAndGlyphs">20</text>
<text x="419.25" y="592.96" font-size="6.6" fill="#333" stroke="#333" stroke-width="0.16" text-anchor="middle" textLength="6.9" lengthAdjust="spacingAndGlyphs">14</text>
<text x="435.00" y="592.96" font-size="6.6" fill="#333" stroke="#333" stroke-width="0.16" text-anchor="middle" textLength="6.9" lengthAdjust="spacingAndGlyphs">11</text>
<text x="450.75" y="592.96" font-size="6.6" fill="#333" stroke="#333" stroke-width="0.16" text-anchor="middle" textLength="3.45" lengthAdjust="spacingAndGlyphs">7</text>
<text x="466.50" y="592.96" font-size="6.6" fill="#333" stroke="#333" stroke-width="0.16" text-anchor="middle" textLength="3.45" lengthAdjust="spacingAndGlyphs">6</text>
<text x="482.25" y="592.96" font-size="6.6" fill="#333" stroke="#333" stroke-width="0.16" text-anchor="middle" textLength="3.45" lengthAdjust="spacingAndGlyphs">4</text>
<text x="498.00" y="592.96" font-size="6.6" fill="#333" stroke="#333" stroke-width="0.16" text-anchor="middle" textLength="3.45" lengthAdjust="spacingAndGlyphs">1</text>
<path d="M331 597.32H333.4" stroke="#222" stroke-width="0.8"/>
<path d="M311.3 597.32H316.5" stroke="#33a02c" stroke-width="1.0"/>
<text x="319.80" y="599.62" font-size="6.3" fill="#3f8f3a" stroke="#3f8f3a" stroke-width="0.16">S3</text>
<text x="340.50" y="599.72" font-size="6.6" fill="#333" stroke="#333" stroke-width="0.16" text-anchor="middle" textLength="6.9" lengthAdjust="spacingAndGlyphs">42</text>
<text x="356.25" y="599.72" font-size="6.6" fill="#333" stroke="#333" stroke-width="0.16" text-anchor="middle" textLength="6.9" lengthAdjust="spacingAndGlyphs">34</text>
<text x="372.00" y="599.72" font-size="6.6" fill="#333" stroke="#333" stroke-width="0.16" text-anchor="middle" textLength="6.9" lengthAdjust="spacingAndGlyphs">28</text>
<text x="387.75" y="599.72" font-size="6.6" fill="#333" stroke="#333" stroke-width="0.16" text-anchor="middle" textLength="6.9" lengthAdjust="spacingAndGlyphs">24</text>
<text x="403.50" y="599.72" font-size="6.6" fill="#333" stroke="#333" stroke-width="0.16" text-anchor="middle" textLength="6.9" lengthAdjust="spacingAndGlyphs">22</text>
<text x="419.25" y="599.72" font-size="6.6" fill="#333" stroke="#333" stroke-width="0.16" text-anchor="middle" textLength="6.9" lengthAdjust="spacingAndGlyphs">19</text>
<text x="435.00" y="599.72" font-size="6.6" fill="#333" stroke="#333" stroke-width="0.16" text-anchor="middle" textLength="6.9" lengthAdjust="spacingAndGlyphs">11</text>
<text x="450.75" y="599.72" font-size="6.6" fill="#333" stroke="#333" stroke-width="0.16" text-anchor="middle" textLength="6.9" lengthAdjust="spacingAndGlyphs">10</text>
<text x="466.50" y="599.72" font-size="6.6" fill="#333" stroke="#333" stroke-width="0.16" text-anchor="middle" textLength="3.45" lengthAdjust="spacingAndGlyphs">7</text>
<text x="482.25" y="599.72" font-size="6.6" fill="#333" stroke="#333" stroke-width="0.16" text-anchor="middle" textLength="3.45" lengthAdjust="spacingAndGlyphs">2</text>
<text x="498.00" y="599.72" font-size="6.6" fill="#333" stroke="#333" stroke-width="0.16" text-anchor="middle" textLength="3.45" lengthAdjust="spacingAndGlyphs">1</text>
<path d="M331 604.08H333.4" stroke="#222" stroke-width="0.8"/>
<path d="M311.3 604.08H316.5" stroke="#b2df8a" stroke-width="1.0"/>
<text x="319.80" y="606.38" font-size="6.3" fill="#9ac77a" stroke="#9ac77a" stroke-width="0.16">S4</text>
<text x="340.50" y="606.48" font-size="6.6" fill="#333" stroke="#333" stroke-width="0.16" text-anchor="middle" textLength="6.9" lengthAdjust="spacingAndGlyphs">45</text>
<text x="356.25" y="606.48" font-size="6.6" fill="#333" stroke="#333" stroke-width="0.16" text-anchor="middle" textLength="6.9" lengthAdjust="spacingAndGlyphs">40</text>
<text x="372.00" y="606.48" font-size="6.6" fill="#333" stroke="#333" stroke-width="0.16" text-anchor="middle" textLength="6.9" lengthAdjust="spacingAndGlyphs">39</text>
<text x="387.75" y="606.48" font-size="6.6" fill="#333" stroke="#333" stroke-width="0.16" text-anchor="middle" textLength="6.9" lengthAdjust="spacingAndGlyphs">37</text>
<text x="403.50" y="606.48" font-size="6.6" fill="#333" stroke="#333" stroke-width="0.16" text-anchor="middle" textLength="6.9" lengthAdjust="spacingAndGlyphs">35</text>
<text x="419.25" y="606.48" font-size="6.6" fill="#333" stroke="#333" stroke-width="0.16" text-anchor="middle" textLength="6.9" lengthAdjust="spacingAndGlyphs">32</text>
<text x="435.00" y="606.48" font-size="6.6" fill="#333" stroke="#333" stroke-width="0.16" text-anchor="middle" textLength="6.9" lengthAdjust="spacingAndGlyphs">24</text>
<text x="450.75" y="606.48" font-size="6.6" fill="#333" stroke="#333" stroke-width="0.16" text-anchor="middle" textLength="6.9" lengthAdjust="spacingAndGlyphs">21</text>
<text x="466.50" y="606.48" font-size="6.6" fill="#333" stroke="#333" stroke-width="0.16" text-anchor="middle" textLength="6.9" lengthAdjust="spacingAndGlyphs">19</text>
<text x="482.25" y="606.48" font-size="6.6" fill="#333" stroke="#333" stroke-width="0.16" text-anchor="middle" textLength="6.9" lengthAdjust="spacingAndGlyphs">18</text>
<text x="498.00" y="606.48" font-size="6.6" fill="#333" stroke="#333" stroke-width="0.16" text-anchor="middle" textLength="6.9" lengthAdjust="spacingAndGlyphs">14</text>
<path d="M331 610.84H333.4" stroke="#222" stroke-width="0.8"/>
<path d="M311.3 610.84H316.5" stroke="#fb9a99" stroke-width="1.0"/>
<text x="319.80" y="613.14" font-size="6.3" fill="#e99a9a" stroke="#e99a9a" stroke-width="0.16">S5</text>
<text x="340.50" y="613.24" font-size="6.6" fill="#333" stroke="#333" stroke-width="0.16" text-anchor="middle" textLength="6.9" lengthAdjust="spacingAndGlyphs">55</text>
<text x="356.25" y="613.24" font-size="6.6" fill="#333" stroke="#333" stroke-width="0.16" text-anchor="middle" textLength="6.9" lengthAdjust="spacingAndGlyphs">44</text>
<text x="372.00" y="613.24" font-size="6.6" fill="#333" stroke="#333" stroke-width="0.16" text-anchor="middle" textLength="6.9" lengthAdjust="spacingAndGlyphs">41</text>
<text x="387.75" y="613.24" font-size="6.6" fill="#333" stroke="#333" stroke-width="0.16" text-anchor="middle" textLength="6.9" lengthAdjust="spacingAndGlyphs">38</text>
<text x="403.50" y="613.24" font-size="6.6" fill="#333" stroke="#333" stroke-width="0.16" text-anchor="middle" textLength="6.9" lengthAdjust="spacingAndGlyphs">32</text>
<text x="419.25" y="613.24" font-size="6.6" fill="#333" stroke="#333" stroke-width="0.16" text-anchor="middle" textLength="6.9" lengthAdjust="spacingAndGlyphs">27</text>
<text x="435.00" y="613.24" font-size="6.6" fill="#333" stroke="#333" stroke-width="0.16" text-anchor="middle" textLength="6.9" lengthAdjust="spacingAndGlyphs">19</text>
<text x="450.75" y="613.24" font-size="6.6" fill="#333" stroke="#333" stroke-width="0.16" text-anchor="middle" textLength="6.9" lengthAdjust="spacingAndGlyphs">16</text>
<text x="466.50" y="613.24" font-size="6.6" fill="#333" stroke="#333" stroke-width="0.16" text-anchor="middle" textLength="6.9" lengthAdjust="spacingAndGlyphs">11</text>
<text x="482.25" y="613.24" font-size="6.6" fill="#333" stroke="#333" stroke-width="0.16" text-anchor="middle" textLength="3.45" lengthAdjust="spacingAndGlyphs">6</text>
<text x="498.00" y="613.24" font-size="6.6" fill="#333" stroke="#333" stroke-width="0.16" text-anchor="middle" textLength="3.45" lengthAdjust="spacingAndGlyphs">4</text>
<path d="M331 617.60H333.4" stroke="#222" stroke-width="0.8"/>
<path d="M311.3 617.60H316.5" stroke="#fdbf6f" stroke-width="1.0"/>
<text x="319.80" y="619.90" font-size="6.3" fill="#e8b47a" stroke="#e8b47a" stroke-width="0.16">S6</text>
<text x="340.50" y="620.00" font-size="6.6" fill="#333" stroke="#333" stroke-width="0.16" text-anchor="middle" textLength="6.9" lengthAdjust="spacingAndGlyphs">39</text>
<text x="356.25" y="620.00" font-size="6.6" fill="#333" stroke="#333" stroke-width="0.16" text-anchor="middle" textLength="6.9" lengthAdjust="spacingAndGlyphs">31</text>
<text x="372.00" y="620.00" font-size="6.6" fill="#333" stroke="#333" stroke-width="0.16" text-anchor="middle" textLength="6.9" lengthAdjust="spacingAndGlyphs">27</text>
<text x="387.75" y="620.00" font-size="6.6" fill="#333" stroke="#333" stroke-width="0.16" text-anchor="middle" textLength="6.9" lengthAdjust="spacingAndGlyphs">24</text>
<text x="403.50" y="620.00" font-size="6.6" fill="#333" stroke="#333" stroke-width="0.16" text-anchor="middle" textLength="6.9" lengthAdjust="spacingAndGlyphs">20</text>
<text x="419.25" y="620.00" font-size="6.6" fill="#333" stroke="#333" stroke-width="0.16" text-anchor="middle" textLength="6.9" lengthAdjust="spacingAndGlyphs">14</text>
<text x="435.00" y="620.00" font-size="6.6" fill="#333" stroke="#333" stroke-width="0.16" text-anchor="middle" textLength="6.9" lengthAdjust="spacingAndGlyphs">13</text>
<text x="450.75" y="620.00" font-size="6.6" fill="#333" stroke="#333" stroke-width="0.16" text-anchor="middle" textLength="6.9" lengthAdjust="spacingAndGlyphs">11</text>
<text x="466.50" y="620.00" font-size="6.6" fill="#333" stroke="#333" stroke-width="0.16" text-anchor="middle" textLength="6.9" lengthAdjust="spacingAndGlyphs">11</text>
<text x="482.25" y="620.00" font-size="6.6" fill="#333" stroke="#333" stroke-width="0.16" text-anchor="middle" textLength="3.45" lengthAdjust="spacingAndGlyphs">9</text>
<text x="498.00" y="620.00" font-size="6.6" fill="#333" stroke="#333" stroke-width="0.16" text-anchor="middle" textLength="3.45" lengthAdjust="spacingAndGlyphs">7</text>
<path d="M331 624.36H333.4" stroke="#222" stroke-width="0.8"/>
<path d="M311.3 624.36H316.5" stroke="#cf2e2a" stroke-width="1.0"/>
<text x="319.80" y="626.66" font-size="6.3" fill="#c8363a" stroke="#c8363a" stroke-width="0.16">S7</text>
<text x="340.50" y="626.76" font-size="6.6" fill="#333" stroke="#333" stroke-width="0.16" text-anchor="middle" textLength="6.9" lengthAdjust="spacingAndGlyphs">36</text>
<text x="356.25" y="626.76" font-size="6.6" fill="#333" stroke="#333" stroke-width="0.16" text-anchor="middle" textLength="6.9" lengthAdjust="spacingAndGlyphs">28</text>
<text x="372.00" y="626.76" font-size="6.6" fill="#333" stroke="#333" stroke-width="0.16" text-anchor="middle" textLength="6.9" lengthAdjust="spacingAndGlyphs">20</text>
<text x="387.75" y="626.76" font-size="6.6" fill="#333" stroke="#333" stroke-width="0.16" text-anchor="middle" textLength="6.9" lengthAdjust="spacingAndGlyphs">18</text>
<text x="403.50" y="626.76" font-size="6.6" fill="#333" stroke="#333" stroke-width="0.16" text-anchor="middle" textLength="6.9" lengthAdjust="spacingAndGlyphs">14</text>
<text x="419.25" y="626.76" font-size="6.6" fill="#333" stroke="#333" stroke-width="0.16" text-anchor="middle" textLength="6.9" lengthAdjust="spacingAndGlyphs">13</text>
<text x="435.00" y="626.76" font-size="6.6" fill="#333" stroke="#333" stroke-width="0.16" text-anchor="middle" textLength="3.45" lengthAdjust="spacingAndGlyphs">5</text>
<text x="450.75" y="626.76" font-size="6.6" fill="#333" stroke="#333" stroke-width="0.16" text-anchor="middle" textLength="3.45" lengthAdjust="spacingAndGlyphs">1</text>
<text x="466.50" y="626.76" font-size="6.6" fill="#333" stroke="#333" stroke-width="0.16" text-anchor="middle" textLength="3.45" lengthAdjust="spacingAndGlyphs">0</text>
<text x="482.25" y="626.76" font-size="6.6" fill="#333" stroke="#333" stroke-width="0.16" text-anchor="middle" textLength="3.45" lengthAdjust="spacingAndGlyphs">0</text>
<text x="498.00" y="626.76" font-size="6.6" fill="#333" stroke="#333" stroke-width="0.16" text-anchor="middle" textLength="3.45" lengthAdjust="spacingAndGlyphs">0</text>
<path d="M331 631.12H333.4" stroke="#222" stroke-width="0.8"/>
<path d="M311.3 631.12H316.5" stroke="#f5842a" stroke-width="1.0"/>
<text x="319.80" y="633.42" font-size="6.3" fill="#e8a070" stroke="#e8a070" stroke-width="0.16">S8</text>
<text x="340.50" y="633.52" font-size="6.6" fill="#333" stroke="#333" stroke-width="0.16" text-anchor="middle" textLength="6.9" lengthAdjust="spacingAndGlyphs">36</text>
<text x="356.25" y="633.52" font-size="6.6" fill="#333" stroke="#333" stroke-width="0.16" text-anchor="middle" textLength="6.9" lengthAdjust="spacingAndGlyphs">35</text>
<text x="372.00" y="633.52" font-size="6.6" fill="#333" stroke="#333" stroke-width="0.16" text-anchor="middle" textLength="6.9" lengthAdjust="spacingAndGlyphs">32</text>
<text x="387.75" y="633.52" font-size="6.6" fill="#333" stroke="#333" stroke-width="0.16" text-anchor="middle" textLength="6.9" lengthAdjust="spacingAndGlyphs">30</text>
<text x="403.50" y="633.52" font-size="6.6" fill="#333" stroke="#333" stroke-width="0.16" text-anchor="middle" textLength="6.9" lengthAdjust="spacingAndGlyphs">22</text>
<text x="419.25" y="633.52" font-size="6.6" fill="#333" stroke="#333" stroke-width="0.16" text-anchor="middle" textLength="6.9" lengthAdjust="spacingAndGlyphs">19</text>
<text x="435.00" y="633.52" font-size="6.6" fill="#333" stroke="#333" stroke-width="0.16" text-anchor="middle" textLength="6.9" lengthAdjust="spacingAndGlyphs">14</text>
<text x="450.75" y="633.52" font-size="6.6" fill="#333" stroke="#333" stroke-width="0.16" text-anchor="middle" textLength="6.9" lengthAdjust="spacingAndGlyphs">11</text>
<text x="466.50" y="633.52" font-size="6.6" fill="#333" stroke="#333" stroke-width="0.16" text-anchor="middle" textLength="6.9" lengthAdjust="spacingAndGlyphs">10</text>
<text x="482.25" y="633.52" font-size="6.6" fill="#333" stroke="#333" stroke-width="0.16" text-anchor="middle" textLength="3.45" lengthAdjust="spacingAndGlyphs">7</text>
<text x="498.00" y="633.52" font-size="6.6" fill="#333" stroke="#333" stroke-width="0.16" text-anchor="middle" textLength="3.45" lengthAdjust="spacingAndGlyphs">6</text>
<path d="M340.50 637.8V640.9" stroke="#222" stroke-width="0.8"/>
<text x="340.50" y="649.90" font-size="7.1" fill="#333" stroke="#333" stroke-width="0.16" text-anchor="middle" textLength="3.45" lengthAdjust="spacingAndGlyphs">0</text>
<path d="M356.25 637.8V640.9" stroke="#222" stroke-width="0.8"/>
<text x="356.25" y="649.90" font-size="7.1" fill="#333" stroke="#333" stroke-width="0.16" text-anchor="middle" textLength="10.35" lengthAdjust="spacingAndGlyphs">100</text>
<path d="M372.00 637.8V640.9" stroke="#222" stroke-width="0.8"/>
<text x="372.00" y="649.90" font-size="7.1" fill="#333" stroke="#333" stroke-width="0.16" text-anchor="middle" textLength="10.35" lengthAdjust="spacingAndGlyphs">200</text>
<path d="M387.75 637.8V640.9" stroke="#222" stroke-width="0.8"/>
<text x="387.75" y="649.90" font-size="7.1" fill="#333" stroke="#333" stroke-width="0.16" text-anchor="middle" textLength="10.35" lengthAdjust="spacingAndGlyphs">300</text>
<path d="M403.50 637.8V640.9" stroke="#222" stroke-width="0.8"/>
<text x="403.50" y="649.90" font-size="7.1" fill="#333" stroke="#333" stroke-width="0.16" text-anchor="middle" textLength="10.35" lengthAdjust="spacingAndGlyphs">400</text>
<path d="M419.25 637.8V640.9" stroke="#222" stroke-width="0.8"/>
<text x="419.25" y="649.90" font-size="7.1" fill="#333" stroke="#333" stroke-width="0.16" text-anchor="middle" textLength="10.35" lengthAdjust="spacingAndGlyphs">500</text>
<path d="M435.00 637.8V640.9" stroke="#222" stroke-width="0.8"/>
<text x="435.00" y="649.90" font-size="7.1" fill="#333" stroke="#333" stroke-width="0.16" text-anchor="middle" textLength="10.35" lengthAdjust="spacingAndGlyphs">600</text>
<path d="M450.75 637.8V640.9" stroke="#222" stroke-width="0.8"/>
<text x="450.75" y="649.90" font-size="7.1" fill="#333" stroke="#333" stroke-width="0.16" text-anchor="middle" textLength="10.35" lengthAdjust="spacingAndGlyphs">700</text>
<path d="M466.50 637.8V640.9" stroke="#222" stroke-width="0.8"/>
<text x="466.50" y="649.90" font-size="7.1" fill="#333" stroke="#333" stroke-width="0.16" text-anchor="middle" textLength="10.35" lengthAdjust="spacingAndGlyphs">800</text>
<path d="M482.25 637.8V640.9" stroke="#222" stroke-width="0.8"/>
<text x="482.25" y="649.90" font-size="7.1" fill="#333" stroke="#333" stroke-width="0.16" text-anchor="middle" textLength="10.35" lengthAdjust="spacingAndGlyphs">900</text>
<path d="M498.00 637.8V640.9" stroke="#222" stroke-width="0.8"/>
<text x="498.00" y="649.90" font-size="7.1" fill="#333" stroke="#333" stroke-width="0.16" text-anchor="middle" textLength="13.8" lengthAdjust="spacingAndGlyphs">1000</text>
<text x="419.50" y="661.00" font-size="8.4" fill="#333" stroke="#333" stroke-width="0.16" text-anchor="middle" textLength="33.6" lengthAdjust="spacingAndGlyphs">Time (days)</text>
<rect x="0.5" y="0.5" width="519" height="671" fill="none" stroke="#555" stroke-width="1"/>
</svg>
</body></html>
